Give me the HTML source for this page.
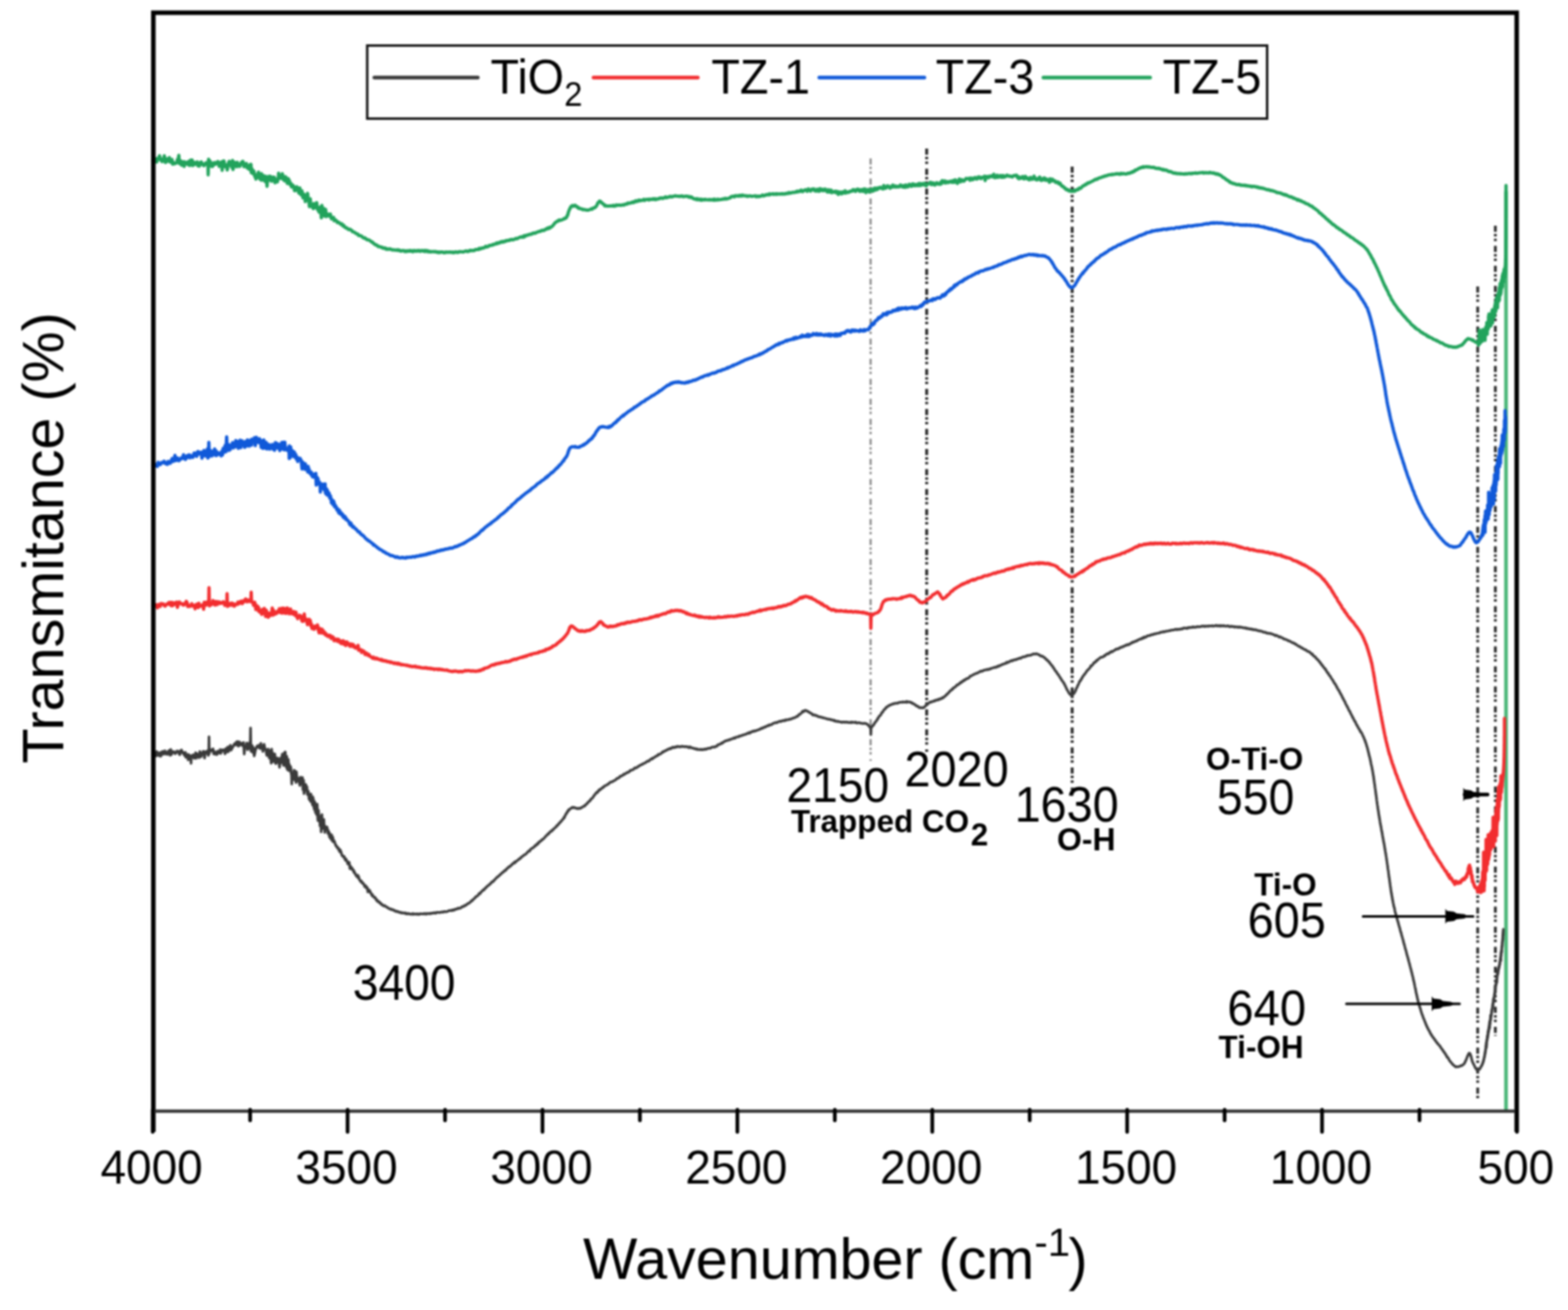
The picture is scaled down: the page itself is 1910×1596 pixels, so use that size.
<!DOCTYPE html>
<html><head><meta charset="utf-8"><title>FTIR spectra</title>
<style>
html,body{margin:0;padding:0;background:#fff;overflow:hidden;}
svg{display:block;filter:blur(0.8px);}
text{font-family:"Liberation Sans", Arial, sans-serif;fill:#000;}
</style></head>
<body>
<svg width="1910" height="1596" viewBox="0 0 1910 1596">
<rect x="0" y="0" width="1910" height="1596" fill="#fff"/>
<!-- dotted guide lines -->
<g fill="none" stroke-dasharray="7.5 2.6 3 2.6 3 5.7">
<line x1="1060.5" y1="193" x2="1060.5" y2="927" stroke="#8a8a8a" stroke-width="2.6"/>
<line x1="1128.8" y1="181" x2="1128.8" y2="916" stroke="#2a2a2a" stroke-width="3.6"/>
<line x1="1306" y1="203" x2="1306" y2="962" stroke="#2a2a2a" stroke-width="3.6"/>
<line x1="1800" y1="349" x2="1800" y2="1338" stroke="#2a2a2a" stroke-width="3.4"/>
<line x1="1821.5" y1="275" x2="1821.5" y2="1262" stroke="#2a2a2a" stroke-width="3.4"/>
</g>
<!-- curves -->
<g fill="none" stroke-linejoin="round" stroke-linecap="round">
<line x1="1834.5" y1="234" x2="1834.5" y2="1353" stroke="#48b576" stroke-width="4.4"/>
<path d="M186.0 919.0L186.4 919.0L187.3 914.7L188.4 921.4L188.9 918.7L189.6 917.3L190.2 920.9L190.9 915.6L191.7 920.5L192.5 917.1L193.4 918.2L194.3 921.0L195.2 917.0L196.1 921.3L197.1 916.1L198.0 915.5L199.0 918.9L199.9 915.4L200.9 914.8L201.6 918.6L202.4 917.2L203.1 916.2L203.9 919.1L204.7 918.2L205.5 914.6L206.4 914.2L207.2 920.2L208.1 913.2L208.9 919.4L209.8 916.3L210.7 915.6L211.5 916.7L212.4 915.9L213.3 918.3L214.1 917.5L215.0 916.4L215.8 914.8L216.7 915.3L217.5 915.9L218.3 918.7L219.0 919.5L219.8 914.6L220.5 917.2L221.2 913.7L221.9 916.3L222.8 916.4L223.6 918.3L224.4 919.9L225.1 920.6L225.8 916.5L226.5 922.7L227.2 921.5L227.8 921.1L228.5 919.2L229.2 925.9L230.0 919.3L230.7 923.0L231.5 924.6L232.4 921.0L232.7 930.0L233.0 921.0L233.1 920.7L233.7 922.5L234.4 922.0L235.2 919.6L235.9 923.3L236.7 923.9L237.5 921.9L238.3 917.1L239.1 923.8L240.0 918.4L240.8 919.1L241.7 921.4L242.5 923.0L243.4 915.7L244.2 917.3L245.1 922.0L245.9 917.9L246.8 917.8L247.6 915.3L248.4 916.9L249.2 923.6L250.0 915.9L250.8 917.9L251.6 915.8L252.3 914.9L253.0 916.1L253.7 920.3L254.3 918.5L254.6 897.5L254.9 918.5L255.3 912.6L256.2 914.9L257.1 913.5L257.9 914.9L258.7 914.9L259.5 912.3L260.3 918.6L261.1 915.6L261.9 918.7L262.8 919.0L263.8 916.4L264.4 919.3L265.1 915.0L265.9 916.5L266.6 917.5L267.4 917.5L268.2 913.2L269.0 918.0L269.8 914.5L270.7 913.4L271.5 914.8L272.4 913.5L273.2 913.5L274.1 918.4L275.0 912.0L275.8 911.8L276.7 916.2L277.5 910.1L278.4 915.7L279.2 912.5L280.0 909.1L280.7 908.0L281.5 914.0L282.2 912.3L282.9 911.4L283.5 909.8L284.1 909.4L284.7 907.8L285.7 906.0L286.5 905.8L287.2 907.7L287.9 904.2L288.6 904.6L289.3 903.3L290.1 909.0L291.0 908.9L291.6 903.9L292.3 906.9L293.0 906.5L293.7 907.5L294.4 905.5L295.1 907.7L295.9 908.9L296.7 904.5L297.5 918.6L298.3 909.7L299.1 910.4L299.9 908.7L300.7 905.2L301.6 913.3L302.4 912.6L303.2 907.0L304.1 904.7L304.9 905.9L305.2 886.9L305.5 905.9L305.7 915.3L306.5 914.3L307.2 908.4L308.0 916.9L308.8 910.9L309.6 921.0L310.5 917.3L311.3 913.2L312.1 911.6L312.9 909.2L313.7 910.0L314.6 908.3L315.4 907.9L316.2 911.7L317.0 911.8L317.8 905.6L318.6 911.6L319.4 910.0L320.2 915.5L320.9 909.0L321.7 906.8L322.4 910.4L323.1 913.1L323.7 912.8L324.3 916.6L325.0 920.3L325.6 917.4L326.2 920.4L326.8 912.5L327.4 917.6L328.0 923.6L328.6 914.7L329.1 923.0L329.7 922.2L330.3 929.9L330.9 912.7L331.4 920.7L332.0 917.2L332.6 927.8L333.1 923.7L333.7 919.2L334.2 925.6L334.8 918.5L335.4 929.5L336.0 930.4L336.5 923.1L337.1 928.4L337.9 928.7L338.8 923.9L339.6 926.5L340.5 934.8L341.3 927.1L342.2 923.1L343.0 929.2L343.8 918.8L344.6 923.4L345.4 932.7L346.2 917.1L346.9 925.3L347.5 916.1L348.0 926.7L348.5 933.5L348.9 934.8L349.3 921.4L349.7 934.5L350.0 937.6L350.3 934.7L350.6 937.8L350.9 932.0L351.2 925.2L351.5 931.3L351.8 938.9L352.1 930.7L352.5 932.9L352.9 933.2L353.3 933.1L353.8 938.9L354.2 934.4L354.7 942.9L355.1 943.2L355.4 955.2L355.7 943.2L355.6 943.6L356.1 944.3L356.6 950.0L357.1 941.3L357.7 942.2L358.2 938.4L358.8 947.0L359.4 950.7L360.0 939.7L360.6 953.4L361.1 940.3L361.7 948.7L362.3 948.3L362.9 947.9L363.5 951.8L364.1 950.5L364.7 954.2L365.3 956.9L365.8 946.8L366.4 954.2L366.9 951.4L367.5 954.3L368.0 949.3L368.5 947.2L369.0 962.1L369.4 960.5L369.9 950.7L370.3 966.9L370.8 957.3L371.2 962.0L371.7 955.8L372.1 956.4L372.6 955.9L373.0 963.2L373.4 960.4L373.9 958.6L374.3 967.6L374.7 968.0L375.2 963.5L375.6 964.3L376.0 966.4L376.4 973.5L376.8 970.2L377.2 974.5L377.6 968.6L378.0 972.8L378.4 976.7L378.8 967.3L379.2 974.0L379.5 974.4L379.9 974.1L380.3 977.4L380.6 980.7L381.0 970.8L381.4 973.8L381.8 973.4L382.1 983.1L382.5 982.3L382.8 986.1L383.2 985.1L383.5 976.8L383.8 984.4L384.2 989.9L384.5 988.4L384.8 986.2L385.1 980.8L385.4 992.1L385.7 990.0L386.0 991.5L386.4 979.7L386.7 987.8L387.0 996.1L387.3 999.9L387.6 987.2L388.0 987.2L388.3 995.1L388.7 993.9L389.0 994.2L389.4 994.6L389.8 1006.1L390.1 999.1L390.5 998.0L390.9 999.5L391.2 1013.5L391.5 999.5L391.3 998.9L391.7 1006.9L392.1 992.4L392.5 1001.4L392.9 1000.2L393.3 1009.3L393.7 1007.7L394.1 1001.1L394.5 998.4L394.9 1008.5L395.3 1005.5L395.7 1014.2L396.2 1008.3L396.6 1007.9L397.0 1008.9L397.4 1009.3L397.8 1009.8L398.2 1007.3L398.7 1009.6L399.1 1010.5L399.5 1015.5L399.9 1013.7L400.3 1012.8L400.7 1013.9L401.2 1019.4L401.6 1015.0L402.0 1020.6L402.4 1019.8L402.8 1021.7L403.2 1017.3L403.6 1022.9L404.0 1017.2L404.5 1023.7L404.9 1024.6L405.3 1019.8L405.7 1021.8L406.2 1025.7L406.6 1025.8L407.0 1024.3L407.5 1025.4L408.0 1027.3L408.4 1028.5L408.9 1030.1L409.4 1029.7L409.9 1031.5L410.4 1031.6L410.8 1032.8L411.1 1033.1L411.5 1032.3L411.9 1034.1L412.3 1033.5L412.7 1034.2L413.1 1036.4L413.5 1034.5L414.0 1037.9L414.4 1035.5L414.8 1036.4L415.2 1037.4L415.7 1038.9L416.1 1040.5L416.6 1042.3L417.0 1041.9L417.5 1042.5L417.9 1043.4L418.4 1044.0L418.8 1044.6L419.3 1043.5L419.8 1045.8L420.2 1046.7L420.7 1048.0L421.2 1046.2L421.6 1046.8L422.1 1049.0L422.6 1048.6L423.0 1049.2L423.5 1052.5L424.0 1051.5L424.5 1051.7L424.9 1053.0L425.4 1050.6L425.9 1055.0L426.3 1058.3L426.8 1055.2L427.3 1055.8L427.7 1056.5L428.2 1058.6L428.6 1058.3L429.1 1057.8L429.5 1060.0L430.0 1059.4L430.4 1060.4L430.9 1062.5L431.3 1061.0L431.8 1063.8L432.3 1063.8L432.9 1064.1L433.4 1066.3L433.9 1066.5L434.4 1067.2L434.9 1068.2L435.4 1068.2L436.0 1066.3L436.5 1069.9L437.0 1068.3L437.5 1070.9L438.0 1071.7L438.5 1073.0L439.0 1072.9L439.5 1074.3L440.1 1073.3L440.6 1074.0L441.1 1075.7L441.6 1076.3L442.1 1075.9L442.6 1076.2L443.1 1077.4L443.6 1078.1L444.1 1080.1L444.6 1079.6L445.1 1078.8L445.6 1079.4L446.1 1081.8L446.6 1082.1L447.1 1081.0L447.6 1082.2L448.1 1086.7L448.6 1085.0L449.2 1085.0L449.7 1084.3L450.2 1085.3L450.8 1085.6L451.3 1087.9L451.8 1088.1L452.3 1088.7L452.8 1090.5L453.3 1091.2L453.8 1090.0L454.3 1092.2L454.8 1092.1L455.3 1092.6L455.9 1093.0L456.4 1094.0L456.9 1093.3L457.4 1094.5L458.0 1095.1L458.5 1096.9L459.1 1096.1L459.7 1097.6L460.2 1098.5L460.8 1097.9L461.4 1098.5L462.1 1098.9L462.7 1100.4L463.3 1099.9L464.0 1101.0L464.6 1102.0L465.3 1101.6L465.9 1102.4L466.6 1103.3L467.3 1103.8L468.0 1103.6L468.7 1103.2L469.4 1104.1L470.2 1104.7L470.9 1105.1L471.6 1105.1L472.4 1106.1L473.1 1106.5L473.9 1106.9L474.6 1107.3L475.4 1107.2L476.1 1107.9L476.9 1108.2L477.7 1107.8L478.4 1108.6L479.2 1108.9L479.9 1108.7L480.7 1109.7L481.5 1110.1L482.2 1109.8L483.0 1110.6L483.7 1110.2L484.5 1110.8L485.3 1110.7L486.0 1111.5L486.8 1111.3L487.6 1111.9L488.4 1111.4L489.1 1112.3L489.9 1112.3L490.7 1112.2L491.5 1112.2L492.3 1112.7L493.0 1112.5L493.8 1112.1L494.6 1113.3L495.4 1112.9L496.2 1113.5L497.0 1113.0L497.8 1112.9L498.6 1113.5L499.5 1113.8L500.3 1113.6L501.1 1113.8L502.0 1113.8L502.8 1112.9L503.7 1114.0L504.6 1113.4L505.3 1113.7L506.1 1113.4L506.8 1113.5L507.6 1114.0L508.4 1113.3L509.1 1113.4L509.9 1114.2L510.7 1114.0L511.5 1113.3L512.4 1113.1L513.2 1113.5L514.0 1113.5L514.8 1113.4L515.7 1113.0L516.5 1113.6L517.3 1112.9L518.2 1113.1L519.0 1113.8L519.9 1112.9L520.7 1113.1L521.6 1113.1L522.4 1112.9L523.3 1113.0L524.1 1113.3L524.9 1112.4L525.8 1112.7L526.6 1112.8L527.4 1112.1L528.3 1112.2L529.1 1112.4L529.9 1111.8L530.7 1112.6L531.5 1112.0L532.2 1111.4L533.0 1111.7L533.8 1111.7L534.5 1111.7L535.3 1111.8L536.0 1111.6L536.9 1111.6L537.8 1110.9L538.7 1111.2L539.5 1111.5L540.4 1110.6L541.3 1110.8L542.1 1110.6L543.0 1110.9L543.8 1110.7L544.7 1110.4L545.5 1110.4L546.3 1109.6L547.1 1109.5L547.9 1109.2L548.7 1109.4L549.5 1109.5L550.3 1108.8L551.1 1109.3L551.9 1108.3L552.6 1108.7L553.4 1108.9L554.1 1107.8L554.9 1107.6L555.6 1107.5L556.3 1107.6L557.0 1107.1L557.8 1106.4L558.6 1106.3L559.4 1106.9L560.1 1106.6L560.9 1106.1L561.6 1106.0L562.3 1105.1L563.0 1104.4L563.7 1104.7L564.4 1104.4L565.1 1104.3L565.7 1103.2L566.4 1103.1L567.1 1103.1L567.8 1102.6L568.5 1101.9L569.3 1101.4L570.0 1100.7L570.6 1100.8L571.2 1100.2L571.7 1100.0L572.3 1099.4L572.9 1099.2L573.4 1098.5L574.0 1097.6L574.6 1097.4L575.2 1097.5L575.8 1096.2L576.3 1096.1L576.9 1095.2L577.5 1094.9L578.1 1094.6L578.7 1093.8L579.3 1092.6L579.8 1092.8L580.4 1092.1L581.0 1091.7L581.7 1091.5L582.3 1090.7L582.9 1089.8L583.5 1088.7L584.1 1088.6L584.8 1088.8L585.4 1087.3L586.0 1086.7L586.7 1086.6L587.3 1085.5L588.0 1085.0L588.5 1084.2L589.1 1084.4L589.6 1084.2L590.2 1083.0L590.8 1082.4L591.3 1081.7L591.9 1081.9L592.5 1081.1L593.0 1080.1L593.6 1079.7L594.2 1079.0L594.8 1079.0L595.4 1078.6L596.0 1077.3L596.6 1077.5L597.2 1076.5L597.8 1076.5L598.4 1075.3L599.0 1074.6L599.6 1074.2L600.3 1074.4L600.9 1073.5L601.5 1073.2L602.1 1072.0L602.7 1071.8L603.4 1070.9L604.0 1070.3L604.6 1069.6L605.2 1069.2L605.9 1068.4L606.5 1067.8L607.1 1067.8L607.8 1066.9L608.4 1066.5L609.0 1065.6L609.7 1065.4L610.3 1064.8L610.9 1064.1L611.5 1063.2L612.2 1063.0L612.8 1062.9L613.4 1061.9L614.0 1061.0L614.7 1061.1L615.3 1060.2L615.9 1060.5L616.5 1059.0L617.1 1059.1L617.7 1058.0L618.4 1057.4L619.0 1057.4L619.6 1056.2L620.2 1055.7L620.9 1056.0L621.5 1055.4L622.1 1054.7L622.8 1053.8L623.4 1053.9L624.0 1052.6L624.7 1052.2L625.3 1052.0L625.9 1051.0L626.5 1051.6L627.2 1050.0L627.8 1050.6L628.4 1049.9L629.1 1049.2L629.7 1048.6L630.3 1048.5L631.0 1047.7L631.6 1047.2L632.2 1046.3L632.9 1046.6L633.5 1045.8L634.1 1045.7L634.8 1044.2L635.4 1044.0L636.0 1043.6L636.7 1043.3L637.3 1042.4L637.9 1042.4L638.5 1041.6L639.2 1041.2L639.8 1040.9L640.4 1040.8L641.1 1040.0L641.7 1039.3L642.3 1038.5L642.9 1038.2L643.6 1037.0L644.2 1036.8L644.8 1037.0L645.4 1036.9L646.0 1034.9L646.6 1034.8L647.3 1034.0L647.9 1033.6L648.5 1033.0L649.2 1033.1L649.8 1032.2L650.4 1031.9L651.1 1031.6L651.7 1030.2L652.4 1030.3L653.0 1029.2L653.7 1029.5L654.3 1028.8L655.0 1027.3L655.6 1027.9L656.3 1026.0L656.9 1025.8L657.5 1025.8L658.2 1024.5L658.8 1024.5L659.5 1024.2L660.1 1022.8L660.7 1022.9L661.4 1022.4L662.0 1021.9L662.6 1021.3L663.2 1020.7L663.8 1020.0L664.4 1019.1L665.0 1018.9L665.6 1018.1L666.2 1017.1L666.8 1017.2L667.4 1016.3L667.9 1015.4L668.5 1015.8L669.0 1014.7L669.6 1014.2L670.1 1013.4L670.6 1013.1L671.1 1013.2L671.6 1012.4L672.1 1012.6L672.6 1011.3L673.1 1011.1L673.8 1010.9L674.5 1010.0L675.1 1009.1L675.7 1008.8L676.4 1008.3L677.0 1007.8L677.5 1007.4L678.1 1005.9L678.7 1006.1L679.2 1005.5L679.8 1004.9L680.3 1004.3L680.8 1003.1L681.4 1002.9L681.9 1002.5L682.4 1002.1L682.9 1001.0L683.4 1000.5L683.9 1000.4L684.5 999.4L685.0 999.0L685.5 998.2L686.0 997.7L686.5 997.3L687.0 995.6L687.5 996.2L687.9 994.6L688.4 993.9L688.8 992.7L689.3 992.4L689.7 991.1L690.2 991.0L690.7 990.0L691.1 988.7L691.6 988.7L692.1 988.0L692.5 986.6L693.0 987.1L693.5 986.2L694.0 985.8L694.6 985.4L695.1 985.0L695.7 984.6L696.4 984.1L697.2 983.5L698.0 984.2L698.8 983.8L699.6 983.7L700.4 984.1L701.3 984.7L702.1 984.5L703.0 985.1L703.8 984.9L704.6 985.2L705.4 984.6L706.2 985.0L707.0 984.9L707.7 984.1L708.4 984.0L709.0 983.4L709.7 983.2L710.4 982.8L711.0 982.3L711.7 981.6L712.3 981.9L713.0 981.0L713.6 980.2L714.2 979.5L714.9 979.4L715.5 978.7L716.1 977.4L716.7 977.2L717.4 976.6L718.0 975.7L718.6 975.8L719.1 975.2L719.6 973.8L720.1 973.6L720.7 972.7L721.2 972.6L721.7 972.3L722.1 971.8L722.6 970.8L723.1 970.2L723.6 969.0L724.2 968.8L724.7 968.1L725.2 967.3L725.8 966.3L726.4 966.2L726.9 965.2L727.6 965.6L728.2 964.3L728.9 964.1L729.6 962.5L730.1 962.7L730.6 962.6L731.2 961.4L731.7 961.6L732.3 961.2L732.9 960.6L733.5 959.9L734.1 959.1L734.7 959.4L735.3 958.9L736.0 958.1L736.6 957.4L737.3 957.2L738.0 957.0L738.6 956.6L739.3 956.1L740.0 955.8L740.7 955.0L741.4 955.1L742.1 953.9L742.8 953.6L743.5 952.9L744.3 952.9L745.0 952.7L745.7 952.1L746.4 952.1L747.2 951.5L747.9 951.2L748.6 950.7L749.4 950.5L750.1 949.9L750.8 949.0L751.5 948.4L752.3 948.5L753.0 947.8L753.7 947.6L754.4 947.3L755.1 945.9L755.8 945.8L756.5 945.4L757.2 945.3L757.9 944.9L758.6 944.2L759.3 944.2L760.0 942.9L760.7 943.4L761.4 942.7L762.1 942.5L762.8 942.0L763.5 941.2L764.2 941.4L764.9 940.9L765.6 940.7L766.3 940.1L767.0 939.9L767.7 938.6L768.4 938.5L769.1 938.2L769.8 938.2L770.5 938.0L771.1 937.6L771.9 937.3L772.6 935.9L773.3 935.6L774.0 935.3L774.7 935.8L775.4 935.2L776.1 934.8L776.8 934.1L777.5 933.9L778.2 933.4L778.9 932.9L779.6 932.5L780.4 932.2L781.1 931.5L781.8 931.3L782.5 931.3L783.3 930.5L784.0 930.1L784.7 930.0L785.5 929.6L786.2 929.3L786.9 928.5L787.6 928.1L788.2 927.9L788.9 927.2L789.6 927.5L790.3 927.5L791.0 926.4L791.7 925.9L792.4 925.1L793.1 924.9L793.9 924.2L794.6 924.8L795.3 923.4L796.0 923.4L796.7 923.1L797.5 922.5L798.2 921.8L798.9 921.3L799.6 921.2L800.4 920.8L801.1 920.5L801.8 919.1L802.6 919.3L803.3 918.9L804.0 918.6L804.7 918.6L805.5 917.6L806.2 917.3L806.9 916.1L807.6 916.4L808.4 915.4L809.1 915.4L809.8 915.2L810.5 914.4L811.2 914.4L811.9 914.0L812.6 913.7L813.3 912.9L814.0 913.0L814.7 912.6L815.4 912.1L816.1 911.8L816.8 912.4L817.4 911.4L818.1 911.1L818.8 911.1L819.4 910.3L820.1 910.8L821.0 911.0L821.9 910.1L822.7 910.4L823.6 909.7L824.5 910.2L825.4 909.2L826.3 909.5L827.2 909.5L828.0 910.1L828.9 909.4L829.8 909.8L830.6 909.2L831.5 909.3L832.3 909.7L833.2 909.6L834.0 909.8L834.8 909.6L835.6 910.0L836.4 909.5L837.2 909.7L838.0 910.3L838.8 910.8L839.5 909.9L840.2 910.8L840.9 909.9L841.6 910.8L842.3 910.9L843.2 911.4L844.1 911.4L844.9 911.5L845.7 912.1L846.5 912.3L847.2 912.2L848.0 912.0L848.7 913.1L849.4 912.5L850.2 912.9L851.0 913.2L851.8 913.3L852.7 913.0L853.4 913.4L854.1 912.9L854.9 913.5L855.7 913.4L856.5 913.5L857.3 912.9L858.1 912.8L858.9 912.4L859.7 913.0L860.5 912.3L861.4 912.3L862.2 911.8L863.1 911.5L863.9 911.6L864.7 911.7L865.5 911.6L866.4 910.6L867.2 910.5L868.0 910.1L868.7 910.2L869.5 910.2L870.3 910.3L871.0 909.6L871.8 909.6L872.5 909.2L873.2 909.2L873.9 907.9L874.6 907.7L875.3 907.0L876.0 907.1L876.7 906.7L877.4 906.5L878.1 906.3L878.8 905.1L879.5 905.7L880.3 905.2L881.0 904.0L881.8 903.9L882.5 903.5L883.3 902.8L884.1 902.6L884.8 902.3L885.5 902.4L886.2 902.0L887.0 901.5L887.7 901.4L888.5 901.6L889.2 900.9L890.0 900.8L890.8 900.4L891.6 900.1L892.4 900.0L893.1 899.7L893.9 898.8L894.7 899.4L895.5 899.3L896.3 898.3L897.1 898.0L897.9 897.9L898.7 897.8L899.6 897.7L900.4 896.7L901.2 897.0L902.0 896.7L902.7 896.2L903.5 896.2L904.3 895.9L905.1 895.4L905.9 895.2L906.7 895.2L907.4 894.7L908.2 894.4L909.0 894.5L909.8 894.0L910.5 893.2L911.3 893.5L912.1 893.5L912.9 892.3L913.6 893.1L914.4 892.2L915.2 891.9L915.9 891.1L916.7 891.5L917.5 891.3L918.3 890.4L919.0 890.9L919.8 890.3L920.6 890.5L921.4 890.1L922.1 889.5L922.9 889.5L923.7 889.2L924.5 888.9L925.2 888.4L926.0 888.5L926.8 888.0L927.5 887.0L928.3 887.1L929.0 887.4L929.8 886.3L930.6 886.1L931.4 886.2L932.1 885.3L932.9 885.5L933.7 884.7L934.5 884.4L935.2 884.0L936.0 884.3L936.8 883.1L937.6 883.4L938.3 883.3L939.1 882.7L939.8 882.9L940.6 882.4L941.3 881.7L942.1 881.2L942.8 880.9L943.5 880.8L944.2 880.8L944.9 880.2L945.6 880.3L946.3 880.6L947.0 880.0L947.9 879.5L948.8 879.1L949.6 878.7L950.5 879.2L951.3 879.0L952.1 878.2L953.0 878.0L953.8 878.3L954.6 877.7L955.4 878.0L956.1 878.1L956.9 877.0L957.7 877.4L958.5 877.0L959.2 877.0L960.0 876.6L960.8 876.8L961.6 876.1L962.4 876.4L963.1 876.0L963.9 876.0L964.6 875.4L965.4 875.3L966.1 874.8L966.9 874.6L967.6 874.6L968.3 874.2L969.0 873.8L969.8 873.3L970.5 872.7L971.2 873.0L971.9 872.4L972.6 871.7L973.3 870.4L974.0 870.3L974.7 870.1L975.4 869.3L976.1 868.8L976.7 868.2L977.4 866.7L978.1 867.2L978.8 866.1L979.5 866.7L980.2 865.7L980.9 865.4L981.6 865.6L982.4 866.0L983.1 866.4L983.9 866.3L984.6 867.3L985.3 867.6L986.1 867.8L986.8 868.5L987.6 868.8L988.4 869.6L989.1 869.6L989.9 871.0L990.6 870.6L991.4 871.1L992.2 871.0L993.0 871.1L993.7 872.0L994.5 872.0L995.2 871.9L996.0 872.6L996.8 873.1L997.6 873.4L998.4 873.3L999.2 873.3L1000.1 873.9L1001.0 873.8L1001.9 874.3L1002.6 874.4L1003.3 874.6L1004.0 874.9L1004.7 875.0L1005.5 875.1L1006.2 875.4L1007.0 875.8L1007.8 875.9L1008.6 876.0L1009.4 876.5L1010.2 876.2L1011.0 876.4L1011.9 876.5L1012.7 877.2L1013.6 877.0L1014.4 877.4L1015.3 877.3L1016.1 878.3L1017.0 877.7L1017.8 878.6L1018.7 878.8L1019.5 879.1L1020.3 878.7L1021.2 878.9L1022.0 879.4L1022.8 879.4L1023.6 879.5L1024.4 879.5L1025.2 880.2L1026.1 879.7L1026.9 880.0L1027.7 879.6L1028.6 879.6L1029.4 880.1L1030.3 879.7L1031.1 879.9L1031.9 879.6L1032.8 880.1L1033.6 880.0L1034.5 880.5L1035.3 880.0L1036.1 879.9L1036.9 880.5L1037.7 879.7L1038.5 879.8L1039.3 880.1L1040.1 880.1L1040.9 880.1L1041.6 880.3L1042.4 879.7L1043.1 880.7L1043.8 880.8L1044.7 880.8L1045.7 880.4L1046.6 880.4L1047.6 880.9L1048.5 881.1L1049.4 881.0L1050.3 881.3L1051.1 881.6L1052.0 881.5L1052.8 881.0L1053.6 881.2L1054.3 881.6L1055.0 881.7L1055.7 881.8L1056.3 882.2L1057.2 883.4L1057.9 883.4L1058.5 884.3L1059.1 885.4L1059.8 886.3L1060.5 885.9L1060.8 894.9L1061.1 885.9L1060.9 885.7L1061.4 886.0L1061.9 885.3L1062.3 885.6L1062.8 884.3L1063.4 884.0L1063.9 883.7L1064.4 882.9L1064.9 881.7L1065.5 881.1L1066.0 879.9L1066.6 879.7L1067.2 878.4L1067.7 878.2L1068.3 877.2L1068.8 875.9L1069.4 875.8L1069.9 874.0L1070.5 873.6L1071.0 872.7L1071.5 872.0L1072.0 871.8L1072.5 871.4L1073.0 870.6L1073.4 869.9L1073.9 868.4L1074.3 868.4L1074.8 867.6L1075.2 867.6L1075.7 866.7L1076.2 865.5L1076.7 865.2L1077.2 864.3L1077.7 864.1L1078.3 863.7L1078.9 862.9L1079.5 861.6L1080.1 861.7L1080.8 861.3L1081.5 860.5L1082.1 859.8L1082.7 859.8L1083.4 859.7L1084.0 858.8L1084.7 858.9L1085.5 858.4L1086.2 858.4L1087.0 857.7L1087.8 857.4L1088.6 857.6L1089.4 857.0L1090.2 856.9L1091.0 856.7L1091.9 856.9L1092.7 856.6L1093.6 856.8L1094.4 856.0L1095.3 855.9L1096.2 855.6L1097.0 855.6L1097.9 855.5L1098.7 855.3L1099.6 855.7L1100.4 855.1L1101.2 855.3L1102.1 855.3L1102.9 855.4L1103.6 855.6L1104.4 854.5L1105.2 855.6L1105.9 855.2L1106.6 855.1L1107.5 855.0L1108.3 855.4L1109.1 855.7L1110.0 855.7L1110.8 856.9L1111.7 856.6L1112.5 857.6L1113.3 857.8L1114.1 858.0L1114.9 859.1L1115.7 859.1L1116.4 860.2L1117.2 860.4L1117.9 860.3L1118.7 861.0L1119.4 861.9L1120.1 861.9L1120.8 862.3L1121.5 862.2L1122.1 862.0L1122.8 862.3L1123.4 862.0L1124.2 862.4L1124.8 862.3L1125.5 861.9L1126.1 861.3L1126.7 860.5L1127.3 860.1L1127.8 859.3L1128.4 859.2L1129.0 858.8L1129.6 858.3L1130.2 857.7L1130.9 857.2L1131.7 856.4L1132.3 855.6L1133.0 855.5L1133.7 855.1L1134.4 855.5L1135.2 854.9L1135.9 854.7L1136.7 854.5L1137.5 853.8L1138.4 854.1L1139.2 853.2L1140.0 853.3L1140.8 852.9L1141.7 853.0L1142.5 852.1L1143.3 852.6L1144.1 851.7L1144.9 851.3L1145.7 851.7L1146.4 851.3L1147.1 851.0L1147.8 849.9L1148.5 850.4L1149.2 849.6L1149.9 849.1L1150.6 848.6L1151.2 848.2L1151.9 847.4L1152.5 846.7L1153.1 846.7L1153.7 845.3L1154.3 845.3L1154.9 844.4L1155.4 844.3L1156.0 843.6L1156.6 842.4L1157.2 842.3L1157.8 841.3L1158.4 841.0L1159.0 840.9L1159.6 839.8L1160.3 839.0L1160.9 839.3L1161.5 838.1L1162.1 837.6L1162.7 837.5L1163.3 837.1L1163.9 836.7L1164.5 835.7L1165.2 835.4L1165.8 834.4L1166.5 834.5L1167.2 834.1L1167.9 833.3L1168.6 833.2L1169.4 831.9L1170.0 832.2L1170.6 831.5L1171.2 830.6L1171.8 831.1L1172.4 829.9L1173.1 829.9L1173.7 829.0L1174.4 829.3L1175.1 828.2L1175.8 827.7L1176.5 827.8L1177.2 826.8L1177.9 826.9L1178.6 826.4L1179.3 826.3L1180.1 825.8L1180.8 825.2L1181.5 824.0L1182.3 823.6L1183.0 823.7L1183.8 822.9L1184.5 822.6L1185.3 822.1L1186.0 821.8L1186.7 821.4L1187.5 821.2L1188.2 820.8L1188.9 820.3L1189.7 820.3L1190.4 820.1L1191.2 819.5L1191.9 819.2L1192.7 819.0L1193.4 818.2L1194.2 818.2L1195.0 817.5L1195.8 818.0L1196.5 817.8L1197.3 817.0L1198.1 816.9L1198.9 816.3L1199.6 816.4L1200.4 816.2L1201.2 815.9L1202.0 815.8L1202.8 815.4L1203.5 815.8L1204.3 815.3L1205.1 815.5L1205.9 814.7L1206.7 814.8L1207.4 814.4L1208.2 814.0L1209.0 814.0L1209.8 813.5L1210.5 813.4L1211.3 813.1L1212.1 813.3L1212.8 812.8L1213.6 813.0L1214.3 812.0L1215.1 812.2L1215.8 811.4L1216.6 811.9L1217.3 810.8L1218.1 810.8L1218.8 810.9L1219.6 810.1L1220.3 809.5L1221.1 809.7L1221.8 809.1L1222.5 808.9L1223.3 808.8L1224.0 808.3L1224.8 808.4L1225.5 807.3L1226.3 807.8L1227.0 806.7L1227.8 807.0L1228.5 807.0L1229.3 806.1L1230.0 805.9L1230.8 805.3L1231.5 805.2L1232.3 804.7L1233.1 805.3L1233.9 804.4L1234.7 804.0L1235.5 804.1L1236.3 803.6L1237.1 803.8L1237.9 803.4L1238.8 803.3L1239.6 802.5L1240.4 802.5L1241.3 802.5L1242.1 801.7L1242.9 801.8L1243.7 801.9L1244.5 801.0L1245.3 800.8L1246.1 800.1L1246.9 800.5L1247.7 800.3L1248.4 800.0L1249.2 799.9L1249.9 799.2L1250.6 799.4L1251.3 798.7L1251.9 798.6L1252.6 798.8L1253.2 798.3L1254.2 798.5L1255.1 798.5L1256.0 797.8L1256.8 797.7L1257.6 797.3L1258.3 796.9L1259.1 796.6L1259.9 796.8L1260.7 796.9L1261.6 796.8L1262.3 796.4L1263.0 796.6L1263.7 796.9L1264.4 797.2L1265.2 797.7L1265.9 797.7L1266.7 798.6L1267.5 798.8L1268.2 799.5L1269.0 799.2L1269.7 799.4L1270.5 800.3L1271.2 800.4L1272.0 801.2L1272.7 801.4L1273.4 802.4L1274.1 803.2L1274.7 803.4L1275.2 803.5L1275.8 804.8L1276.3 804.8L1276.8 805.3L1277.4 805.8L1277.9 806.8L1278.4 807.0L1279.0 808.3L1279.5 808.5L1280.0 809.1L1280.5 810.1L1281.0 810.6L1281.5 810.9L1282.0 811.5L1282.5 812.6L1283.0 813.5L1283.5 814.1L1283.9 814.3L1284.4 815.4L1284.9 816.3L1285.3 816.9L1285.8 817.5L1286.3 818.0L1286.7 818.2L1287.2 819.2L1287.7 820.5L1288.2 820.7L1288.7 821.6L1289.2 821.9L1289.6 822.6L1290.1 823.7L1290.5 824.1L1291.0 824.9L1291.4 825.7L1291.9 826.1L1292.3 827.4L1292.8 827.6L1293.2 828.5L1293.7 829.2L1294.1 829.7L1294.6 830.4L1295.1 830.9L1295.5 831.6L1296.0 832.9L1296.4 832.9L1296.8 833.9L1297.3 835.3L1297.7 835.6L1298.2 836.9L1298.7 837.6L1299.1 839.1L1299.6 839.6L1300.0 840.7L1300.5 841.3L1300.9 842.0L1301.4 842.9L1301.9 844.1L1302.3 844.6L1302.8 845.1L1303.2 845.4L1303.7 846.3L1304.2 846.2L1304.6 846.7L1305.1 846.7L1305.5 847.0L1305.9 847.1L1306.4 846.3L1306.8 846.1L1307.2 845.9L1307.6 845.4L1308.0 844.7L1308.4 844.6L1308.9 843.9L1309.3 842.8L1309.7 842.2L1310.1 841.7L1310.5 840.3L1310.9 839.5L1311.3 838.3L1311.8 837.7L1312.2 837.1L1312.6 835.3L1313.0 835.2L1313.4 834.1L1313.9 833.2L1314.3 832.3L1314.7 831.0L1315.1 830.0L1315.6 829.7L1316.0 829.6L1316.5 828.3L1316.9 828.2L1317.4 826.7L1317.9 826.4L1318.3 825.7L1318.8 824.3L1319.3 824.0L1319.7 823.3L1320.2 822.7L1320.7 821.8L1321.1 821.6L1321.6 820.8L1322.1 820.3L1322.6 819.4L1323.1 818.8L1323.5 818.4L1324.0 817.2L1324.5 816.8L1325.0 816.6L1325.5 815.9L1326.0 815.2L1326.5 814.9L1327.1 814.3L1327.6 813.5L1328.2 812.7L1328.8 811.2L1329.3 811.8L1329.9 810.8L1330.5 810.3L1331.0 810.0L1331.6 808.9L1332.2 807.7L1332.8 807.8L1333.4 807.1L1334.0 806.3L1334.6 806.4L1335.2 805.3L1335.8 804.5L1336.4 804.8L1337.0 804.1L1337.7 803.4L1338.3 802.7L1339.0 802.3L1339.7 801.8L1340.4 801.3L1341.0 800.7L1341.7 800.9L1342.4 800.6L1343.1 800.5L1343.8 800.1L1344.5 799.7L1345.2 798.6L1345.9 799.0L1346.7 797.9L1347.4 797.5L1348.1 796.8L1348.8 796.4L1349.5 796.4L1350.3 796.6L1351.0 795.5L1351.8 794.9L1352.5 795.1L1353.3 794.0L1354.0 793.7L1354.8 794.2L1355.5 793.3L1356.3 793.0L1357.0 792.7L1357.8 792.2L1358.5 791.4L1359.3 791.4L1360.0 790.6L1360.8 790.6L1361.5 790.5L1362.3 790.7L1363.0 789.6L1363.7 789.7L1364.4 788.9L1365.1 789.0L1365.9 788.9L1366.6 788.1L1367.4 787.9L1368.2 788.0L1369.1 787.1L1369.9 787.0L1370.9 786.1L1371.5 786.1L1372.0 786.4L1372.6 785.6L1373.2 785.3L1373.9 785.4L1374.5 785.7L1375.2 784.8L1375.8 784.9L1376.5 784.4L1377.2 783.8L1377.9 783.9L1378.6 782.9L1379.3 782.5L1380.0 782.8L1380.8 781.8L1381.5 782.2L1382.3 781.7L1383.0 781.5L1383.8 780.7L1384.6 780.9L1385.3 780.7L1386.1 779.6L1386.9 779.5L1387.7 779.1L1388.5 778.7L1389.3 778.3L1390.1 778.6L1391.0 777.5L1391.8 777.9L1392.6 776.7L1393.4 777.2L1394.2 775.9L1395.1 776.3L1395.9 776.2L1396.7 775.6L1397.5 774.7L1398.3 774.6L1399.2 774.5L1400.0 774.2L1400.8 774.4L1401.6 773.6L1402.4 773.2L1403.1 773.4L1403.9 773.3L1404.7 772.6L1405.4 772.9L1406.2 772.1L1406.9 772.4L1407.7 772.1L1408.5 771.9L1409.3 771.7L1410.1 771.5L1410.8 771.4L1411.6 771.2L1412.4 771.2L1413.2 770.5L1414.0 770.1L1414.8 770.3L1415.6 770.2L1416.4 770.0L1417.2 769.4L1418.0 770.0L1418.8 769.8L1419.6 769.2L1420.4 769.2L1421.2 768.9L1422.1 768.9L1422.9 768.7L1423.7 768.5L1424.5 768.2L1425.3 768.4L1426.1 768.0L1426.9 767.7L1427.8 767.6L1428.6 767.7L1429.4 767.5L1430.2 767.4L1431.0 766.9L1431.9 766.8L1432.7 766.6L1433.5 767.3L1434.3 766.6L1435.1 766.8L1435.9 766.6L1436.7 766.9L1437.6 766.7L1438.4 766.2L1439.2 766.1L1440.0 766.4L1440.8 766.0L1441.6 765.1L1442.4 765.0L1443.2 765.3L1444.0 765.3L1444.8 765.1L1445.6 765.7L1446.4 764.9L1447.2 765.3L1448.0 764.4L1448.8 764.7L1449.6 764.3L1450.4 764.7L1451.2 764.5L1452.0 764.1L1452.8 763.6L1453.6 764.4L1454.4 763.9L1455.2 764.1L1456.0 764.3L1456.8 764.1L1457.6 763.5L1458.4 763.6L1459.2 763.4L1460.0 763.5L1460.8 763.8L1461.6 763.5L1462.4 763.4L1463.2 763.3L1464.0 762.7L1464.8 763.0L1465.6 762.8L1466.4 763.2L1467.3 762.7L1468.1 763.4L1468.9 763.0L1469.7 762.7L1470.5 762.8L1471.3 762.9L1472.1 763.1L1472.9 762.4L1473.7 762.7L1474.5 762.7L1475.3 762.5L1476.1 762.8L1476.9 762.2L1477.7 762.8L1478.5 763.0L1479.3 762.5L1480.1 762.4L1480.9 762.1L1481.7 761.9L1482.5 762.7L1483.3 762.3L1484.1 762.6L1484.9 762.1L1485.7 762.4L1486.5 763.0L1487.3 762.0L1488.1 762.3L1488.9 762.3L1489.7 762.8L1490.5 762.1L1491.3 762.4L1492.1 762.8L1493.0 762.9L1493.8 762.9L1494.6 762.8L1495.4 762.4L1496.2 762.6L1497.0 763.2L1497.8 763.7L1498.6 763.4L1499.4 762.9L1500.2 763.3L1501.0 763.2L1501.8 763.4L1502.6 763.6L1503.4 763.3L1504.2 764.1L1505.0 763.6L1505.8 763.6L1506.6 763.8L1507.4 764.2L1508.2 764.4L1509.0 763.7L1509.8 764.4L1510.6 763.8L1511.4 764.2L1512.2 764.3L1513.0 764.4L1513.8 764.6L1514.6 764.9L1515.4 765.0L1516.2 765.1L1517.0 764.7L1517.8 765.3L1518.6 765.8L1519.4 765.3L1520.2 765.7L1521.0 766.0L1521.8 766.4L1522.6 766.1L1523.4 766.4L1524.2 766.2L1525.0 767.0L1525.8 766.7L1526.6 766.8L1527.4 767.4L1528.2 767.4L1529.0 767.0L1529.9 767.3L1530.7 767.8L1531.5 767.9L1532.3 768.3L1533.1 768.6L1533.9 768.3L1534.7 769.0L1535.5 768.8L1536.4 768.9L1537.2 769.2L1538.0 769.5L1538.8 770.2L1539.6 770.1L1540.4 770.4L1541.2 770.2L1542.0 770.6L1542.8 771.4L1543.6 771.1L1544.4 771.4L1545.2 771.7L1546.0 771.5L1546.8 771.9L1547.5 771.7L1548.3 772.1L1549.1 772.3L1549.9 772.6L1550.6 772.8L1551.4 773.2L1552.1 773.5L1552.9 773.5L1553.6 774.5L1554.4 774.1L1555.1 774.1L1555.8 774.5L1556.6 775.0L1557.3 775.4L1558.0 776.2L1558.7 775.9L1559.4 775.7L1560.2 776.5L1561.0 777.0L1561.8 777.0L1562.6 777.3L1563.4 778.2L1564.2 778.6L1565.0 778.6L1565.8 778.9L1566.6 779.3L1567.4 779.5L1568.1 779.7L1568.9 780.6L1569.7 780.8L1570.4 780.6L1571.2 781.3L1571.9 781.7L1572.6 781.8L1573.4 782.7L1574.1 782.8L1574.8 783.4L1575.5 783.1L1576.2 783.5L1577.0 784.1L1577.7 784.8L1578.3 784.6L1579.0 785.5L1579.7 785.7L1580.4 786.2L1581.1 787.0L1581.7 787.2L1582.4 787.3L1583.0 787.3L1583.7 788.3L1584.3 788.7L1585.0 788.8L1585.6 789.0L1586.4 790.0L1587.1 789.9L1587.9 790.6L1588.6 790.9L1589.3 791.6L1590.0 791.5L1590.7 791.8L1591.4 792.4L1592.1 793.2L1592.7 793.1L1593.4 793.7L1594.0 793.8L1594.7 794.0L1595.3 794.6L1596.0 795.1L1596.6 795.7L1597.3 796.5L1597.9 797.2L1598.6 796.7L1599.3 798.1L1599.9 798.8L1600.6 799.5L1601.3 800.1L1601.8 799.9L1602.2 800.3L1602.7 801.2L1603.2 801.8L1603.7 802.6L1604.2 802.7L1604.7 803.2L1605.1 803.7L1605.6 804.1L1606.1 805.1L1606.6 805.3L1607.1 806.0L1607.6 806.9L1608.1 806.9L1608.6 808.0L1609.1 809.0L1609.6 808.9L1610.1 810.0L1610.6 810.8L1611.1 810.9L1611.6 811.7L1612.1 812.6L1612.6 813.1L1613.1 813.9L1613.6 814.7L1614.1 814.5L1614.6 815.9L1615.1 816.1L1615.6 817.4L1616.1 817.9L1616.6 819.1L1617.0 819.5L1617.5 820.0L1618.0 820.1L1618.5 821.7L1619.0 822.5L1619.5 823.0L1619.9 823.3L1620.4 823.9L1620.9 824.7L1621.3 825.7L1621.8 826.4L1622.2 826.9L1622.7 827.6L1623.1 828.2L1623.6 829.0L1624.0 829.9L1624.5 830.4L1624.9 831.6L1625.3 832.4L1625.8 832.4L1626.2 832.9L1626.6 834.0L1627.1 834.6L1627.5 835.3L1627.9 836.1L1628.3 837.4L1628.7 837.2L1629.2 838.6L1629.6 839.4L1630.0 839.8L1630.4 840.8L1630.8 840.8L1631.2 841.6L1631.6 842.6L1632.0 843.2L1632.4 844.4L1632.8 845.0L1633.2 845.3L1633.6 846.2L1634.0 847.2L1634.4 847.6L1634.8 848.5L1635.2 849.8L1635.6 850.1L1635.9 851.2L1636.3 851.2L1636.7 852.5L1637.1 853.3L1637.4 853.5L1637.8 854.3L1638.2 855.1L1638.5 855.6L1638.9 856.8L1639.2 857.6L1639.6 858.4L1639.9 858.6L1640.3 859.4L1640.6 859.9L1640.9 861.1L1641.3 861.3L1641.6 861.7L1641.9 862.4L1642.3 863.3L1642.6 864.2L1642.9 864.7L1643.2 865.5L1643.6 866.1L1644.1 866.4L1644.5 867.3L1644.9 868.2L1645.3 869.6L1645.7 870.1L1646.1 870.6L1646.5 871.4L1646.9 872.2L1647.2 872.8L1647.6 874.2L1647.9 874.2L1648.3 874.6L1648.7 875.9L1649.0 876.3L1649.4 877.4L1649.7 877.7L1650.1 878.5L1650.5 878.7L1650.8 879.3L1651.2 880.3L1651.6 881.0L1652.0 882.1L1652.4 882.9L1652.8 883.4L1653.2 883.7L1653.6 885.1L1654.0 885.6L1654.4 886.4L1654.8 887.1L1655.2 887.5L1655.6 888.2L1656.0 888.9L1656.4 890.0L1656.8 890.0L1657.2 891.5L1657.6 891.4L1658.0 892.4L1658.4 892.6L1658.8 893.3L1659.2 894.1L1659.6 895.1L1660.0 895.9L1660.4 897.1L1660.7 897.4L1661.1 898.1L1661.5 899.4L1661.8 900.0L1662.1 901.0L1662.3 901.2L1662.6 902.1L1662.8 902.7L1663.1 902.8L1663.3 904.5L1663.6 904.8L1663.8 905.2L1664.0 905.9L1664.3 906.9L1664.5 908.1L1664.7 908.0L1664.9 909.3L1665.2 909.8L1665.4 910.3L1665.6 911.5L1665.8 912.0L1666.0 913.0L1666.2 913.6L1666.4 914.5L1666.6 915.5L1666.8 915.9L1667.0 916.9L1667.2 917.4L1667.4 918.6L1667.6 919.7L1667.8 920.0L1668.0 921.3L1668.2 921.5L1668.4 922.5L1668.6 923.1L1668.8 923.9L1669.0 924.8L1669.2 925.9L1669.4 927.0L1669.6 927.7L1669.8 928.8L1669.9 929.3L1670.1 930.8L1670.3 931.6L1670.5 931.8L1670.7 933.4L1670.8 933.4L1671.0 934.2L1671.1 934.5L1671.3 935.8L1671.4 936.6L1671.5 937.5L1671.7 937.9L1671.8 938.7L1671.9 938.7L1672.1 940.1L1672.2 941.1L1672.3 941.5L1672.4 941.9L1672.6 943.3L1672.7 944.3L1672.8 944.8L1672.9 945.5L1673.1 945.6L1673.2 946.6L1673.3 947.8L1673.4 948.7L1673.5 949.5L1673.7 950.3L1673.8 951.2L1673.9 951.9L1674.0 952.4L1674.1 953.2L1674.2 954.3L1674.4 955.2L1674.5 955.5L1674.6 956.2L1674.7 957.9L1674.8 957.9L1674.9 959.4L1675.0 960.0L1675.2 960.6L1675.3 961.7L1675.4 962.5L1675.5 963.7L1675.6 963.8L1675.7 965.1L1675.8 965.8L1675.9 966.7L1676.0 967.5L1676.2 968.3L1676.3 969.4L1676.4 970.3L1676.5 970.2L1676.6 971.9L1676.7 972.2L1676.8 973.5L1676.9 974.2L1677.0 974.8L1677.2 976.1L1677.3 976.6L1677.4 978.0L1677.5 978.4L1677.6 979.3L1677.7 980.1L1677.8 980.8L1678.0 981.8L1678.1 982.4L1678.2 982.9L1678.3 984.2L1678.4 985.5L1678.5 985.8L1678.7 986.2L1678.8 987.1L1678.9 988.0L1679.0 988.3L1679.1 989.2L1679.3 990.0L1679.4 991.7L1679.5 991.8L1679.6 993.2L1679.8 993.2L1679.9 993.9L1680.0 995.3L1680.2 995.4L1680.3 997.3L1680.5 997.4L1680.6 998.8L1680.7 998.7L1680.9 1000.0L1681.0 1000.9L1681.1 1001.6L1681.3 1002.9L1681.4 1003.7L1681.6 1004.2L1681.7 1005.2L1681.8 1005.4L1682.0 1006.3L1682.1 1007.4L1682.3 1007.5L1682.4 1008.6L1682.5 1009.3L1682.7 1010.3L1682.8 1011.6L1683.0 1011.9L1683.1 1012.7L1683.3 1013.2L1683.4 1014.1L1683.5 1014.6L1683.7 1015.9L1683.8 1016.4L1684.0 1017.6L1684.1 1018.0L1684.2 1019.0L1684.4 1019.4L1684.5 1020.8L1684.7 1021.2L1684.8 1021.7L1685.0 1022.9L1685.1 1023.8L1685.2 1024.6L1685.4 1025.4L1685.5 1026.1L1685.7 1026.4L1685.8 1027.1L1685.9 1028.0L1686.1 1028.6L1686.2 1029.9L1686.4 1030.1L1686.5 1031.5L1686.6 1032.0L1686.8 1032.9L1686.9 1034.2L1687.1 1034.4L1687.2 1035.8L1687.3 1036.5L1687.5 1037.0L1687.6 1038.3L1687.8 1038.9L1687.9 1039.2L1688.0 1040.7L1688.2 1041.2L1688.3 1042.4L1688.4 1042.9L1688.5 1043.2L1688.7 1044.6L1688.8 1045.0L1688.9 1045.6L1689.0 1047.0L1689.1 1047.4L1689.3 1048.5L1689.4 1049.0L1689.5 1050.0L1689.6 1050.5L1689.7 1051.3L1689.8 1052.5L1690.0 1053.0L1690.1 1054.3L1690.2 1054.7L1690.3 1055.1L1690.4 1056.8L1690.5 1057.0L1690.6 1058.2L1690.7 1058.9L1690.8 1059.7L1691.0 1060.4L1691.1 1060.6L1691.2 1061.8L1691.3 1062.3L1691.4 1063.7L1691.5 1064.6L1691.6 1065.0L1691.7 1065.6L1691.8 1067.1L1691.9 1068.2L1692.0 1068.6L1692.2 1069.2L1692.3 1069.9L1692.4 1071.2L1692.5 1071.3L1692.6 1072.2L1692.7 1073.4L1692.8 1073.6L1692.9 1074.4L1693.0 1075.8L1693.2 1076.2L1693.3 1076.8L1693.4 1078.4L1693.5 1079.2L1693.6 1080.0L1693.7 1080.1L1693.9 1081.4L1694.0 1082.8L1694.1 1082.9L1694.2 1083.8L1694.3 1084.9L1694.5 1085.8L1694.6 1086.4L1694.7 1087.6L1694.8 1088.4L1695.0 1088.1L1695.1 1089.5L1695.2 1090.1L1695.4 1091.2L1695.5 1091.9L1695.6 1092.2L1695.8 1092.9L1695.9 1093.6L1696.0 1095.4L1696.2 1095.3L1696.3 1096.3L1696.5 1096.9L1696.6 1098.0L1696.7 1097.9L1696.9 1099.7L1697.0 1099.7L1697.2 1101.0L1697.4 1101.5L1697.6 1102.2L1697.7 1103.8L1697.9 1104.4L1698.1 1104.9L1698.3 1105.6L1698.5 1106.2L1698.7 1106.8L1698.9 1108.0L1699.0 1109.0L1699.2 1109.5L1699.4 1110.8L1699.6 1111.6L1699.8 1112.4L1700.0 1112.7L1700.2 1113.3L1700.4 1114.4L1700.7 1115.1L1700.9 1115.7L1701.1 1117.2L1701.3 1117.3L1701.5 1118.2L1701.7 1119.4L1701.9 1119.4L1702.1 1120.2L1702.3 1121.6L1702.6 1121.8L1702.8 1122.7L1703.0 1123.7L1703.2 1124.0L1703.4 1125.1L1703.6 1125.7L1703.8 1126.8L1704.1 1127.4L1704.3 1128.4L1704.5 1129.2L1704.7 1129.7L1704.9 1130.1L1705.2 1131.0L1705.4 1132.5L1705.6 1133.1L1705.8 1133.8L1706.0 1134.2L1706.2 1135.6L1706.5 1136.0L1706.7 1136.2L1706.9 1137.3L1707.1 1138.3L1707.3 1139.4L1707.5 1140.0L1707.7 1140.0L1708.0 1141.4L1708.2 1142.1L1708.4 1142.8L1708.6 1143.6L1708.8 1144.3L1709.0 1144.5L1709.2 1145.8L1709.4 1147.0L1709.6 1146.9L1709.8 1148.1L1710.0 1149.4L1710.2 1149.8L1710.5 1150.8L1710.7 1150.7L1710.9 1152.3L1711.1 1152.8L1711.3 1153.3L1711.5 1154.2L1711.7 1155.3L1711.9 1156.5L1712.1 1156.4L1712.4 1157.4L1712.6 1158.1L1712.8 1158.8L1713.0 1159.6L1713.2 1160.6L1713.4 1161.5L1713.6 1162.0L1713.8 1163.4L1714.0 1163.7L1714.3 1164.4L1714.5 1165.7L1714.7 1166.0L1714.9 1166.6L1715.1 1167.7L1715.3 1168.4L1715.5 1168.7L1715.7 1170.3L1715.9 1170.5L1716.1 1171.1L1716.3 1172.1L1716.6 1173.2L1716.8 1173.8L1717.0 1174.2L1717.2 1175.8L1717.4 1176.1L1717.6 1176.9L1717.8 1177.6L1718.0 1178.4L1718.2 1179.1L1718.4 1180.2L1718.6 1180.6L1718.8 1181.5L1719.0 1181.9L1719.2 1183.7L1719.4 1183.9L1719.6 1184.4L1719.8 1185.6L1719.9 1185.7L1720.1 1186.5L1720.3 1188.0L1720.5 1188.4L1720.7 1189.1L1720.9 1189.9L1721.1 1190.7L1721.3 1191.5L1721.5 1192.7L1721.7 1193.3L1721.8 1194.3L1722.0 1195.2L1722.2 1195.3L1722.4 1196.1L1722.6 1197.2L1722.7 1198.4L1722.9 1198.5L1723.1 1200.0L1723.3 1200.5L1723.4 1201.2L1723.6 1202.3L1723.8 1203.2L1723.9 1203.9L1724.1 1204.7L1724.3 1205.2L1724.4 1206.1L1724.6 1206.8L1724.7 1208.1L1724.9 1208.7L1725.1 1209.6L1725.2 1210.7L1725.4 1210.9L1725.6 1211.5L1725.7 1212.8L1725.9 1213.0L1726.1 1213.7L1726.3 1214.8L1726.4 1215.7L1726.6 1216.3L1726.8 1217.3L1727.0 1218.3L1727.2 1218.9L1727.3 1219.3L1727.5 1220.0L1727.7 1220.9L1727.9 1221.5L1728.1 1222.7L1728.3 1222.9L1728.5 1223.5L1728.7 1224.4L1728.9 1225.0L1729.2 1226.0L1729.4 1227.1L1729.6 1227.7L1729.9 1227.9L1730.1 1228.9L1730.4 1229.5L1730.6 1230.7L1730.9 1231.9L1731.2 1232.5L1731.4 1233.2L1731.7 1234.2L1732.0 1235.1L1732.2 1236.0L1732.5 1236.3L1732.8 1237.0L1733.1 1237.8L1733.3 1239.1L1733.6 1239.3L1733.9 1240.4L1734.2 1241.3L1734.5 1241.4L1734.8 1242.1L1735.1 1243.2L1735.4 1244.0L1735.7 1244.9L1736.0 1245.2L1736.3 1246.4L1736.6 1247.0L1736.9 1247.9L1737.2 1248.7L1737.5 1248.9L1737.9 1250.4L1738.2 1250.4L1738.5 1251.7L1738.8 1252.2L1739.2 1252.5L1739.5 1253.4L1739.9 1254.1L1740.2 1254.8L1740.6 1255.4L1740.9 1256.0L1741.3 1256.4L1741.7 1257.1L1742.1 1258.7L1742.6 1259.5L1743.0 1260.0L1743.4 1260.0L1743.9 1261.7L1744.3 1261.8L1744.8 1262.4L1745.2 1263.4L1745.7 1264.1L1746.2 1264.2L1746.6 1265.1L1747.1 1265.9L1747.6 1266.9L1748.1 1266.8L1748.6 1267.6L1749.1 1268.9L1749.6 1269.5L1750.1 1269.9L1750.5 1270.1L1751.0 1271.4L1751.5 1271.5L1752.0 1272.2L1752.6 1273.0L1753.1 1273.4L1753.6 1274.0L1754.1 1274.5L1754.6 1275.5L1755.1 1276.5L1755.6 1276.8L1756.1 1277.7L1756.6 1278.2L1757.1 1279.3L1757.5 1279.4L1758.0 1280.5L1758.5 1281.1L1759.0 1282.0L1759.5 1282.0L1760.0 1283.4L1760.5 1284.2L1761.1 1284.6L1761.6 1285.8L1762.1 1286.4L1762.6 1287.9L1763.1 1287.7L1763.6 1288.8L1764.2 1289.3L1764.7 1290.0L1765.2 1291.4L1765.7 1292.1L1766.2 1292.9L1766.8 1293.2L1767.3 1294.1L1767.8 1294.6L1768.3 1295.5L1768.8 1295.5L1769.3 1296.8L1769.8 1296.9L1770.3 1297.4L1770.8 1297.8L1771.3 1298.2L1771.8 1299.0L1772.3 1299.0L1772.8 1299.5L1773.2 1299.9L1773.7 1299.7L1774.6 1299.7L1775.4 1299.5L1776.3 1299.7L1777.1 1299.5L1778.0 1299.1L1778.8 1298.6L1779.6 1298.4L1780.4 1298.4L1781.2 1297.9L1781.9 1297.4L1782.6 1296.8L1783.1 1296.3L1783.6 1295.8L1784.1 1295.1L1784.6 1294.0L1785.0 1292.9L1785.5 1292.3L1785.9 1291.1L1786.3 1290.2L1786.7 1289.1L1787.1 1287.9L1787.5 1287.0L1787.8 1286.1L1788.2 1285.9L1788.5 1284.9L1788.9 1283.8L1789.2 1284.2L1789.6 1283.1L1789.9 1283.4L1790.3 1283.8L1790.6 1283.5L1790.9 1284.6L1791.2 1284.8L1791.4 1286.3L1791.7 1286.3L1792.0 1287.2L1792.2 1288.5L1792.5 1289.5L1792.8 1290.6L1793.0 1292.2L1793.3 1292.5L1793.6 1293.5L1793.9 1294.1L1794.3 1295.3L1794.7 1296.1L1795.1 1296.7L1795.5 1297.3L1796.0 1298.4L1796.4 1299.5L1796.9 1300.4L1797.4 1301.5L1797.8 1301.8L1798.3 1302.6L1798.8 1303.0L1799.3 1304.1L1799.7 1304.1L1800.2 1304.1L1800.7 1303.6L1801.1 1303.2L1801.6 1303.1L1802.1 1302.6L1802.6 1302.3L1803.0 1301.7L1803.5 1300.4L1804.0 1299.4L1804.4 1299.4L1804.9 1297.8L1805.3 1297.8L1805.7 1295.9L1806.1 1295.8L1806.2 1295.5L1806.3 1294.3L1806.4 1295.2L1806.5 1294.9L1806.6 1293.0L1806.6 1293.3L1806.7 1293.3L1806.8 1293.7L1806.9 1293.0L1807.0 1291.8L1807.1 1292.6L1807.1 1291.6L1807.2 1291.8L1807.3 1292.3L1807.4 1291.9L1807.4 1291.5L1807.5 1290.5L1807.6 1289.5L1807.7 1290.2L1807.7 1289.7L1807.8 1289.5L1807.9 1287.9L1807.9 1288.2L1808.0 1288.9L1808.1 1288.5L1808.1 1287.9L1808.2 1288.3L1808.3 1288.1L1808.3 1286.2L1808.4 1286.4L1808.5 1284.9L1808.5 1284.7L1808.6 1285.8L1808.6 1286.4L1808.7 1283.8L1808.8 1285.0L1808.8 1283.2L1808.9 1281.8L1808.9 1284.7L1809.0 1282.6L1809.0 1283.8L1809.1 1283.0L1809.2 1282.3L1809.2 1283.0L1809.3 1282.6L1809.3 1281.5L1809.4 1281.6L1809.4 1278.7L1809.5 1279.7L1809.5 1278.4L1809.6 1280.4L1809.7 1277.9L1809.7 1279.4L1809.8 1277.1L1809.8 1278.7L1809.9 1276.6L1809.9 1273.9L1810.0 1274.9L1810.0 1277.5L1810.1 1277.1L1810.1 1275.2L1810.2 1275.8L1810.2 1274.6L1810.3 1270.8L1810.3 1273.3L1810.4 1273.7L1810.4 1271.3L1810.5 1272.7L1810.6 1269.5L1810.6 1276.5L1810.7 1271.3L1810.7 1270.6L1810.8 1272.5L1810.8 1268.8L1810.9 1273.7L1810.9 1268.8L1811.0 1267.2L1811.0 1270.2L1811.1 1269.4L1811.2 1266.5L1811.2 1267.1L1811.3 1265.8L1811.3 1265.6L1811.4 1267.1L1811.4 1267.1L1811.5 1264.9L1811.6 1267.5L1811.6 1262.4L1811.7 1265.0L1811.7 1262.5L1811.8 1264.7L1811.9 1264.1L1811.9 1264.2L1812.0 1265.0L1812.1 1261.9L1812.1 1260.7L1812.2 1263.2L1812.2 1260.3L1812.3 1263.4L1812.3 1260.3L1812.4 1261.4L1812.5 1259.9L1812.5 1256.7L1812.6 1258.0L1812.6 1261.4L1812.7 1258.4L1812.7 1259.2L1812.8 1258.5L1812.9 1259.1L1812.9 1257.0L1813.0 1255.9L1813.0 1255.4L1813.1 1257.1L1813.1 1255.3L1813.2 1253.8L1813.3 1253.8L1813.3 1253.9L1813.4 1257.2L1813.4 1257.1L1813.5 1255.4L1813.6 1253.8L1813.6 1251.6L1813.7 1250.9L1813.7 1252.5L1813.8 1251.5L1813.9 1254.4L1813.9 1252.7L1814.0 1248.8L1814.0 1249.3L1814.1 1251.4L1814.2 1249.7L1814.2 1251.4L1814.3 1247.8L1814.3 1246.3L1814.4 1248.3L1814.5 1248.3L1814.5 1247.4L1814.6 1244.2L1814.6 1252.4L1814.7 1247.0L1814.8 1245.3L1814.8 1247.8L1814.9 1246.9L1815.0 1248.0L1815.0 1245.8L1815.1 1247.8L1815.1 1245.9L1815.2 1246.3L1815.3 1242.4L1815.3 1240.9L1815.4 1242.4L1815.4 1241.4L1815.5 1241.9L1815.6 1236.8L1815.6 1241.8L1815.7 1239.8L1815.7 1241.0L1815.8 1238.8L1815.9 1236.9L1815.9 1242.6L1816.0 1239.0L1816.0 1237.3L1816.1 1237.0L1816.2 1239.1L1816.2 1237.7L1816.3 1236.8L1816.3 1237.6L1816.4 1236.7L1816.5 1238.6L1816.5 1238.2L1816.6 1235.6L1816.6 1235.9L1816.7 1236.7L1816.8 1235.4L1816.8 1232.4L1816.9 1233.6L1816.9 1233.2L1817.0 1234.2L1817.1 1231.1L1817.1 1233.6L1817.2 1231.4L1817.2 1229.6L1817.3 1229.8L1817.3 1230.6L1817.4 1230.4L1817.5 1230.5L1817.5 1231.8L1817.6 1229.3L1817.6 1229.2L1817.7 1230.3L1817.7 1228.9L1817.8 1228.6L1817.9 1229.7L1817.9 1229.3L1818.0 1225.1L1818.0 1228.4L1818.1 1226.6L1818.1 1229.4L1818.2 1224.8L1818.3 1223.7L1818.3 1222.8L1818.4 1224.5L1818.4 1226.2L1818.5 1226.2L1818.5 1224.2L1818.6 1222.8L1818.6 1226.0L1818.7 1224.8L1818.7 1221.2L1818.8 1222.7L1818.8 1223.2L1818.9 1223.0L1818.9 1220.1L1819.0 1217.4L1819.0 1222.0L1819.1 1221.5L1819.2 1220.9L1819.2 1218.4L1819.3 1218.0L1819.3 1218.8L1819.4 1219.4L1819.4 1219.8L1819.5 1215.9L1819.5 1219.7L1819.6 1218.4L1819.6 1216.5L1819.7 1217.3L1819.8 1215.7L1819.8 1216.7L1819.9 1214.9L1819.9 1214.1L1820.0 1217.1L1820.0 1215.3L1820.1 1214.6L1820.2 1214.2L1820.2 1214.4L1820.3 1213.2L1820.3 1211.0L1820.4 1213.2L1820.4 1211.1L1820.5 1211.6L1820.5 1211.3L1820.6 1210.6L1820.6 1210.9L1820.7 1211.3L1820.7 1213.5L1820.8 1208.3L1820.9 1209.0L1820.9 1211.5L1821.0 1208.5L1821.0 1209.7L1821.1 1205.7L1821.1 1205.6L1821.2 1205.0L1821.2 1200.7L1821.3 1206.2L1821.3 1206.3L1821.4 1206.5L1821.4 1203.6L1821.5 1203.8L1821.5 1206.0L1821.6 1204.3L1821.6 1202.3L1821.7 1202.2L1821.7 1202.2L1821.8 1201.7L1821.8 1202.3L1821.9 1202.0L1821.9 1200.3L1822.0 1201.6L1822.0 1201.5L1822.1 1200.4L1822.1 1201.1L1822.2 1200.1L1822.2 1200.0L1822.2 1200.2L1822.3 1200.0L1822.3 1196.4L1822.4 1195.7L1822.4 1200.4L1822.5 1195.7L1822.5 1198.8L1822.6 1197.6L1822.6 1196.7L1822.7 1197.7L1822.7 1195.2L1822.8 1197.6L1822.8 1194.1L1822.9 1194.0L1823.0 1193.4L1823.0 1193.5L1823.1 1197.6L1823.1 1192.7L1823.2 1193.3L1823.2 1192.4L1823.3 1192.7L1823.3 1193.8L1823.4 1190.4L1823.4 1196.4L1823.5 1192.1L1823.5 1193.1L1823.6 1189.5L1823.6 1190.6L1823.7 1188.3L1823.7 1188.9L1823.8 1190.9L1823.9 1185.3L1823.9 1188.2L1824.0 1186.5L1824.1 1188.3L1824.1 1185.7L1824.2 1188.2L1824.2 1185.0L1824.3 1187.0L1824.4 1185.2L1824.4 1186.8L1824.5 1182.2L1824.6 1184.0L1824.6 1183.8L1824.7 1184.6L1824.8 1186.2L1824.8 1184.8L1824.9 1185.4L1825.0 1182.9L1825.0 1180.1L1825.1 1180.2L1825.2 1180.8L1825.3 1182.5L1825.3 1179.5L1825.4 1182.3L1825.5 1180.1L1825.5 1179.7L1825.6 1178.2L1825.7 1178.4L1825.7 1178.4L1825.8 1179.9L1825.9 1177.0L1825.9 1177.7L1826.0 1176.6L1826.1 1177.6L1826.1 1178.0L1826.2 1178.9L1826.3 1177.2L1826.4 1175.3L1826.4 1175.3L1826.5 1176.3L1826.6 1175.5L1826.6 1174.5L1826.7 1175.7L1826.8 1172.4L1826.8 1174.8L1826.9 1173.2L1827.0 1174.0L1827.0 1172.1L1827.1 1174.8L1827.1 1170.8L1827.2 1171.4L1827.3 1169.8L1827.3 1170.5L1827.4 1170.4L1827.5 1168.6L1827.5 1168.3L1827.6 1169.3L1827.6 1166.9L1827.7 1167.0L1827.8 1170.0L1827.8 1168.1L1827.9 1167.3L1827.9 1165.4L1828.0 1166.3L1828.0 1165.2L1828.1 1165.8L1828.1 1163.7L1828.2 1170.6L1828.2 1165.7L1828.3 1164.0L1828.3 1160.7L1828.4 1161.5L1828.4 1161.7L1828.5 1163.4L1828.5 1163.2L1828.6 1163.6L1828.6 1164.7L1828.7 1161.6L1828.7 1160.7L1828.7 1161.7L1828.8 1158.8L1828.8 1158.3L1828.9 1158.6L1828.9 1160.8L1829.0 1157.9L1829.0 1160.8L1829.1 1160.8L1829.1 1158.4L1829.2 1156.4L1829.2 1157.5L1829.3 1159.5L1829.3 1156.2L1829.3 1154.4L1829.4 1153.5L1829.4 1152.5L1829.5 1154.9L1829.5 1152.0L1829.6 1154.2L1829.6 1152.8L1829.6 1154.3L1829.7 1152.2L1829.7 1151.2L1829.8 1151.1L1829.8 1148.6L1829.9 1152.0L1829.9 1147.8L1829.9 1148.8L1830.0 1148.1L1830.0 1147.4L1830.1 1148.9L1830.1 1146.7L1830.1 1146.2L1830.2 1145.4L1830.2 1146.9L1830.3 1144.9L1830.3 1146.2L1830.3 1144.2L1830.4 1146.2L1830.4 1143.8L1830.4 1144.7L1830.5 1141.3L1830.5 1144.1L1830.5 1144.0L1830.6 1141.0L1830.6 1140.8L1830.6 1138.1L1830.7 1138.3L1830.7 1138.3L1830.7 1143.5L1830.7 1144.5L1830.8 1139.4L1830.8 1138.7L1830.8 1135.4L1830.9 1136.1L1830.9 1139.8L1830.9 1138.6L1830.9 1138.5L1830.9 1137.2L1831.0 1137.6L1831.0 1135.4L1831.0 1133.5L1831.0 1135.9L1831.0 1134.2L1831.1 1139.2L1831.1 1133.1L1831.1 1133.3L1831.1 1133.3L1831.1 1133.3L1831.1 1134.1L1831.1 1134.8L1831.2 1133.3L1831.2 1133.2L1831.2 1135.9L1831.2 1134.7L1831.2 1132.5L1831.2 1132.2L1831.2 1134.3L1831.2 1133.2L1831.2 1133.2L1831.2 1133.2" stroke="#3a3a3a" stroke-width="3.2"/>
<path d="M186.0 737.5L186.4 737.4L187.3 737.9L188.4 736.1L188.9 738.0L189.6 737.8L190.2 738.0L190.9 737.1L191.7 740.5L192.5 736.5L193.4 738.1L194.3 736.7L195.2 738.8L196.1 735.3L197.1 736.0L198.0 735.8L199.0 735.8L200.0 737.7L200.9 738.4L201.6 738.1L202.3 736.6L203.1 736.2L203.8 735.6L204.6 736.0L205.4 734.3L206.2 735.1L207.0 733.9L207.8 737.4L208.6 737.8L209.4 733.9L210.2 737.9L211.1 734.5L211.9 736.6L212.7 736.4L213.6 734.4L214.4 733.9L215.3 733.5L216.1 739.9L217.0 736.9L217.8 734.0L218.6 733.4L219.5 735.1L220.3 735.5L221.1 735.5L221.9 735.6L222.7 736.9L223.5 737.2L224.4 736.7L225.2 735.0L226.0 735.8L226.9 732.6L227.7 733.7L228.6 738.8L229.4 736.9L230.2 739.0L231.1 738.2L231.9 737.6L232.8 738.3L233.6 735.5L234.4 737.6L235.2 738.3L236.0 737.6L236.8 737.4L237.6 741.7L238.4 739.0L239.2 736.7L239.9 735.9L240.7 736.0L241.4 740.2L242.1 734.9L242.8 736.5L243.7 738.6L244.6 738.2L245.5 738.1L246.4 737.2L247.2 736.6L248.0 742.2L248.8 733.7L249.6 734.8L250.4 734.2L251.2 737.2L252.0 733.6L252.7 735.0L253.5 734.7L254.3 734.0L254.6 716.0L254.9 734.0L255.2 738.2L256.0 735.9L256.8 735.4L257.7 736.6L258.5 735.7L259.3 731.6L260.1 734.8L261.0 732.5L261.9 737.1L262.8 736.8L263.8 732.9L264.5 736.6L265.1 735.3L265.8 733.4L266.6 733.3L267.3 735.2L268.1 734.1L268.8 733.9L269.6 735.0L270.4 734.5L271.3 734.4L272.1 733.2L272.9 734.1L273.8 737.5L274.6 737.2L275.4 737.1L276.3 735.2L276.6 723.2L276.9 735.2L277.2 738.8L278.0 735.0L278.9 737.8L279.7 737.5L280.6 735.2L281.4 736.7L282.2 734.7L283.1 737.7L283.9 736.5L284.7 735.6L285.5 738.5L286.4 736.9L287.2 736.1L288.1 735.9L288.9 736.4L289.8 733.6L290.7 735.6L291.5 735.0L292.4 733.0L293.3 734.6L294.2 732.4L295.1 735.4L295.9 732.5L296.8 733.5L297.6 731.2L298.5 732.3L299.3 729.7L300.1 731.3L300.9 733.2L301.6 731.2L302.4 731.0L303.1 732.6L303.8 732.8L304.5 731.8L305.1 730.8L305.7 730.5L306.0 721.5L306.3 730.5L306.4 731.6L307.1 733.9L307.7 733.6L308.3 734.2L308.8 737.5L309.3 736.3L309.7 735.9L310.2 733.8L310.6 737.4L311.1 736.0L311.6 742.5L312.1 741.6L312.7 738.0L313.3 740.5L314.0 738.6L314.6 744.1L315.2 740.4L315.9 745.6L316.6 744.2L317.3 744.3L318.0 746.5L318.8 748.5L319.5 742.4L320.3 747.6L321.1 744.5L321.9 741.3L322.7 744.6L323.5 750.9L324.4 743.4L325.2 747.8L326.0 751.0L326.8 752.0L327.6 747.0L328.4 748.6L329.2 750.0L330.0 748.0L330.8 748.5L331.6 740.8L332.4 749.6L333.2 743.5L333.9 745.1L334.7 748.4L335.5 747.2L336.3 746.3L337.1 747.3L337.9 744.7L338.7 745.9L339.5 745.4L340.2 741.6L341.0 746.2L341.8 744.6L342.6 741.2L343.4 747.1L344.2 741.0L345.0 742.0L345.9 741.2L346.7 747.0L347.5 746.1L348.2 744.1L348.9 747.2L349.6 740.8L350.3 740.9L351.0 745.8L351.8 743.9L352.5 747.8L353.2 745.7L353.9 742.0L354.6 746.8L355.4 747.8L356.1 747.8L356.8 748.0L357.6 745.0L358.3 747.5L359.0 749.4L359.8 747.2L360.5 745.8L361.2 751.0L362.0 751.8L362.7 753.7L363.4 751.6L364.2 751.3L364.9 749.5L365.6 750.8L366.3 750.3L367.1 753.9L367.8 756.6L368.5 752.8L369.2 757.1L369.9 752.8L370.6 748.0L371.2 753.8L371.9 753.8L372.6 756.1L373.3 754.4L373.9 758.3L374.6 761.0L375.3 756.8L376.0 757.9L376.6 754.5L377.3 759.9L378.0 756.0L378.6 762.6L379.3 760.1L380.0 765.8L380.7 763.6L381.3 764.7L382.0 764.0L382.7 766.6L383.3 762.7L384.0 765.2L384.7 764.4L385.3 763.1L386.0 764.2L386.7 761.4L387.4 766.1L388.0 768.3L388.7 771.0L389.4 765.5L390.1 767.2L390.8 766.8L391.5 771.3L392.2 766.5L392.9 770.4L393.6 768.1L394.3 770.8L395.0 772.2L395.6 770.4L396.3 773.3L397.0 772.1L397.7 774.3L398.4 773.3L399.1 775.0L399.8 775.6L400.5 774.4L401.2 773.9L401.9 773.9L402.6 774.8L403.3 777.7L404.0 775.9L404.7 775.5L405.4 776.2L406.1 776.5L406.8 780.5L407.5 779.6L408.3 780.3L409.0 779.4L409.7 778.6L410.4 779.5L411.2 781.4L411.9 778.9L412.7 779.2L413.5 781.1L414.2 782.9L415.0 781.1L415.8 784.1L416.6 781.1L417.3 783.8L418.1 780.6L418.9 785.0L419.7 782.7L420.5 782.2L421.2 786.4L422.0 785.4L422.8 782.1L423.6 783.8L424.4 784.1L425.1 785.0L425.9 787.1L426.7 784.5L427.5 787.4L428.2 786.6L429.0 784.9L429.8 787.5L430.5 785.5L431.3 788.4L432.0 787.2L432.7 788.4L433.4 789.7L434.1 788.7L434.8 788.3L435.5 788.7L436.2 786.3L436.9 792.3L437.6 791.8L438.3 791.3L439.0 791.4L439.7 791.7L440.4 794.9L441.1 794.7L441.8 792.6L442.5 794.1L443.2 793.4L443.9 794.3L444.6 797.3L445.3 795.7L445.9 797.5L446.6 795.7L447.3 796.5L448.0 798.3L448.7 798.5L449.5 797.3L450.2 799.4L450.9 799.7L451.6 800.2L452.3 800.7L453.1 800.7L453.8 802.0L454.6 800.6L455.3 801.8L456.1 802.5L456.9 801.5L457.6 802.6L458.4 801.8L459.2 801.9L460.0 803.1L460.7 802.9L461.5 803.0L462.3 803.7L463.1 803.9L463.8 804.3L464.6 803.4L465.4 804.8L466.2 804.2L467.0 804.6L467.7 805.3L468.5 804.8L469.3 805.4L470.1 805.3L470.9 805.2L471.6 806.2L472.4 806.0L473.2 805.9L474.0 806.5L474.8 806.2L475.6 807.2L476.4 806.5L477.2 807.0L478.0 807.3L478.8 807.5L479.6 808.3L480.4 808.2L481.2 807.5L482.0 808.1L482.8 808.8L483.6 808.4L484.4 807.9L485.2 809.1L486.0 808.7L486.8 808.5L487.7 809.6L488.5 809.9L489.3 809.5L490.1 809.4L490.9 810.1L491.7 809.9L492.5 810.1L493.3 810.3L494.1 810.3L494.9 810.6L495.7 810.9L496.5 810.5L497.3 811.0L498.1 811.3L498.9 811.7L499.7 811.2L500.6 811.8L501.4 811.9L502.2 812.5L503.0 811.9L503.8 811.7L504.6 812.2L505.4 812.5L506.2 811.7L507.0 812.4L507.8 812.8L508.6 812.6L509.4 813.0L510.2 812.5L511.1 813.2L511.9 813.5L512.7 813.2L513.5 813.6L514.3 813.7L515.1 813.8L515.9 813.8L516.7 814.0L517.5 813.6L518.3 813.7L519.1 813.5L519.9 814.3L520.7 813.8L521.5 814.3L522.3 814.5L523.1 814.5L523.9 814.1L524.7 814.2L525.5 815.0L526.4 814.6L527.2 814.8L528.0 814.8L528.8 815.7L529.6 815.3L530.4 815.0L531.2 815.3L532.0 815.3L532.8 815.1L533.6 816.0L534.4 815.7L535.2 815.1L536.0 815.2L536.8 815.9L537.6 816.1L538.5 815.6L539.3 816.0L540.1 816.3L540.9 816.2L541.8 816.4L542.6 816.4L543.5 816.6L544.3 816.3L545.1 816.5L546.0 817.2L546.8 817.5L547.6 817.4L548.5 817.5L549.3 817.8L550.1 818.1L550.9 818.3L551.7 817.8L552.5 817.6L553.3 817.9L554.0 817.5L554.8 817.5L555.5 817.6L556.3 817.9L557.0 818.2L557.9 818.4L558.8 818.0L559.6 818.5L560.5 818.3L561.3 817.9L562.1 817.9L562.9 818.6L563.7 817.9L564.5 817.9L565.3 817.6L566.1 817.1L566.8 817.4L567.6 817.1L568.4 817.2L569.2 817.2L570.0 817.0L570.8 816.9L571.7 817.0L572.5 817.4L573.3 817.7L574.1 817.6L575.0 817.2L575.8 817.6L576.6 817.7L577.4 817.4L578.3 817.7L579.1 818.0L580.0 817.7L580.8 817.5L581.7 817.4L582.6 817.3L583.3 817.4L584.0 816.5L584.7 817.0L585.4 817.0L586.1 816.5L586.9 815.7L587.6 815.6L588.3 815.0L589.1 815.6L589.8 814.5L590.6 814.0L591.3 814.1L592.1 813.8L592.9 813.8L593.6 813.2L594.4 813.3L595.2 812.6L595.9 812.3L596.7 811.9L597.5 811.1L598.3 810.6L599.1 810.5L599.8 810.3L600.6 809.8L601.4 810.3L602.2 810.0L602.9 809.3L603.7 808.8L604.4 809.3L605.2 808.6L606.0 808.3L606.7 808.4L607.5 808.6L608.3 807.8L609.1 808.1L609.9 807.8L610.6 807.4L611.4 807.0L612.2 807.3L613.0 807.1L613.8 807.0L614.6 806.4L615.4 806.5L616.1 805.8L616.9 806.4L617.7 806.4L618.5 806.3L619.3 805.8L620.1 805.6L620.8 805.7L621.6 805.5L622.4 804.7L623.2 804.2L624.0 804.0L624.7 804.2L625.5 803.3L626.3 803.5L627.1 803.0L627.8 803.0L628.6 803.4L629.4 803.1L630.2 802.2L630.9 802.3L631.7 802.3L632.5 801.6L633.2 801.4L634.0 801.2L634.8 801.0L635.6 800.7L636.3 801.0L637.1 800.0L637.9 800.0L638.7 800.2L639.4 799.8L640.2 799.0L641.0 799.5L641.8 799.4L642.5 798.4L643.3 798.5L644.1 797.9L644.9 797.7L645.7 797.8L646.5 797.0L647.3 797.6L648.1 796.9L648.9 796.4L649.7 796.4L650.5 796.3L651.4 796.0L652.2 795.9L653.0 795.8L653.8 795.5L654.6 795.6L655.4 794.8L656.2 795.2L657.0 794.3L657.8 793.9L658.6 793.9L659.3 793.8L660.1 793.5L660.8 793.7L661.5 792.8L662.2 793.1L662.9 792.5L663.6 792.8L664.2 792.8L665.1 791.0L665.9 791.5L666.7 791.2L667.5 791.1L668.3 790.0L669.0 790.4L669.7 790.1L670.5 789.2L671.2 788.9L671.9 788.9L672.6 788.4L673.3 787.0L674.0 787.0L674.7 787.1L675.4 786.5L676.1 786.3L676.8 785.6L677.5 785.5L678.1 784.3L678.8 784.2L679.5 783.7L680.2 782.5L680.9 782.4L681.5 781.6L682.2 781.7L682.8 780.5L683.4 780.5L684.1 779.3L684.6 779.5L685.2 778.6L685.8 778.3L686.4 777.1L687.0 776.9L687.6 775.9L688.1 775.7L688.6 775.0L689.1 774.2L689.6 773.7L690.1 773.0L690.6 772.2L691.1 771.6L691.5 771.4L691.9 770.3L692.3 769.3L692.7 768.4L693.0 767.6L693.3 766.9L693.6 765.3L694.0 765.5L694.3 764.0L694.7 763.6L695.2 763.4L695.7 762.7L696.2 763.0L696.8 762.8L697.4 762.9L698.1 763.6L698.7 764.5L699.4 764.4L700.1 765.5L700.9 766.2L701.6 766.4L702.4 766.9L703.2 768.0L704.0 768.3L704.7 768.7L705.5 768.3L706.4 769.2L707.2 768.5L708.1 769.2L708.9 768.3L709.8 768.7L710.7 769.2L711.6 769.3L712.5 768.7L713.4 769.1L714.2 768.3L715.0 768.1L715.8 768.4L716.6 768.2L717.5 767.9L718.3 768.1L719.1 767.2L719.9 766.7L720.7 766.6L721.4 766.6L722.2 765.6L722.9 765.6L723.6 764.6L724.3 764.5L725.0 763.7L725.6 763.4L726.3 762.8L726.8 762.3L727.4 761.3L728.0 761.0L728.5 760.0L729.1 759.7L729.6 758.4L730.2 757.7L730.7 757.9L731.3 757.7L731.9 757.4L732.5 758.4L733.1 758.4L733.6 758.9L734.2 759.5L734.8 761.2L735.4 760.9L736.1 761.6L736.8 762.3L737.5 762.5L738.2 762.7L738.9 763.1L739.7 763.6L740.5 764.0L741.3 764.0L742.1 763.3L743.0 762.7L743.8 763.5L744.7 762.9L745.5 763.4L746.4 762.9L747.2 763.4L748.0 762.9L748.8 762.5L749.6 762.8L750.4 762.6L751.1 762.3L751.9 761.2L752.6 761.1L753.4 761.4L754.2 760.7L755.0 760.9L755.8 760.6L756.7 759.8L757.6 759.7L758.5 760.1L759.2 760.0L759.9 759.3L760.6 759.8L761.3 759.0L762.1 758.7L762.8 759.3L763.6 758.3L764.4 758.2L765.2 757.8L766.0 758.6L766.8 758.3L767.7 758.3L768.5 757.8L769.3 757.4L770.2 757.6L771.0 757.1L771.9 757.0L772.7 756.9L773.6 757.2L774.4 756.6L775.3 756.6L776.1 756.0L776.9 756.4L777.8 756.0L778.6 755.1L779.4 755.1L780.2 754.9L781.0 755.6L781.7 755.1L782.5 755.0L783.3 754.5L784.1 754.4L784.9 754.0L785.6 754.3L786.4 754.2L787.2 754.0L788.0 753.8L788.7 753.8L789.5 753.5L790.3 753.4L791.1 752.7L791.9 752.2L792.6 752.8L793.4 751.8L794.2 752.4L795.0 751.6L795.7 751.8L796.5 751.3L797.3 751.4L798.1 750.7L798.9 750.1L799.6 750.9L800.4 750.1L801.2 749.6L802.0 750.6L802.8 749.9L803.6 749.3L804.4 749.0L805.3 749.0L806.1 748.2L807.0 748.2L807.8 748.0L808.7 747.4L809.5 747.7L810.4 747.8L811.2 746.9L812.0 747.0L812.8 746.3L813.6 745.5L814.4 745.7L815.2 745.6L816.0 745.8L816.7 744.5L817.5 744.8L818.2 743.9L818.8 744.3L819.5 744.5L820.1 744.2L820.7 744.3L821.3 744.2L822.4 743.6L823.3 743.8L824.1 743.9L824.9 743.5L825.7 743.5L826.6 743.9L827.6 744.4L828.2 744.4L828.9 743.8L829.6 744.1L830.3 744.5L831.0 745.1L831.7 745.5L832.5 745.0L833.2 745.3L834.0 746.0L834.8 746.4L835.6 747.3L836.4 746.6L837.2 747.9L838.1 747.5L838.9 748.4L839.7 748.7L840.6 748.4L841.4 749.0L842.3 749.2L843.0 749.4L843.8 749.6L844.5 749.9L845.3 749.5L846.1 749.2L846.8 750.0L847.6 750.7L848.4 750.8L849.2 750.3L850.0 751.1L850.9 751.7L851.7 750.7L852.5 751.6L853.3 751.0L854.1 751.9L855.0 751.3L855.8 751.9L856.6 751.9L857.5 751.9L858.3 752.4L859.1 752.5L859.9 752.2L860.8 751.9L861.6 752.4L862.4 752.5L863.2 752.3L864.0 752.9L864.8 751.9L865.6 752.4L866.4 752.4L867.2 752.9L868.0 752.8L868.8 752.8L869.6 752.2L870.4 752.9L871.2 752.7L872.0 752.2L872.8 752.3L873.6 752.4L874.4 751.8L875.3 751.4L876.1 752.3L876.9 751.9L877.7 752.2L878.5 752.2L879.3 751.9L880.1 752.0L880.9 751.9L881.7 751.8L882.5 751.3L883.3 751.0L884.1 751.7L884.9 751.8L885.7 751.1L886.5 750.6L887.3 751.0L888.1 751.3L889.0 750.8L889.8 750.8L890.6 750.6L891.4 750.8L892.2 750.8L893.0 750.6L893.8 751.1L894.6 750.9L895.4 750.5L896.2 750.5L897.0 750.1L897.9 750.6L898.7 749.8L899.5 749.8L900.3 749.4L901.1 749.8L901.9 749.1L902.7 749.4L903.5 749.1L904.3 748.7L905.1 748.8L905.9 748.9L906.7 749.0L907.5 748.9L908.3 748.3L909.1 748.1L909.9 748.4L910.7 748.5L911.5 748.3L912.4 747.3L913.2 747.4L914.0 747.0L914.8 746.7L915.6 746.5L916.4 746.3L917.2 745.7L918.0 746.3L918.8 746.3L919.6 745.9L920.4 745.4L921.2 745.1L922.0 745.1L922.8 744.5L923.6 744.2L924.4 744.6L925.2 744.0L926.0 743.2L926.8 744.4L927.6 743.9L928.4 743.3L929.3 743.2L930.1 743.1L930.9 742.7L931.7 742.5L932.6 742.7L933.4 742.8L934.2 741.7L935.1 741.8L935.9 741.8L936.7 741.4L937.5 741.3L938.4 741.4L939.2 741.2L940.0 741.5L940.8 740.6L941.6 741.3L942.4 741.4L943.2 740.6L944.0 740.3L944.7 740.4L945.5 740.5L946.3 740.1L947.0 740.1L947.8 739.2L948.7 738.9L949.5 739.0L950.3 739.6L951.1 738.8L951.9 739.0L952.7 738.5L953.4 738.7L954.2 737.8L955.0 737.9L955.7 737.5L956.5 737.9L957.3 737.8L958.0 737.3L958.8 737.1L959.6 736.3L960.4 736.5L961.2 735.9L962.0 735.9L962.7 735.8L963.4 735.6L964.1 734.6L964.8 734.7L965.5 734.1L966.2 733.8L966.9 733.4L967.7 732.5L968.4 732.9L969.1 731.7L969.8 732.1L970.6 731.4L971.3 731.1L972.0 730.3L972.7 729.9L973.5 729.0L974.2 729.1L975.0 728.0L975.7 727.8L976.4 728.7L977.2 728.0L977.9 727.2L978.7 727.9L979.4 727.0L980.2 727.2L980.9 726.5L981.6 726.4L982.4 726.8L983.1 727.2L983.9 726.9L984.7 727.1L985.5 728.1L986.2 727.5L987.0 728.7L987.8 728.5L988.6 728.1L989.4 729.5L990.2 729.7L991.0 730.2L991.8 730.3L992.6 731.0L993.4 731.2L994.1 731.7L994.9 732.7L995.7 732.8L996.4 733.4L997.2 734.0L997.9 733.6L998.6 734.8L999.3 734.7L1000.0 735.4L1000.6 736.3L1001.3 735.4L1001.9 736.3L1002.7 736.6L1003.5 737.9L1004.2 737.8L1004.9 738.6L1005.5 738.5L1006.2 738.6L1006.8 739.0L1007.4 739.2L1008.1 739.9L1008.7 741.1L1009.4 740.7L1010.1 741.4L1010.8 742.2L1011.6 742.5L1012.4 742.6L1013.1 743.4L1013.7 742.8L1014.4 743.0L1015.2 742.6L1015.9 742.9L1016.7 743.7L1017.4 744.3L1018.2 743.6L1019.0 744.6L1019.8 744.1L1020.7 744.2L1021.5 744.4L1022.3 744.3L1023.2 744.6L1024.0 743.8L1024.9 744.1L1025.7 744.5L1026.6 744.6L1027.5 744.7L1028.3 744.9L1029.2 744.3L1030.0 745.0L1030.8 744.2L1031.7 744.7L1032.5 745.2L1033.3 745.2L1034.1 745.1L1034.9 745.2L1035.8 744.8L1036.6 745.3L1037.5 744.8L1038.4 745.5L1039.3 745.7L1040.1 745.5L1041.0 745.2L1041.9 745.0L1042.8 745.6L1043.7 745.8L1044.5 745.3L1045.4 745.7L1046.2 745.4L1047.1 746.1L1047.9 746.1L1048.7 745.9L1049.5 746.0L1050.2 746.5L1051.0 745.8L1051.7 746.6L1052.3 746.2L1053.0 746.2L1053.6 746.6L1054.2 747.2L1055.2 747.5L1056.0 746.9L1056.8 747.5L1057.5 747.9L1058.2 747.9L1058.9 748.1L1059.7 748.8L1060.5 749.4L1060.8 765.4L1061.1 749.4L1061.2 749.0L1061.9 748.3L1062.7 748.6L1063.4 749.1L1064.2 747.9L1065.1 747.9L1065.9 747.3L1066.7 747.1L1067.5 746.9L1068.3 746.6L1069.0 746.1L1069.7 746.0L1070.4 744.8L1071.0 744.6L1071.5 743.8L1071.9 743.3L1072.3 743.0L1072.7 741.8L1073.0 741.7L1073.3 740.1L1073.5 740.0L1073.8 738.8L1074.1 738.3L1074.3 736.7L1074.6 735.9L1075.0 735.6L1075.3 734.8L1075.7 733.8L1076.2 732.7L1076.7 732.9L1077.3 732.0L1077.9 731.8L1078.5 730.9L1079.2 731.2L1079.9 731.1L1080.6 730.2L1081.4 730.5L1082.2 729.9L1083.0 730.1L1083.9 729.9L1084.7 730.1L1085.6 729.7L1086.5 729.7L1087.4 729.3L1088.3 729.4L1089.3 729.4L1090.2 729.5L1091.1 729.4L1091.9 730.1L1092.8 729.7L1093.7 729.7L1094.5 729.4L1095.3 729.5L1096.1 729.0L1097.0 728.6L1097.8 729.2L1098.7 727.7L1099.5 728.3L1100.4 727.9L1101.2 727.3L1102.1 727.1L1102.9 727.1L1103.7 727.1L1104.5 726.3L1105.3 726.2L1106.1 726.0L1106.9 726.0L1107.7 725.5L1108.5 725.3L1109.3 725.2L1110.0 726.0L1110.8 726.2L1111.6 725.9L1112.3 726.6L1113.1 726.4L1113.8 727.1L1114.5 727.4L1115.3 728.6L1116.0 729.1L1116.7 730.0L1117.4 730.8L1118.1 731.1L1118.8 731.2L1119.5 732.2L1120.1 733.3L1120.8 733.8L1121.5 733.8L1122.1 733.7L1122.8 734.5L1123.4 733.8L1124.1 734.4L1124.9 733.8L1125.6 733.7L1126.3 733.6L1126.9 732.4L1127.6 732.4L1128.3 731.8L1128.9 731.7L1129.6 730.2L1130.3 730.1L1131.0 729.3L1131.7 728.9L1132.4 728.0L1133.1 728.3L1133.8 727.8L1134.5 726.9L1135.2 725.8L1136.0 725.0L1136.7 724.3L1137.5 724.3L1138.2 723.9L1138.9 723.2L1139.6 722.8L1140.3 722.3L1141.0 722.0L1141.6 721.3L1142.2 721.1L1142.8 721.9L1143.4 722.2L1143.9 723.0L1144.4 723.5L1144.9 724.9L1145.4 724.7L1145.8 726.3L1146.3 726.7L1146.8 727.5L1147.3 728.3L1147.9 728.9L1148.5 729.6L1149.1 729.3L1149.7 729.0L1150.3 728.4L1150.9 728.3L1151.5 728.0L1152.2 727.5L1152.9 726.8L1153.5 725.4L1154.2 725.5L1154.9 724.5L1155.6 724.3L1156.3 723.6L1157.0 722.9L1157.7 721.7L1158.3 720.8L1159.0 720.3L1159.7 719.7L1160.3 720.1L1161.0 719.1L1161.6 718.2L1162.3 717.7L1162.9 717.7L1163.6 716.8L1164.2 716.8L1164.9 716.4L1165.6 715.4L1166.3 715.5L1167.0 714.7L1167.8 714.5L1168.6 714.0L1169.4 713.3L1170.0 713.3L1170.6 712.4L1171.3 712.5L1172.0 711.6L1172.7 712.0L1173.4 711.4L1174.1 710.7L1174.8 711.1L1175.5 710.6L1176.3 710.0L1177.0 709.8L1177.8 709.7L1178.6 708.6L1179.4 709.3L1180.2 708.4L1181.0 708.3L1181.7 707.6L1182.5 707.0L1183.3 706.9L1184.1 706.8L1184.9 706.2L1185.7 707.0L1186.5 705.8L1187.3 706.3L1188.1 706.3L1188.9 705.8L1189.6 704.9L1190.4 704.7L1191.2 704.5L1191.9 704.1L1192.7 704.3L1193.5 704.0L1194.3 703.8L1195.0 703.7L1195.8 703.6L1196.6 702.6L1197.3 702.9L1198.1 702.1L1198.9 702.0L1199.7 701.3L1200.4 701.4L1201.2 701.4L1202.0 701.4L1202.8 701.5L1203.5 700.9L1204.3 700.2L1205.1 700.6L1205.9 700.3L1206.6 700.0L1207.4 699.6L1208.2 699.2L1209.0 699.1L1209.7 698.7L1210.5 698.4L1211.3 698.1L1212.1 698.7L1212.9 698.1L1213.6 698.2L1214.4 697.3L1215.2 697.2L1216.0 696.7L1216.7 697.2L1217.5 696.8L1218.3 696.6L1219.1 696.3L1219.8 696.2L1220.6 695.6L1221.4 695.9L1222.2 695.7L1223.0 695.3L1223.7 695.4L1224.5 694.4L1225.3 694.0L1226.1 693.9L1226.8 694.1L1227.6 693.3L1228.4 693.1L1229.2 693.7L1230.0 692.9L1230.7 692.6L1231.5 692.4L1232.3 692.8L1233.1 692.4L1233.9 691.3L1234.7 692.2L1235.5 691.7L1236.3 690.9L1237.1 690.5L1237.9 690.6L1238.7 690.3L1239.5 690.1L1240.3 690.2L1241.1 689.6L1241.9 689.9L1242.7 689.8L1243.5 688.9L1244.3 688.6L1245.1 689.1L1245.9 689.1L1246.7 688.5L1247.5 688.2L1248.4 688.1L1249.2 687.7L1250.0 688.0L1250.8 687.5L1251.6 687.8L1252.4 686.9L1253.2 687.1L1254.0 686.6L1254.8 686.6L1255.6 686.4L1256.5 687.1L1257.3 686.8L1258.2 686.6L1259.0 686.9L1259.8 686.3L1260.7 686.8L1261.5 686.3L1262.4 686.0L1263.2 686.2L1264.1 686.0L1264.9 686.8L1265.8 685.5L1266.6 686.6L1267.4 686.6L1268.2 685.8L1269.0 685.7L1269.8 686.0L1270.5 686.4L1271.3 685.8L1272.0 686.6L1272.7 686.5L1273.4 686.8L1274.1 686.3L1275.0 687.0L1275.9 686.3L1276.7 686.6L1277.5 686.4L1278.3 687.4L1279.1 686.8L1279.8 687.4L1280.5 687.8L1281.3 688.2L1282.1 687.9L1282.9 688.4L1283.7 688.6L1284.6 689.0L1285.2 689.3L1285.8 689.3L1286.4 689.7L1287.1 690.7L1287.7 690.6L1288.4 690.9L1289.0 692.0L1289.7 692.8L1290.4 693.5L1291.1 693.8L1291.8 694.1L1292.6 694.8L1293.3 695.0L1294.0 696.0L1294.7 697.0L1295.5 696.8L1296.2 697.4L1296.9 698.6L1297.6 698.6L1298.3 699.5L1299.0 700.1L1299.7 700.3L1300.4 700.4L1301.1 701.0L1301.8 701.5L1302.4 702.5L1303.1 701.8L1303.7 702.5L1304.3 702.6L1304.9 703.0L1305.5 703.0L1306.3 702.7L1307.1 702.5L1307.9 702.5L1308.6 701.8L1309.4 702.2L1310.1 701.0L1310.7 700.9L1311.4 700.3L1312.1 699.8L1312.9 699.4L1313.6 699.0L1314.4 698.7L1315.2 697.8L1316.0 697.4L1316.6 697.1L1317.2 697.1L1317.8 696.1L1318.4 696.6L1319.0 695.8L1319.7 694.9L1320.4 695.3L1321.0 694.4L1321.7 693.9L1322.4 693.6L1323.1 692.7L1323.8 692.7L1324.5 692.5L1325.2 691.4L1326.0 691.2L1326.7 690.0L1327.4 689.9L1328.1 689.2L1328.8 688.7L1329.6 688.9L1330.3 687.7L1331.0 687.1L1331.7 687.5L1332.4 687.0L1333.1 686.7L1333.8 686.0L1334.4 684.8L1335.1 685.1L1335.7 684.3L1336.4 684.0L1337.0 684.2L1337.8 683.5L1338.6 683.6L1339.4 683.6L1340.1 683.1L1340.9 682.4L1341.6 682.1L1342.4 681.9L1343.1 681.9L1343.8 681.1L1344.5 681.7L1345.3 681.1L1346.0 680.7L1346.8 680.8L1347.6 680.9L1348.3 680.1L1349.2 679.8L1350.0 679.7L1350.7 679.4L1351.4 679.4L1352.1 679.7L1352.8 679.2L1353.6 679.1L1354.3 678.6L1355.1 677.9L1355.8 678.2L1356.6 678.0L1357.4 677.4L1358.2 677.4L1359.0 676.8L1359.8 677.1L1360.6 676.4L1361.4 676.3L1362.2 675.8L1363.0 675.9L1363.8 675.7L1364.6 675.6L1365.4 674.6L1366.2 674.6L1367.0 674.0L1367.8 673.8L1368.6 673.6L1369.3 673.3L1370.1 673.7L1370.9 672.7L1371.6 672.2L1372.4 671.8L1373.1 671.6L1373.9 671.1L1374.6 671.5L1375.3 670.7L1376.0 670.5L1376.7 669.8L1377.4 670.0L1378.1 669.2L1378.8 669.5L1379.6 668.9L1380.3 668.0L1381.0 667.8L1381.7 667.4L1382.4 667.0L1383.2 666.3L1383.9 666.1L1384.6 666.6L1385.4 665.7L1386.2 665.2L1386.9 665.6L1387.7 664.1L1388.5 664.1L1389.4 664.3L1390.2 664.6L1391.0 664.2L1391.9 663.7L1392.6 663.5L1393.3 663.4L1394.0 662.8L1394.7 663.0L1395.4 663.5L1396.1 663.0L1396.9 662.6L1397.6 662.4L1398.3 662.6L1399.1 663.0L1399.8 662.6L1400.6 661.8L1401.4 662.1L1402.1 662.7L1402.9 661.9L1403.7 662.7L1404.5 662.0L1405.3 662.0L1406.1 662.7L1406.9 661.7L1407.7 662.3L1408.5 662.1L1409.3 661.7L1410.1 662.5L1410.9 661.8L1411.8 661.9L1412.6 662.4L1413.5 661.8L1414.3 661.6L1415.2 662.5L1416.0 662.1L1416.9 662.7L1417.7 662.1L1418.6 661.7L1419.5 662.8L1420.4 662.8L1421.3 662.4L1422.1 662.0L1423.0 661.8L1423.9 662.7L1424.8 662.9L1425.8 662.7L1426.7 662.9L1427.6 661.9L1428.5 661.7L1429.2 662.0L1429.9 661.9L1430.6 661.9L1431.4 662.0L1432.1 662.7L1432.9 661.9L1433.6 662.3L1434.4 662.6L1435.1 662.5L1435.9 662.3L1436.7 662.4L1437.5 662.0L1438.3 661.7L1439.1 662.4L1439.9 662.4L1440.7 662.0L1441.5 661.7L1442.4 661.4L1443.2 661.9L1444.0 662.3L1444.9 661.8L1445.7 662.1L1446.6 661.8L1447.4 661.8L1448.3 662.4L1449.1 662.0L1450.0 661.2L1450.9 661.2L1451.7 661.4L1452.6 662.0L1453.5 661.2L1454.3 661.2L1455.2 661.4L1456.1 661.2L1456.9 661.4L1457.8 661.2L1458.7 661.5L1459.6 661.3L1460.4 661.2L1461.3 661.8L1462.2 661.4L1463.1 660.9L1463.9 661.0L1464.8 661.3L1465.7 661.7L1466.5 661.7L1467.4 661.7L1468.2 661.4L1469.1 661.2L1469.9 661.4L1470.8 661.0L1471.6 661.1L1472.5 661.6L1473.3 661.7L1474.1 661.6L1475.0 661.5L1475.8 661.1L1476.6 661.1L1477.4 661.7L1478.2 661.8L1479.0 660.9L1479.8 661.5L1480.6 661.4L1481.4 661.5L1482.2 661.5L1482.9 662.1L1483.7 661.6L1484.4 661.6L1485.2 662.2L1485.9 661.8L1486.6 662.2L1487.3 662.1L1488.0 662.3L1488.7 662.2L1489.4 661.7L1490.1 662.3L1490.7 661.6L1491.4 662.3L1492.4 662.9L1493.3 662.8L1494.2 662.3L1495.1 662.5L1496.0 662.9L1496.8 663.4L1497.7 663.4L1498.5 663.1L1499.3 663.4L1500.1 663.5L1500.9 663.8L1501.7 664.5L1502.5 664.5L1503.2 664.2L1504.0 664.4L1504.7 664.5L1505.5 664.7L1506.2 665.5L1507.0 665.7L1507.7 665.5L1508.5 665.6L1509.2 666.5L1510.0 666.4L1510.7 666.2L1511.4 667.1L1512.2 666.5L1513.0 667.2L1513.7 667.2L1514.5 667.6L1515.3 667.8L1516.1 668.2L1516.9 668.4L1517.7 668.4L1518.5 668.1L1519.3 668.5L1520.2 668.2L1520.9 669.3L1521.7 669.7L1522.4 669.0L1523.2 669.9L1524.0 669.7L1524.7 669.5L1525.5 669.6L1526.3 669.4L1527.1 670.5L1527.9 670.1L1528.7 670.3L1529.5 670.8L1530.3 670.9L1531.1 671.3L1531.9 671.2L1532.7 671.6L1533.6 671.1L1534.4 671.5L1535.2 671.7L1536.0 671.5L1536.9 671.7L1537.7 671.6L1538.5 672.4L1539.3 671.8L1540.2 672.4L1541.0 672.7L1541.8 673.0L1542.7 673.1L1543.5 672.6L1544.3 673.3L1545.1 672.9L1546.0 673.8L1546.8 673.8L1547.6 674.4L1548.4 673.7L1549.2 674.0L1550.0 673.9L1550.8 674.1L1551.6 674.7L1552.4 675.3L1553.2 674.6L1554.0 675.7L1554.8 675.6L1555.6 675.5L1556.4 676.2L1557.1 676.1L1557.9 676.2L1558.7 676.2L1559.4 676.6L1560.2 676.2L1561.0 677.6L1561.8 677.7L1562.6 677.2L1563.4 678.0L1564.2 678.4L1565.0 678.2L1565.8 679.0L1566.6 678.7L1567.4 679.6L1568.2 679.5L1568.9 679.6L1569.7 679.9L1570.5 680.0L1571.3 680.2L1572.1 680.7L1572.8 681.2L1573.6 681.3L1574.4 682.3L1575.1 682.2L1575.9 683.0L1576.6 682.9L1577.4 683.2L1578.1 683.3L1578.9 683.8L1579.6 684.2L1580.4 684.1L1581.1 685.0L1581.8 684.8L1582.5 685.8L1583.3 685.6L1584.0 685.8L1584.7 686.9L1585.4 686.6L1586.1 687.5L1586.8 687.9L1587.5 687.8L1588.1 687.8L1588.8 688.0L1589.5 689.0L1590.1 689.6L1590.8 689.6L1591.5 689.6L1592.3 690.4L1593.0 690.6L1593.7 691.7L1594.4 691.9L1595.1 692.6L1595.8 692.2L1596.5 693.1L1597.2 693.2L1597.9 693.9L1598.5 694.8L1599.2 694.5L1599.8 695.3L1600.5 695.3L1601.1 696.1L1601.8 696.5L1602.4 697.4L1603.0 697.7L1603.7 697.8L1604.3 698.9L1604.9 698.8L1605.5 699.7L1606.2 699.6L1606.8 700.1L1607.4 701.0L1608.0 701.8L1608.7 701.7L1609.3 703.0L1609.9 703.1L1610.5 704.6L1611.2 704.9L1611.8 705.8L1612.3 705.5L1612.7 706.0L1613.2 706.5L1613.6 708.1L1614.1 708.2L1614.6 708.6L1615.0 709.0L1615.5 709.6L1615.9 710.2L1616.4 711.5L1616.9 711.6L1617.3 712.3L1617.8 712.5L1618.2 713.5L1618.7 714.8L1619.1 715.1L1619.6 715.2L1620.0 715.3L1620.5 716.6L1620.9 717.1L1621.4 718.3L1621.8 718.7L1622.3 719.3L1622.7 720.8L1623.2 720.7L1623.6 722.0L1624.1 722.1L1624.5 723.4L1625.0 723.6L1625.4 724.8L1625.8 725.0L1626.3 726.2L1626.7 727.2L1627.2 727.7L1627.6 727.9L1628.1 728.2L1628.5 729.2L1628.9 730.4L1629.4 731.6L1629.8 732.1L1630.2 733.0L1630.7 733.5L1631.1 734.0L1631.6 734.6L1632.0 735.2L1632.4 736.3L1632.9 736.8L1633.3 737.5L1633.7 737.7L1634.2 738.7L1634.6 740.2L1635.0 740.7L1635.4 741.2L1635.9 741.8L1636.3 742.2L1636.7 743.0L1637.1 742.9L1637.6 744.2L1638.0 745.2L1638.5 745.0L1639.0 746.1L1639.5 747.0L1640.0 747.9L1640.5 747.8L1641.0 749.0L1641.5 750.1L1642.0 750.6L1642.6 751.2L1643.1 751.9L1643.6 752.8L1644.1 753.5L1644.6 753.1L1645.1 754.6L1645.6 754.9L1646.1 755.7L1646.7 756.5L1647.2 757.0L1647.7 757.0L1648.2 757.9L1648.7 758.6L1649.2 758.7L1649.7 760.2L1650.2 760.9L1650.7 761.2L1651.1 761.6L1651.6 762.6L1652.1 763.3L1652.6 763.5L1653.0 763.9L1653.5 765.0L1654.0 765.9L1654.4 766.2L1654.9 767.0L1655.3 767.5L1655.7 768.4L1656.2 768.7L1656.6 769.3L1657.0 769.9L1657.4 770.8L1657.8 771.8L1658.2 771.9L1658.5 772.9L1658.9 773.2L1659.3 773.6L1659.7 774.9L1660.0 775.5L1660.4 776.8L1660.7 776.9L1661.1 777.3L1661.4 778.6L1661.7 779.3L1662.1 780.6L1662.4 781.2L1662.7 781.2L1663.0 782.3L1663.3 783.4L1663.6 784.0L1663.8 784.1L1664.1 785.6L1664.4 785.5L1664.6 786.1L1664.9 787.2L1665.2 787.8L1665.4 789.4L1665.7 789.5L1665.9 790.3L1666.2 791.4L1666.4 791.5L1666.6 793.3L1666.9 793.3L1667.1 794.2L1667.3 794.9L1667.6 796.0L1667.8 797.0L1668.0 797.0L1668.3 798.6L1668.5 799.2L1668.7 799.7L1668.9 800.7L1669.2 800.9L1669.4 802.7L1669.6 803.2L1669.8 803.5L1670.0 804.1L1670.1 805.7L1670.3 806.4L1670.5 806.3L1670.7 806.9L1670.8 807.9L1671.0 809.0L1671.2 809.4L1671.3 809.8L1671.5 811.2L1671.6 811.5L1671.8 813.2L1671.9 813.5L1672.1 813.8L1672.2 814.6L1672.4 815.5L1672.5 816.7L1672.6 817.4L1672.8 818.4L1672.9 818.9L1673.1 819.0L1673.2 820.8L1673.3 821.3L1673.5 821.5L1673.6 823.2L1673.7 823.8L1673.9 824.0L1674.0 824.8L1674.1 825.9L1674.3 826.1L1674.4 827.1L1674.5 828.2L1674.6 829.8L1674.8 830.3L1674.9 830.9L1675.0 831.4L1675.2 832.3L1675.3 832.8L1675.4 833.7L1675.6 835.0L1675.7 835.8L1675.9 836.4L1676.0 837.4L1676.1 838.7L1676.3 839.3L1676.4 840.4L1676.6 840.5L1676.7 842.2L1676.9 842.9L1677.0 843.0L1677.2 844.3L1677.3 845.4L1677.5 846.1L1677.6 846.5L1677.8 847.2L1677.9 847.8L1678.1 849.0L1678.2 849.7L1678.3 850.2L1678.5 851.6L1678.6 851.9L1678.8 852.3L1678.9 853.6L1679.1 854.5L1679.2 855.2L1679.4 856.2L1679.5 857.2L1679.7 857.9L1679.8 858.0L1680.0 859.6L1680.2 859.9L1680.3 861.2L1680.5 861.7L1680.6 862.8L1680.8 863.4L1680.9 864.9L1681.1 864.9L1681.2 865.8L1681.4 866.8L1681.6 868.3L1681.7 868.7L1681.9 869.3L1682.0 870.5L1682.2 871.8L1682.3 872.0L1682.5 873.3L1682.7 873.4L1682.8 875.1L1683.0 875.2L1683.1 876.7L1683.3 877.2L1683.4 878.1L1683.6 879.3L1683.8 879.5L1683.9 880.6L1684.1 881.7L1684.2 882.2L1684.4 882.6L1684.5 883.8L1684.7 884.0L1684.8 885.5L1685.0 886.1L1685.2 887.0L1685.3 887.6L1685.5 888.3L1685.6 889.4L1685.8 889.9L1685.9 890.4L1686.1 890.9L1686.2 892.7L1686.4 893.4L1686.5 893.5L1686.7 894.1L1686.8 895.0L1687.0 895.7L1687.1 896.4L1687.3 897.5L1687.4 897.9L1687.6 898.5L1687.7 899.9L1687.9 899.6L1688.1 900.9L1688.3 902.1L1688.5 903.1L1688.7 903.6L1688.9 904.6L1689.1 905.5L1689.3 906.3L1689.5 906.5L1689.7 908.0L1689.8 908.5L1690.0 909.4L1690.2 909.6L1690.4 910.5L1690.6 911.2L1690.8 912.3L1691.0 912.6L1691.1 913.7L1691.3 914.5L1691.5 915.5L1691.7 915.6L1691.9 916.5L1692.1 916.9L1692.3 918.7L1692.6 919.0L1692.8 919.0L1693.0 919.8L1693.2 920.6L1693.5 921.7L1693.7 922.0L1693.9 923.0L1694.2 923.6L1694.4 924.7L1694.7 925.7L1694.9 926.4L1695.1 927.3L1695.4 927.3L1695.6 929.1L1695.9 929.7L1696.1 930.4L1696.4 931.2L1696.6 931.2L1696.9 931.7L1697.1 932.6L1697.4 934.5L1697.7 934.3L1697.9 935.0L1698.2 936.2L1698.5 936.6L1698.8 937.8L1699.1 938.8L1699.3 938.9L1699.6 940.6L1699.9 941.2L1700.2 942.1L1700.5 943.0L1700.8 943.2L1701.1 944.1L1701.3 945.1L1701.6 945.1L1701.9 946.0L1702.2 947.1L1702.5 948.2L1702.8 949.0L1703.1 949.5L1703.4 950.4L1703.7 950.4L1704.0 952.2L1704.3 953.1L1704.6 953.4L1704.9 953.7L1705.1 954.5L1705.4 955.7L1705.7 956.2L1706.0 956.7L1706.3 957.5L1706.6 958.9L1706.9 959.0L1707.2 960.0L1707.5 960.5L1707.8 961.6L1708.2 962.0L1708.5 963.6L1708.8 964.3L1709.1 964.2L1709.4 965.3L1709.7 966.0L1710.0 966.8L1710.3 967.6L1710.6 968.5L1710.9 968.9L1711.2 969.3L1711.5 971.2L1711.9 971.2L1712.2 972.2L1712.5 973.2L1712.8 974.2L1713.1 974.3L1713.4 974.8L1713.8 975.7L1714.1 976.5L1714.4 977.9L1714.7 977.7L1715.1 979.4L1715.4 979.8L1715.7 980.9L1716.1 981.1L1716.4 981.8L1716.8 982.8L1717.1 983.7L1717.5 984.3L1717.8 984.8L1718.1 985.8L1718.5 986.2L1718.8 986.9L1719.2 988.0L1719.5 988.5L1719.9 989.6L1720.2 990.0L1720.6 990.7L1720.9 991.5L1721.3 992.2L1721.6 992.8L1722.0 993.5L1722.4 995.0L1722.7 995.2L1723.1 996.1L1723.5 996.3L1723.8 997.8L1724.2 998.3L1724.6 998.9L1725.0 999.3L1725.3 1000.0L1725.7 1001.6L1726.1 1001.6L1726.5 1002.5L1726.8 1003.1L1727.2 1004.3L1727.6 1004.7L1728.0 1005.6L1728.3 1006.3L1728.7 1006.6L1729.1 1007.8L1729.5 1008.3L1729.9 1008.6L1730.2 1009.5L1730.6 1011.1L1731.0 1010.8L1731.4 1011.4L1731.7 1012.6L1732.1 1013.2L1732.5 1013.9L1732.9 1015.3L1733.3 1014.9L1733.7 1016.0L1734.1 1016.6L1734.4 1017.3L1734.8 1018.1L1735.2 1018.5L1735.6 1019.6L1736.0 1021.1L1736.4 1021.3L1736.8 1022.3L1737.2 1022.9L1737.6 1023.5L1738.0 1024.1L1738.4 1024.2L1738.8 1025.0L1739.2 1026.6L1739.6 1027.1L1740.0 1027.8L1740.4 1028.6L1740.7 1029.5L1741.1 1029.7L1741.5 1030.7L1741.9 1031.5L1742.3 1032.5L1742.7 1032.9L1743.1 1033.1L1743.5 1033.3L1744.0 1034.7L1744.4 1035.4L1744.8 1035.7L1745.2 1036.3L1745.6 1037.5L1746.0 1038.2L1746.4 1039.2L1746.8 1039.4L1747.2 1040.5L1747.6 1040.4L1748.1 1041.9L1748.5 1042.3L1749.0 1042.8L1749.4 1043.1L1749.8 1044.6L1750.3 1044.7L1750.7 1045.5L1751.2 1047.0L1751.6 1047.1L1752.1 1047.6L1752.5 1048.9L1753.0 1049.1L1753.4 1049.7L1753.9 1050.9L1754.3 1051.2L1754.8 1051.6L1755.3 1052.4L1755.7 1053.6L1756.2 1054.4L1756.6 1054.6L1757.1 1056.3L1757.5 1056.3L1758.0 1056.9L1758.4 1057.6L1758.9 1058.4L1759.3 1058.8L1759.8 1059.7L1760.2 1060.7L1760.7 1061.5L1761.1 1061.6L1761.6 1062.1L1762.0 1061.9L1762.5 1064.3L1763.1 1064.6L1763.6 1065.7L1764.1 1066.8L1764.6 1065.4L1765.2 1065.6L1765.7 1069.5L1766.2 1070.0L1766.7 1068.6L1767.2 1070.9L1767.8 1070.3L1768.3 1070.2L1768.8 1071.9L1769.3 1072.6L1769.9 1074.5L1770.4 1073.5L1770.9 1073.9L1771.5 1075.7L1772.0 1077.5L1772.6 1075.0L1773.1 1073.5L1773.7 1075.3L1774.4 1074.1L1775.1 1075.8L1775.8 1076.3L1776.5 1075.3L1777.3 1074.4L1778.1 1075.0L1778.8 1075.6L1779.6 1074.5L1780.4 1072.1L1781.1 1072.6L1781.8 1072.2L1782.5 1070.3L1783.2 1070.8L1783.8 1071.7L1784.4 1070.4L1785.0 1068.7L1785.5 1069.3L1786.0 1066.9L1786.4 1068.5L1786.8 1067.0L1787.2 1064.0L1787.5 1064.8L1787.8 1064.2L1788.0 1064.5L1788.3 1062.7L1788.5 1057.8L1788.7 1058.9L1788.9 1060.7L1789.2 1059.3L1789.4 1054.9L1789.6 1057.6L1789.9 1055.9L1790.1 1054.0L1790.3 1055.8L1790.5 1058.1L1790.7 1058.1L1790.9 1059.1L1791.1 1057.2L1791.3 1060.6L1791.4 1063.2L1791.6 1061.8L1791.8 1061.2L1792.0 1065.6L1792.1 1065.7L1792.3 1065.9L1792.5 1065.4L1792.7 1069.3L1792.9 1070.4L1793.1 1066.8L1793.3 1070.1L1793.5 1074.2L1793.8 1072.0L1794.0 1074.0L1794.3 1073.9L1794.7 1074.9L1795.0 1076.3L1795.4 1077.9L1795.8 1079.3L1796.3 1078.9L1796.7 1081.2L1797.2 1080.7L1797.6 1081.5L1798.0 1081.8L1798.5 1081.5L1798.9 1083.2L1799.4 1083.4L1799.8 1086.6L1800.2 1085.1L1800.5 1083.6L1800.9 1085.0L1801.2 1083.6L1801.6 1080.6L1801.9 1085.8L1802.3 1080.0L1802.6 1086.8L1803.0 1078.1L1803.3 1085.7L1803.6 1086.3L1803.9 1087.4L1804.3 1075.0L1804.6 1078.0L1804.9 1080.7L1805.2 1072.8L1805.5 1071.5L1805.8 1085.9L1806.1 1062.5L1806.2 1076.1L1806.3 1072.3L1806.3 1077.4L1806.4 1061.4L1806.5 1070.4L1806.6 1081.8L1806.7 1067.1L1806.7 1069.1L1806.8 1063.9L1806.9 1063.2L1807.0 1062.8L1807.0 1063.5L1807.1 1059.9L1807.2 1038.2L1807.2 1059.3L1807.3 1059.1L1807.4 1054.9L1807.4 1079.8L1807.5 1064.8L1807.6 1066.5L1807.6 1055.4L1807.7 1075.6L1807.8 1076.9L1807.8 1085.3L1807.9 1064.0L1807.9 1048.1L1808.0 1066.0L1808.1 1056.6L1808.1 1080.5L1808.2 1049.8L1808.2 1061.3L1808.3 1056.6L1808.4 1072.5L1808.4 1062.7L1808.5 1052.2L1808.5 1067.1L1808.6 1045.8L1808.7 1066.8L1808.7 1051.0L1808.8 1064.2L1808.8 1065.4L1808.9 1055.0L1808.9 1048.5L1809.0 1072.5L1809.0 1042.8L1809.1 1050.3L1809.2 1046.9L1809.2 1045.0L1809.3 1053.6L1809.3 1063.6L1809.4 1059.6L1809.4 1042.2L1809.5 1061.3L1809.6 1060.3L1809.6 1049.2L1809.7 1051.2L1809.7 1052.1L1809.8 1049.8L1809.8 1059.1L1809.9 1037.5L1810.0 1045.5L1810.0 1049.4L1810.1 1055.0L1810.1 1061.6L1810.2 1022.7L1810.3 1049.9L1810.3 1054.2L1810.4 1035.2L1810.4 1045.0L1810.5 1039.6L1810.6 1054.4L1810.6 1053.5L1810.7 1043.5L1810.8 1040.4L1810.8 1060.8L1810.9 1043.1L1811.0 1037.1L1811.0 1040.5L1811.1 1033.4L1811.2 1050.0L1811.2 1040.3L1811.3 1051.2L1811.4 1047.0L1811.5 1048.5L1811.5 1049.0L1811.6 1035.6L1811.7 1028.8L1811.8 1044.6L1811.8 1042.3L1811.9 1053.3L1812.0 1028.3L1812.1 1051.9L1812.2 1052.1L1812.3 1046.5L1812.3 1031.5L1812.4 1029.9L1812.5 1039.6L1812.6 1033.8L1812.7 1040.6L1812.8 1017.0L1812.9 1041.2L1813.0 1025.6L1813.1 1039.7L1813.2 1041.3L1813.3 1036.4L1813.4 1046.7L1813.4 1032.6L1813.5 1030.5L1813.6 1032.8L1813.7 1032.5L1813.8 1043.5L1813.9 1036.4L1814.0 1043.3L1814.1 1033.1L1814.3 1038.3L1814.4 1035.9L1814.5 1041.4L1814.6 1030.3L1814.7 1036.5L1814.8 1024.5L1814.9 1033.8L1815.0 1026.1L1815.1 1027.1L1815.2 1025.3L1815.3 1018.5L1815.4 1034.0L1815.5 1027.1L1815.6 1033.3L1815.7 1014.9L1815.8 1033.5L1815.9 1027.4L1816.1 1035.1L1816.2 1014.2L1816.3 1016.6L1816.4 1031.8L1816.5 1024.6L1816.6 1028.8L1816.7 1028.5L1816.8 1024.7L1816.9 1029.2L1817.0 1025.2L1817.1 1031.1L1817.2 1022.1L1817.3 1023.3L1817.5 1011.9L1817.6 1031.7L1817.7 1017.1L1817.8 1026.8L1817.9 1017.0L1818.0 1016.3L1818.1 1013.4L1818.2 1029.7L1818.3 1020.1L1818.4 1022.2L1818.5 1025.0L1818.6 1012.2L1818.7 995.8L1818.8 1011.9L1818.9 1011.6L1819.0 1019.2L1819.1 1006.7L1819.2 1026.7L1819.3 1007.7L1819.4 1031.8L1819.5 1003.7L1819.6 1026.4L1819.7 1017.8L1819.8 1014.7L1819.9 1023.9L1819.9 1009.1L1820.0 1006.6L1820.1 1002.7L1820.2 1021.5L1820.3 1017.1L1820.4 1013.5L1820.5 1015.2L1820.6 1008.5L1820.6 1016.7L1820.7 1003.7L1820.8 1021.8L1820.9 1018.3L1820.9 1007.9L1821.0 1013.7L1821.1 1008.7L1821.1 1016.1L1821.2 1018.8L1821.3 1007.0L1821.3 1018.4L1821.4 1024.7L1821.5 1004.4L1821.5 1012.1L1821.6 1019.0L1821.6 999.3L1821.7 999.0L1821.8 997.4L1821.8 1015.4L1821.9 992.6L1821.9 1008.9L1822.0 1010.7L1822.1 1014.6L1822.1 989.9L1822.2 1000.8L1822.2 1005.9L1822.3 986.0L1822.3 1000.3L1822.4 995.7L1822.4 998.2L1822.5 1003.9L1822.6 1010.8L1822.6 1000.7L1822.7 1007.4L1822.7 1003.4L1822.8 988.1L1822.8 989.7L1822.9 998.6L1822.9 997.0L1823.0 990.7L1823.0 994.1L1823.1 990.3L1823.1 985.8L1823.2 982.6L1823.2 1011.6L1823.3 1008.5L1823.3 1018.1L1823.4 988.8L1823.4 1003.4L1823.5 1001.6L1823.5 984.1L1823.6 1005.1L1823.6 989.2L1823.6 992.0L1823.7 1003.4L1823.7 997.2L1823.8 998.7L1823.8 985.6L1823.9 974.2L1823.9 996.0L1824.0 1001.6L1824.0 992.5L1824.1 983.5L1824.1 998.6L1824.1 976.5L1824.2 979.4L1824.2 996.6L1824.3 993.9L1824.3 983.1L1824.4 993.9L1824.4 994.8L1824.5 973.0L1824.5 977.6L1824.5 1000.2L1824.6 992.7L1824.6 988.0L1824.7 983.4L1824.7 985.4L1824.8 985.8L1824.8 972.7L1824.8 995.5L1824.9 999.2L1824.9 982.2L1825.0 975.1L1825.0 963.3L1825.1 990.0L1825.1 971.8L1825.1 988.0L1825.2 975.7L1825.2 997.6L1825.3 975.4L1825.3 958.7L1825.4 989.2L1825.4 969.3L1825.4 972.3L1825.5 976.2L1825.5 971.0L1825.6 975.9L1825.6 984.3L1825.7 975.0L1825.7 981.9L1825.7 965.8L1825.8 984.4L1825.8 971.1L1825.9 983.7L1825.9 979.5L1826.0 975.5L1826.0 981.2L1826.1 981.1L1826.1 966.7L1826.1 981.6L1826.2 966.2L1826.2 971.3L1826.3 981.4L1826.3 982.0L1826.4 963.4L1826.4 976.4L1826.5 963.4L1826.5 971.5L1826.6 976.7L1826.6 958.2L1826.7 957.2L1826.7 967.3L1826.8 971.4L1826.8 956.3L1826.9 975.3L1826.9 969.4L1827.0 961.5L1827.1 959.6L1827.1 967.1L1827.2 973.1L1827.3 962.9L1827.3 969.4L1827.4 964.1L1827.5 974.5L1827.5 965.9L1827.6 962.4L1827.6 953.7L1827.7 967.5L1827.8 962.3L1827.8 973.2L1827.9 957.2L1828.0 958.3L1828.0 958.8L1828.1 958.1L1828.2 956.2L1828.2 953.9L1828.3 945.2L1828.4 964.2L1828.4 955.2L1828.5 953.6L1828.6 959.3L1828.6 955.5L1828.7 953.1L1828.8 960.3L1828.8 965.5L1828.9 962.5L1828.9 956.2L1829.0 964.5L1829.1 956.6L1829.1 948.8L1829.2 949.3L1829.3 950.4L1829.3 954.5L1829.4 955.6L1829.5 959.9L1829.5 954.1L1829.6 951.9L1829.6 954.6L1829.7 957.0L1829.8 957.5L1829.8 948.2L1829.9 953.1L1829.9 954.4L1830.0 950.9L1830.1 952.3L1830.1 947.8L1830.2 951.2L1830.2 952.1L1830.3 950.6L1830.3 945.3L1830.4 945.8L1830.4 948.6L1830.5 946.9L1830.5 947.1L1830.6 945.1L1830.6 948.9L1830.7 944.8L1830.7 946.8L1830.8 944.4L1830.8 943.6L1830.9 942.8L1830.9 943.6L1831.0 943.7L1831.0 944.7L1831.1 945.3L1831.1 942.7L1831.2 940.4L1831.2 943.2L1831.2 941.8L1831.3 940.6L1831.3 942.8L1831.3 940.5L1831.3 942.6L1831.3 941.5L1831.4 939.1L1831.4 939.3L1831.4 939.4L1831.4 937.2L1831.5 938.6L1831.5 940.0L1831.5 936.6L1831.5 936.6L1831.6 938.0L1831.6 935.4L1831.6 938.1L1831.6 936.4L1831.6 936.0L1831.7 934.5L1831.7 936.2L1831.7 935.9L1831.7 933.9L1831.7 933.5L1831.8 933.2L1831.8 933.6L1831.8 931.4L1831.8 932.0L1831.8 932.7L1831.8 931.9L1831.9 931.4L1831.9 931.3L1831.9 930.6L1831.9 930.0L1831.9 929.3L1831.9 930.5L1832.0 929.2L1832.0 928.8L1832.0 926.9L1832.0 927.2L1832.0 927.1L1832.0 926.3L1832.0 925.3L1832.1 925.5L1832.1 925.7L1832.1 925.0L1832.1 923.6L1832.1 924.8L1832.1 923.2L1832.1 923.4L1832.2 921.8L1832.2 922.2L1832.2 921.4L1832.2 920.9L1832.2 921.0L1832.2 920.0L1832.2 919.2L1832.2 920.1L1832.2 918.7L1832.3 917.6L1832.3 918.0L1832.3 916.7L1832.3 917.4L1832.3 916.0L1832.3 917.0L1832.3 916.6L1832.3 914.1L1832.3 914.4L1832.3 913.7L1832.3 913.5L1832.4 912.7L1832.4 913.0L1832.4 912.1L1832.4 912.0L1832.4 911.1L1832.4 910.9L1832.4 910.1L1832.4 909.3L1832.4 909.2L1832.4 909.4L1832.4 908.0L1832.4 907.5L1832.4 906.7L1832.5 906.9L1832.5 907.3L1832.5 906.6L1832.5 906.0L1832.5 905.4L1832.5 904.6L1832.5 903.6L1832.5 902.6L1832.5 902.6L1832.5 903.0L1832.5 903.0L1832.5 901.5L1832.5 901.3L1832.5 900.8L1832.5 901.9L1832.5 900.0L1832.5 900.2L1832.5 899.7L1832.5 898.6L1832.5 898.7L1832.5 898.2L1832.5 897.6L1832.6 896.6L1832.6 897.4L1832.6 896.5L1832.6 896.6L1832.6 896.1L1832.6 894.4L1832.6 895.2L1832.6 894.6L1832.6 893.1L1832.6 892.4L1832.6 893.5L1832.6 892.8L1832.6 893.1L1832.6 892.1L1832.6 891.3L1832.6 890.3L1832.6 889.7L1832.6 889.8L1832.6 888.8L1832.6 889.5L1832.6 890.0L1832.6 888.2L1832.6 887.9L1832.6 887.7L1832.6 888.2L1832.6 887.5L1832.6 887.8L1832.6 887.3L1832.6 886.2L1832.6 886.8L1832.6 885.8L1832.6 885.2L1832.6 885.2L1832.6 884.3L1832.6 884.6L1832.6 883.6L1832.6 883.8L1832.6 883.4L1832.6 882.0L1832.6 883.1L1832.6 882.4L1832.6 882.6L1832.6 881.2L1832.6 881.7L1832.6 880.6L1832.6 881.0L1832.6 879.4L1832.6 881.2L1832.6 880.3L1832.6 878.9L1832.6 880.6L1832.6 879.4L1832.6 878.7L1832.6 879.8L1832.6 878.4L1832.6 879.2L1832.6 878.7L1832.6 879.0L1832.6 878.0L1832.6 878.5L1832.6 878.1L1832.6 877.5L1832.6 877.1L1832.6 876.7L1832.6 876.7L1832.6 876.4L1832.6 877.5L1832.6 878.2L1832.6 876.4L1832.6 877.2L1832.6 875.4L1832.6 876.8L1832.6 876.8L1832.6 877.3L1832.6 876.1L1832.6 875.5L1832.6 876.5L1832.6 876.2L1832.6 877.0L1832.6 875.3L1832.6 876.0L1832.6 876.0L1832.6 876.0" stroke="#f22d2f" stroke-width="4.0"/>
<path d="M186.0 566.5L186.4 566.4L187.3 567.8L188.4 565.4L188.9 566.7L189.6 567.6L190.2 567.2L191.0 566.6L191.7 568.3L192.5 563.2L193.4 564.0L194.3 564.8L195.2 566.0L196.1 564.9L197.1 563.3L198.0 563.8L199.0 563.7L200.0 561.9L200.9 564.3L201.6 564.8L202.3 564.0L203.0 565.4L203.7 565.7L204.5 562.3L205.2 564.9L206.0 562.5L206.7 563.0L207.5 564.3L208.3 562.7L209.1 560.0L209.9 558.5L210.7 562.2L211.5 560.9L212.3 561.5L213.1 554.7L213.9 559.8L214.7 561.0L215.5 558.0L216.3 558.0L217.1 560.7L217.9 561.3L218.7 560.4L219.5 559.7L220.3 558.2L221.1 558.8L221.9 557.8L222.7 557.1L223.5 554.0L224.3 558.8L225.1 557.9L225.9 559.6L226.7 558.3L227.5 555.2L228.3 557.5L229.1 555.6L229.9 554.3L230.7 554.3L231.5 557.8L232.3 554.9L233.1 556.8L233.9 556.9L234.7 557.3L235.5 556.4L236.4 551.9L237.2 551.9L238.0 554.3L238.8 554.2L239.6 556.0L240.4 551.1L241.2 550.1L242.0 553.2L242.8 551.7L243.6 551.3L244.4 551.1L245.2 551.0L246.0 558.2L246.8 554.7L247.6 550.8L248.5 548.9L249.3 555.1L250.1 555.4L250.9 550.8L251.7 555.7L252.5 547.0L253.3 558.0L254.1 548.9L254.4 538.9L254.7 548.9L254.9 556.3L255.8 548.3L256.6 551.7L257.4 552.6L258.2 555.5L259.0 549.8L259.8 550.3L260.6 552.4L261.4 546.9L262.2 554.7L263.0 549.1L263.8 554.9L264.6 551.1L265.4 551.2L266.2 553.6L267.0 553.2L267.8 552.2L268.6 552.9L269.4 555.4L270.2 549.8L271.0 554.2L271.8 546.3L272.6 549.3L273.4 550.8L274.2 542.7L275.0 550.6L275.8 538.2L276.1 532.2L276.4 538.2L276.6 548.7L277.4 546.7L278.1 541.4L278.9 548.7L279.7 545.9L280.4 547.8L281.1 542.3L281.9 543.7L282.6 542.3L283.3 539.3L284.0 545.7L284.7 543.8L285.6 540.3L286.4 544.6L287.2 536.8L288.0 538.0L288.8 542.5L289.5 537.8L290.3 546.3L291.0 543.4L291.8 537.7L292.5 536.3L293.3 545.4L294.0 543.1L294.8 537.1L295.6 541.0L296.4 538.3L297.3 538.9L298.0 545.1L298.8 538.1L299.6 538.4L300.4 543.6L301.3 535.9L302.1 536.5L302.9 537.4L303.8 543.6L304.7 536.6L305.6 538.9L306.4 535.2L306.7 542.2L307.0 535.2L307.3 535.3L308.2 537.1L309.0 535.6L309.9 533.4L310.7 535.8L311.0 542.8L311.3 535.8L311.6 535.2L312.4 532.9L313.2 534.6L313.9 535.8L314.7 539.1L315.4 538.1L316.1 534.5L316.9 536.9L317.6 540.6L318.3 545.1L318.9 536.9L319.5 537.7L320.1 546.2L320.7 544.6L321.3 536.0L321.9 539.7L322.5 538.2L323.1 546.1L323.7 543.1L324.4 539.1L325.1 547.1L325.8 542.8L326.6 541.5L327.3 541.5L328.0 542.4L328.7 547.2L329.5 542.4L330.3 543.4L331.1 543.4L331.9 541.5L332.8 547.5L333.6 543.8L334.5 548.5L335.4 539.2L336.3 539.8L337.2 540.1L338.1 545.9L339.0 546.2L339.9 541.3L340.8 548.9L341.6 547.1L342.5 546.1L343.3 539.1L344.1 547.0L344.8 545.6L345.5 538.8L346.2 548.0L346.9 538.8L347.5 545.3L348.3 547.1L349.0 548.3L349.7 548.0L350.3 547.7L350.9 549.2L351.5 545.0L352.0 547.6L352.3 558.6L352.6 547.6L352.5 543.3L353.0 549.9L353.6 557.6L354.1 544.4L354.7 553.3L355.3 551.2L355.9 549.0L356.4 554.9L356.9 549.8L357.5 554.0L358.0 556.6L358.6 550.7L359.2 554.7L359.7 554.5L360.3 553.6L360.9 559.4L361.5 556.6L362.0 556.9L362.6 562.3L363.2 561.0L363.8 558.4L364.4 558.3L365.0 560.3L365.6 558.5L366.2 560.8L366.8 560.6L367.3 565.4L367.9 571.4L368.5 565.9L369.1 563.3L369.6 565.3L370.2 567.0L370.8 569.4L371.4 571.8L371.9 565.1L372.5 571.8L373.1 567.7L373.6 568.0L374.2 568.3L374.8 575.0L375.4 568.3L375.9 573.3L376.5 571.6L377.1 576.3L377.6 576.5L378.2 576.3L378.8 578.2L379.3 575.3L379.9 577.3L380.4 580.8L381.0 579.9L381.5 579.5L382.1 581.4L382.6 577.7L383.1 581.2L383.6 580.5L384.2 580.9L384.7 576.8L385.2 590.9L385.7 582.8L386.3 581.6L386.8 582.8L387.3 583.0L387.8 585.6L388.3 587.8L388.9 590.3L389.4 587.4L389.9 589.5L390.2 599.5L390.5 589.5L390.4 590.2L391.0 590.4L391.5 590.8L392.0 591.8L392.5 593.3L393.1 589.7L393.6 591.9L394.0 593.1L394.4 596.5L394.8 594.5L395.2 592.7L395.6 593.9L396.0 589.4L396.4 600.8L396.8 598.1L397.3 601.9L397.7 595.5L398.1 596.1L398.5 603.0L398.9 597.6L399.3 603.4L399.7 599.7L400.1 602.5L400.5 602.3L400.9 600.8L401.3 604.1L401.7 607.1L402.1 607.0L402.5 604.1L402.9 606.0L403.3 607.3L403.7 612.6L404.2 610.2L404.6 609.0L405.0 613.0L405.4 614.6L405.9 610.7L406.3 610.3L406.7 611.6L407.2 612.9L407.6 617.6L408.1 615.5L408.5 615.9L409.0 616.4L409.5 618.4L409.9 619.2L410.4 621.3L410.9 619.2L411.4 620.5L411.9 622.0L412.4 624.7L412.9 624.0L413.4 621.4L414.0 626.1L414.5 624.7L415.0 623.9L415.6 626.5L416.1 627.1L416.6 626.2L417.2 626.3L417.7 629.5L418.3 630.0L418.8 630.6L419.4 628.6L419.9 631.1L420.5 629.7L421.1 632.7L421.6 631.3L422.2 632.7L422.8 633.8L423.3 633.7L423.9 634.1L424.5 635.2L425.0 635.7L425.6 638.1L426.2 636.5L426.7 639.7L427.3 637.2L427.9 638.2L428.5 640.5L429.0 640.8L429.6 642.2L430.2 641.2L430.7 641.4L431.3 642.6L431.9 643.3L432.5 644.1L433.1 644.0L433.6 644.4L434.2 645.4L434.8 645.9L435.4 646.3L436.0 647.7L436.6 647.5L437.2 647.8L437.8 648.1L438.4 649.1L439.0 650.2L439.6 650.2L440.2 651.2L440.8 651.3L441.4 652.2L442.0 652.1L442.6 653.0L443.2 653.3L443.8 654.1L444.4 654.7L445.0 655.7L445.6 656.1L446.2 656.5L446.8 657.4L447.4 657.3L448.0 657.8L448.6 658.6L449.2 659.1L449.8 658.9L450.5 659.7L451.1 660.1L451.7 660.7L452.3 661.1L453.0 661.9L453.6 662.0L454.3 662.6L455.0 664.1L455.6 664.3L456.3 664.1L457.0 664.9L457.6 665.2L458.3 666.1L459.0 666.4L459.7 667.1L460.3 667.6L461.0 668.1L461.7 668.2L462.4 669.3L463.1 669.6L463.8 669.7L464.4 670.0L465.1 670.6L465.8 670.8L466.5 671.9L467.2 671.9L467.8 672.2L468.5 672.7L469.2 673.4L469.9 673.3L470.5 674.2L471.2 674.2L471.9 674.8L472.5 674.8L473.2 675.1L474.0 675.7L474.8 676.2L475.6 676.7L476.4 676.4L477.2 677.1L477.9 676.9L478.7 677.3L479.5 677.6L480.2 678.0L481.0 678.2L481.8 678.9L482.6 678.4L483.4 678.3L484.2 679.1L485.0 678.7L485.8 679.2L486.6 679.6L487.4 679.8L488.3 679.5L489.1 679.2L490.0 679.0L490.7 679.7L491.5 679.3L492.2 679.4L493.0 679.5L493.8 679.9L494.6 679.8L495.4 678.8L496.2 679.2L497.0 679.3L497.8 679.0L498.6 678.8L499.5 678.7L500.3 679.0L501.1 679.1L502.0 678.3L502.8 678.3L503.6 678.1L504.5 678.5L505.3 678.7L506.2 677.7L507.0 677.9L507.8 677.3L508.7 677.8L509.5 677.5L510.3 677.2L511.1 677.2L511.9 676.4L512.8 677.0L513.5 676.8L514.3 676.1L515.1 676.4L515.9 675.8L516.7 676.3L517.5 675.4L518.3 675.6L519.1 675.0L519.9 675.6L520.7 674.6L521.5 674.6L522.2 674.8L523.0 673.9L523.8 674.4L524.5 674.0L525.3 673.3L526.1 673.6L526.8 673.6L527.6 673.2L528.3 672.5L529.1 673.0L529.9 672.3L530.6 672.6L531.4 672.2L532.2 671.4L532.9 671.1L533.7 671.6L534.5 671.4L535.2 671.1L536.0 670.3L536.8 670.8L537.6 670.3L538.3 669.8L539.1 670.3L539.9 670.0L540.7 669.8L541.5 669.3L542.2 669.4L543.0 668.8L543.8 669.1L544.6 668.8L545.4 668.6L546.2 668.3L547.0 668.4L547.7 667.7L548.5 667.7L549.3 667.9L550.1 667.5L550.9 667.8L551.6 667.4L552.4 667.1L553.2 666.3L553.9 666.6L554.7 665.9L555.5 665.6L556.2 665.9L557.0 665.5L557.7 665.1L558.5 665.0L559.2 664.1L560.0 664.3L560.7 663.7L561.5 663.6L562.3 662.8L563.0 662.5L563.8 662.6L564.5 662.4L565.3 661.4L566.0 661.1L566.8 661.0L567.5 660.4L568.3 659.7L569.0 659.4L569.7 658.9L570.5 658.4L571.2 658.0L571.9 657.7L572.6 657.2L573.3 656.7L574.0 656.3L574.7 655.9L575.3 655.9L576.0 655.1L576.6 654.3L577.3 654.3L577.9 653.6L578.6 653.9L579.3 652.9L580.0 652.0L580.6 652.3L581.2 651.5L581.8 651.0L582.4 650.2L583.0 650.3L583.6 649.7L584.2 648.6L584.7 648.2L585.3 647.7L585.9 646.8L586.5 646.4L587.1 645.9L587.7 646.2L588.3 645.0L588.9 644.8L589.6 643.9L590.2 643.6L590.9 642.6L591.5 642.3L592.0 641.9L592.6 641.4L593.2 641.1L593.8 640.5L594.4 639.9L595.0 639.7L595.6 638.9L596.3 638.8L596.9 638.5L597.5 637.6L598.2 637.6L598.8 636.6L599.5 636.0L600.1 635.7L600.8 635.4L601.4 634.8L602.1 634.0L602.8 633.9L603.4 633.1L604.1 632.8L604.8 632.5L605.4 631.6L606.1 631.4L606.7 630.1L607.4 630.2L608.0 629.6L608.7 628.6L609.3 628.2L610.0 627.5L610.6 626.7L611.3 626.7L611.9 626.3L612.5 625.4L613.1 625.3L613.7 624.4L614.3 624.5L614.9 623.6L615.5 623.1L616.1 622.4L616.7 622.3L617.3 621.3L617.9 621.3L618.5 620.2L619.1 619.4L619.7 618.9L620.3 618.6L620.9 618.3L621.5 618.0L622.1 617.1L622.6 616.7L623.2 615.3L623.8 615.5L624.4 614.9L625.0 614.1L625.6 613.7L626.2 613.3L626.8 612.5L627.4 612.1L628.0 611.6L628.6 610.9L629.2 610.0L629.8 609.6L630.4 609.3L631.0 608.2L631.6 608.1L632.2 608.0L632.8 607.2L633.4 606.7L634.1 606.5L634.7 605.4L635.3 605.0L636.0 604.8L636.6 603.9L637.2 603.7L637.9 602.9L638.5 602.7L639.1 602.0L639.8 601.4L640.4 600.7L641.0 600.7L641.7 600.1L642.3 599.6L642.9 599.2L643.6 598.9L644.2 598.1L644.9 597.4L645.5 597.6L646.1 597.3L646.8 595.7L647.4 595.6L648.1 595.3L648.7 594.3L649.3 594.1L650.0 593.7L650.6 593.3L651.3 592.7L651.9 592.0L652.5 591.9L653.2 591.4L653.8 590.3L654.4 589.6L655.1 589.3L655.7 589.1L656.4 588.4L657.0 588.0L657.7 587.7L658.3 587.5L659.0 586.3L659.6 585.9L660.3 585.5L661.0 585.0L661.6 584.9L662.3 584.4L662.9 583.6L663.6 582.9L664.2 583.0L664.9 581.4L665.5 581.5L666.2 581.6L666.8 580.2L667.5 579.6L668.1 579.9L668.7 578.8L669.4 578.3L670.0 577.9L670.6 577.0L671.2 576.6L671.8 575.8L672.4 576.1L673.0 575.4L673.6 574.9L674.1 574.5L674.7 574.1L675.3 573.0L675.9 572.6L676.6 571.8L677.2 571.5L677.8 570.3L678.4 570.4L679.0 569.9L679.6 569.3L680.2 568.0L680.8 567.9L681.4 567.2L681.9 566.2L682.5 566.0L683.1 565.6L683.6 564.8L684.2 564.2L684.7 563.2L685.2 562.7L685.7 562.0L686.2 561.2L686.7 561.4L687.2 559.7L687.7 559.4L688.1 558.6L688.6 558.2L689.0 557.4L689.4 557.4L689.9 556.4L690.3 555.4L690.7 554.9L691.1 554.2L691.4 553.2L691.7 552.4L692.0 551.0L692.3 550.7L692.6 549.4L692.9 548.4L693.2 547.9L693.5 547.5L693.9 546.4L694.3 546.0L694.7 545.4L695.2 544.9L695.7 544.8L696.4 544.5L697.2 544.2L698.0 544.3L698.8 544.4L699.7 544.4L700.6 543.9L701.5 544.8L702.4 544.8L703.3 544.9L704.3 545.0L705.2 544.7L706.1 544.8L706.7 543.8L707.4 543.8L708.1 543.4L708.8 543.2L709.4 543.0L710.1 542.0L710.8 542.3L711.5 541.3L712.2 541.5L712.9 540.5L713.6 539.9L714.3 540.0L715.0 539.3L715.7 538.4L716.4 538.1L717.0 537.1L717.7 537.1L718.4 535.8L719.0 535.7L719.6 535.4L720.2 535.0L720.8 533.5L721.4 533.9L721.9 532.8L722.5 532.1L723.0 530.8L723.5 530.9L724.0 530.3L724.5 529.6L724.9 528.2L725.4 527.7L725.9 526.9L726.3 525.7L726.8 525.6L727.2 524.7L727.7 524.0L728.2 523.2L728.7 523.2L729.2 522.0L729.7 521.4L730.2 520.8L730.7 520.6L731.3 520.5L732.0 520.0L732.8 520.2L733.5 519.9L734.3 519.5L735.1 520.1L735.9 520.0L736.7 520.2L737.5 520.5L738.4 520.5L739.2 520.6L740.0 520.8L740.9 520.9L741.7 519.7L742.3 520.4L742.9 520.5L743.5 519.6L744.1 518.9L744.6 519.4L745.2 518.5L745.8 518.3L746.4 517.4L747.1 516.8L747.7 516.1L748.3 515.6L748.9 515.6L749.5 515.0L750.1 513.9L750.8 514.2L751.4 512.8L752.0 512.5L752.6 511.4L753.3 511.6L753.9 510.6L754.6 510.1L755.2 509.7L755.9 508.7L756.5 508.0L757.2 507.7L757.8 507.1L758.5 507.2L759.1 505.8L759.8 506.2L760.4 505.4L761.1 505.0L761.7 504.2L762.4 503.8L763.0 503.5L763.7 502.8L764.4 502.0L765.0 502.0L765.7 501.2L766.4 500.7L767.1 500.6L767.7 500.2L768.4 499.4L769.1 499.2L769.8 498.5L770.5 498.5L771.2 497.6L771.8 497.5L772.5 496.2L773.2 496.1L773.9 496.0L774.6 495.7L775.3 494.8L776.0 494.7L776.7 493.7L777.4 493.8L778.0 493.1L778.7 492.7L779.4 491.8L780.1 491.4L780.7 491.4L781.4 490.4L782.1 489.9L782.8 489.7L783.4 489.5L784.1 489.0L784.8 488.7L785.5 488.6L786.1 487.3L786.8 487.2L787.5 486.7L788.2 486.1L788.9 486.1L789.5 485.8L790.2 484.9L790.9 484.4L791.6 484.3L792.2 483.8L792.9 483.5L793.6 482.4L794.3 482.2L795.0 482.2L795.6 481.8L796.3 481.1L797.0 481.0L797.7 480.6L798.4 479.8L799.0 479.6L799.7 479.0L800.4 478.8L801.1 478.1L801.8 477.8L802.5 477.5L803.2 476.2L803.9 475.9L804.6 475.9L805.3 475.3L806.0 475.2L806.7 474.2L807.4 473.7L808.1 473.5L808.9 472.6L809.6 472.0L810.3 471.6L811.0 471.2L811.7 470.6L812.4 469.8L813.1 470.0L813.8 469.2L814.5 468.9L815.2 469.1L815.9 468.1L816.6 467.4L817.3 467.8L817.9 466.8L818.6 466.8L819.3 467.0L820.0 466.0L820.6 465.9L821.3 465.9L822.1 466.0L823.0 465.4L823.8 465.9L824.6 465.4L825.4 465.8L826.2 465.2L826.9 465.9L827.7 465.4L828.5 465.8L829.3 466.0L830.1 466.4L830.9 466.0L831.7 466.3L832.5 466.5L833.3 466.6L834.2 466.8L835.1 466.1L836.0 465.7L836.7 466.1L837.3 465.6L838.0 465.5L838.7 465.8L839.4 464.8L840.1 464.8L840.9 464.8L841.6 464.5L842.3 464.6L843.1 464.1L843.9 463.4L844.6 463.2L845.4 463.5L846.2 463.2L847.0 463.2L847.8 462.2L848.5 462.4L849.3 462.1L850.1 461.7L850.9 461.1L851.7 460.7L852.5 460.5L853.3 460.0L854.1 459.6L854.9 459.1L855.7 459.4L856.5 458.7L857.2 458.6L858.0 457.8L858.8 457.7L859.5 457.7L860.3 457.3L861.0 457.3L861.8 456.6L862.5 457.3L863.2 456.9L864.0 456.1L864.8 455.8L865.6 455.9L866.4 455.1L867.2 454.9L868.0 454.4L868.8 454.8L869.6 454.7L870.4 454.2L871.2 453.7L871.9 454.0L872.7 453.3L873.5 453.2L874.2 452.4L875.0 452.0L875.7 451.9L876.5 451.9L877.3 451.5L878.0 451.8L878.8 450.9L879.5 450.8L880.3 450.3L881.0 450.4L881.8 450.0L882.6 449.9L883.3 449.8L884.1 449.1L884.9 448.6L885.6 448.2L886.4 448.7L887.1 447.6L887.9 447.6L888.6 447.3L889.4 447.3L890.1 446.6L890.9 446.1L891.6 445.7L892.4 445.3L893.1 445.7L893.9 444.6L894.6 444.4L895.4 444.4L896.1 444.2L896.9 443.7L897.6 443.5L898.4 443.1L899.1 442.5L899.8 442.4L900.6 442.2L901.3 441.5L902.1 441.4L902.8 440.5L903.6 440.5L904.3 440.1L905.1 440.2L905.8 439.5L906.6 439.0L907.3 438.4L908.1 438.5L908.8 438.1L909.6 438.0L910.3 437.6L911.1 437.2L911.8 436.9L912.6 437.0L913.3 436.4L914.1 436.1L914.8 436.1L915.6 436.0L916.3 435.4L917.1 435.0L917.8 434.9L918.6 434.1L919.3 433.9L920.1 434.1L920.8 433.7L921.6 433.5L922.3 433.1L923.0 432.8L923.8 432.4L924.5 431.8L925.3 432.3L926.0 431.1L926.7 431.4L927.5 431.1L928.2 430.3L928.9 430.5L929.7 429.5L930.4 429.5L931.2 428.7L931.9 428.5L932.7 427.8L933.4 427.9L934.1 427.0L934.9 426.9L935.6 425.8L936.4 425.7L937.1 425.2L937.8 425.2L938.6 424.6L939.3 424.0L940.0 423.6L940.7 423.2L941.4 423.0L942.2 422.1L942.9 422.1L943.6 421.3L944.3 420.8L945.0 420.2L945.6 420.6L946.3 419.8L947.0 419.8L947.8 419.0L948.6 419.6L949.3 418.2L950.0 418.7L950.8 418.2L951.5 418.0L952.2 417.2L952.9 417.4L953.6 417.4L954.3 416.4L955.0 416.6L955.7 416.2L956.4 415.7L957.2 414.9L957.9 415.5L958.7 415.6L959.5 414.3L960.3 414.4L961.1 414.1L962.0 414.3L962.7 414.2L963.3 413.3L964.0 413.6L964.7 413.4L965.4 413.6L966.2 412.9L966.9 411.5L967.6 413.2L968.4 411.8L969.2 412.2L969.9 410.9L970.7 412.3L971.5 411.8L972.3 411.5L973.1 411.2L973.9 411.4L974.7 409.9L975.6 410.3L976.4 410.6L977.2 408.4L978.0 408.9L978.9 410.0L979.7 409.1L980.6 408.9L981.4 410.0L982.2 410.1L983.1 407.6L983.9 407.5L984.8 410.2L985.6 407.6L986.4 409.6L987.3 408.4L988.1 408.5L988.9 407.9L989.8 408.5L990.6 406.4L991.4 407.1L992.2 407.2L993.0 407.0L993.8 408.2L994.6 406.3L995.5 406.7L996.3 408.2L997.2 408.2L998.0 407.0L998.9 406.8L999.8 408.1L1000.7 407.2L1001.5 408.1L1002.4 408.1L1003.3 408.7L1004.2 407.9L1005.0 408.7L1005.9 407.4L1006.8 407.4L1007.7 408.6L1008.5 409.0L1009.4 407.1L1010.2 407.1L1011.1 407.5L1011.9 409.5L1012.8 407.3L1013.6 408.5L1014.4 408.3L1015.2 407.7L1015.9 407.8L1016.7 409.4L1017.5 407.0L1018.2 407.9L1018.9 407.1L1019.6 409.5L1020.3 407.9L1020.9 407.1L1021.6 408.3L1022.2 408.6L1022.8 407.0L1023.7 408.6L1024.6 406.1L1025.4 406.0L1026.1 406.1L1026.8 406.0L1027.5 405.9L1028.2 405.0L1028.8 406.0L1029.5 405.5L1030.1 404.5L1030.9 403.3L1031.6 402.8L1032.4 403.4L1033.3 402.6L1034.0 403.6L1034.7 403.9L1035.4 403.8L1036.2 404.6L1037.0 402.5L1037.9 402.0L1038.8 403.5L1039.6 402.9L1040.6 402.0L1041.5 403.5L1042.4 402.4L1043.3 402.5L1044.3 403.3L1045.2 403.0L1046.1 403.6L1047.1 403.8L1048.0 401.7L1048.9 403.1L1049.8 402.9L1050.6 402.8L1051.4 403.5L1052.3 401.5L1053.0 402.0L1053.8 403.2L1054.5 401.7L1055.1 401.9L1055.7 401.7L1056.3 401.4L1057.1 401.6L1057.8 401.7L1058.4 400.7L1058.9 400.4L1059.4 398.2L1059.9 399.0L1060.4 397.5L1060.9 396.7L1061.4 396.3L1062.0 394.9L1062.6 395.7L1063.1 396.0L1063.6 393.4L1064.2 394.6L1064.7 394.6L1065.3 393.6L1065.9 391.5L1066.5 390.7L1067.1 390.3L1067.7 390.1L1068.3 390.3L1068.9 388.7L1069.6 388.4L1070.2 386.8L1070.9 388.0L1071.6 386.9L1072.3 387.0L1073.0 385.3L1073.7 385.8L1074.5 385.4L1075.2 384.2L1075.8 382.4L1076.5 383.4L1077.1 382.6L1077.8 383.3L1078.5 382.1L1079.2 382.8L1079.9 383.5L1080.6 380.5L1081.4 382.4L1082.1 381.1L1082.8 380.2L1083.6 380.1L1084.4 380.7L1085.1 380.3L1085.9 380.3L1086.7 379.8L1087.4 378.4L1088.2 379.0L1089.0 378.0L1089.8 377.9L1090.6 378.7L1091.4 377.2L1092.2 376.8L1093.0 378.0L1093.7 375.7L1094.5 377.8L1095.3 375.4L1096.1 376.6L1096.9 376.2L1097.7 376.7L1098.6 375.0L1099.4 376.1L1100.3 375.8L1101.2 375.2L1102.0 376.0L1102.9 374.7L1103.8 374.8L1104.7 376.5L1105.6 375.8L1106.5 375.7L1107.4 374.8L1108.3 375.4L1109.2 375.3L1110.1 375.0L1111.0 374.0L1111.8 375.1L1112.7 374.6L1113.5 375.9L1114.3 374.3L1115.1 376.0L1115.8 374.3L1116.6 374.5L1117.3 375.3L1117.9 374.9L1118.6 374.4L1119.2 373.9L1120.1 373.6L1120.9 372.4L1121.6 373.3L1122.2 372.2L1122.8 372.7L1123.4 371.1L1124.0 370.3L1124.6 371.1L1125.2 369.9L1125.9 368.2L1126.7 367.8L1127.5 367.8L1128.1 368.2L1128.7 367.6L1129.4 366.5L1130.1 366.8L1130.9 366.7L1131.6 367.0L1132.4 366.4L1133.2 366.3L1134.0 365.3L1134.9 365.8L1135.7 366.3L1136.6 364.0L1137.5 364.0L1138.3 364.1L1139.2 364.9L1140.0 364.4L1140.9 363.2L1141.8 362.7L1142.6 363.0L1143.4 362.5L1144.2 363.1L1145.0 363.3L1145.8 362.6L1146.5 361.1L1147.2 361.2L1147.9 359.4L1148.5 360.8L1149.3 359.0L1150.0 360.4L1150.7 359.6L1151.3 357.9L1152.0 358.8L1152.6 357.0L1153.2 356.7L1153.8 355.6L1154.4 355.4L1154.9 355.3L1155.5 354.1L1156.0 353.5L1156.6 354.2L1157.2 352.3L1157.8 352.1L1158.4 351.5L1159.0 352.6L1159.7 351.3L1160.3 350.7L1161.0 350.6L1161.6 349.2L1162.3 347.9L1162.9 349.1L1163.6 347.0L1164.2 346.9L1164.9 346.5L1165.6 347.1L1166.3 346.1L1167.0 345.1L1167.8 345.1L1168.6 344.1L1169.4 343.9L1170.0 343.1L1170.6 343.4L1171.2 343.1L1171.9 343.1L1172.6 341.5L1173.2 341.3L1173.9 341.8L1174.6 341.0L1175.3 339.7L1176.0 340.1L1176.8 339.7L1177.5 339.5L1178.2 338.3L1179.0 338.5L1179.7 337.6L1180.5 337.5L1181.3 336.9L1182.0 336.8L1182.8 336.0L1183.6 336.2L1184.3 335.3L1185.1 334.8L1185.9 334.8L1186.6 334.1L1187.4 334.1L1188.2 333.2L1188.9 332.5L1189.7 332.7L1190.4 332.7L1191.2 331.9L1191.9 332.3L1192.7 331.1L1193.5 331.0L1194.2 330.7L1195.0 330.2L1195.8 329.9L1196.5 330.1L1197.3 330.1L1198.1 329.5L1198.9 329.1L1199.6 328.8L1200.4 328.2L1201.2 328.4L1202.0 328.4L1202.8 327.5L1203.5 327.7L1204.3 327.5L1205.1 327.3L1205.9 327.0L1206.6 326.8L1207.4 326.5L1208.2 326.2L1209.0 325.8L1209.8 325.9L1210.5 325.5L1211.3 324.8L1212.1 324.9L1212.8 324.4L1213.6 324.2L1214.3 324.2L1215.1 323.9L1215.8 322.8L1216.6 322.5L1217.3 322.2L1218.0 322.6L1218.8 322.0L1219.5 322.1L1220.3 321.4L1221.0 320.9L1221.8 321.0L1222.5 320.1L1223.3 319.9L1224.0 320.0L1224.8 319.7L1225.5 319.5L1226.3 318.8L1227.0 318.9L1227.8 318.4L1228.5 318.0L1229.3 317.6L1230.0 317.8L1230.8 317.4L1231.5 317.1L1232.3 316.4L1233.1 316.0L1233.9 316.1L1234.6 316.2L1235.4 315.7L1236.2 315.1L1237.1 315.0L1237.9 315.3L1238.7 314.3L1239.5 314.3L1240.3 313.4L1241.1 313.9L1241.9 313.0L1242.8 312.9L1243.6 312.1L1244.4 312.9L1245.2 312.5L1245.9 312.0L1246.7 312.0L1247.5 311.5L1248.3 311.3L1249.0 311.0L1249.7 311.3L1250.5 311.0L1251.2 310.7L1251.9 310.5L1252.5 310.4L1253.2 310.1L1254.1 309.8L1255.0 310.1L1255.8 310.5L1256.6 310.6L1257.4 309.9L1258.2 310.0L1259.0 310.2L1259.8 310.9L1260.5 310.2L1261.3 310.7L1262.1 310.5L1262.9 311.4L1263.7 310.7L1264.5 311.5L1265.3 311.1L1266.2 311.6L1267.1 311.5L1267.9 311.5L1268.8 311.8L1269.7 311.3L1270.5 311.5L1271.4 311.9L1272.2 311.8L1273.1 311.8L1273.9 312.8L1274.7 312.8L1275.5 313.4L1276.2 313.6L1276.8 314.1L1277.3 314.0L1277.9 315.0L1278.4 315.6L1278.9 316.0L1279.4 316.8L1279.9 317.4L1280.4 318.0L1280.9 318.6L1281.3 319.7L1281.8 319.8L1282.2 321.3L1282.7 321.4L1283.1 322.5L1283.6 323.3L1284.0 323.7L1284.4 325.1L1284.9 325.8L1285.3 326.2L1285.8 327.1L1286.2 327.4L1286.7 328.5L1287.3 328.8L1287.8 329.9L1288.4 330.6L1288.9 330.5L1289.5 331.5L1290.1 331.7L1290.6 332.5L1291.2 333.0L1291.7 333.7L1292.3 334.6L1292.8 334.7L1293.4 335.7L1293.9 336.3L1294.5 336.7L1295.1 337.8L1295.6 338.1L1296.1 339.0L1296.6 339.3L1297.1 340.2L1297.6 341.7L1298.2 341.9L1298.7 342.4L1299.2 343.4L1299.7 344.6L1300.3 345.1L1300.8 346.5L1301.3 346.6L1301.8 347.9L1302.4 348.4L1302.9 349.1L1303.4 349.1L1303.9 350.3L1304.5 349.7L1305.0 349.7L1305.5 350.5L1306.0 350.0L1306.5 350.1L1307.0 349.9L1307.5 349.4L1308.0 348.6L1308.5 348.2L1309.0 347.9L1309.5 347.3L1310.0 346.4L1310.5 345.5L1311.0 344.4L1311.5 343.8L1312.0 343.0L1312.5 341.6L1313.0 340.8L1313.5 340.8L1314.0 339.6L1314.5 338.2L1315.0 338.1L1315.5 337.3L1316.0 336.7L1316.5 335.6L1317.0 334.8L1317.6 334.4L1318.1 334.1L1318.6 332.6L1319.1 333.2L1319.6 332.0L1320.1 331.2L1320.7 331.0L1321.2 330.0L1321.7 329.5L1322.2 329.2L1322.8 328.6L1323.3 327.7L1323.8 327.2L1324.3 326.3L1324.9 325.3L1325.4 325.4L1326.0 324.2L1326.5 323.9L1327.1 323.5L1327.7 323.1L1328.3 322.1L1328.9 322.1L1329.5 320.7L1330.1 320.4L1330.8 320.3L1331.4 319.8L1332.0 319.0L1332.6 318.1L1333.2 318.3L1333.9 317.3L1334.5 316.3L1335.1 316.2L1335.7 315.2L1336.4 315.0L1337.0 314.3L1337.7 314.2L1338.4 313.6L1339.0 313.5L1339.7 312.4L1340.4 311.7L1341.1 310.9L1341.7 310.8L1342.4 310.8L1343.1 310.1L1343.8 309.6L1344.5 309.3L1345.2 308.5L1345.9 308.7L1346.7 307.5L1347.4 307.7L1348.1 307.0L1348.7 306.6L1349.4 306.1L1350.1 305.9L1350.7 304.8L1351.4 304.4L1352.1 304.0L1352.8 303.8L1353.5 303.7L1354.2 302.8L1354.9 302.9L1355.6 302.1L1356.3 301.7L1357.0 301.3L1357.8 301.4L1358.5 301.1L1359.2 300.5L1360.0 300.3L1360.7 299.5L1361.4 299.1L1362.1 298.7L1362.7 298.5L1363.4 298.1L1364.1 298.2L1364.8 298.1L1365.5 297.3L1366.3 296.7L1367.0 296.7L1367.7 296.1L1368.4 296.3L1369.2 295.8L1369.9 295.4L1370.7 294.5L1371.4 294.8L1372.2 294.4L1373.0 293.9L1373.8 293.2L1374.6 293.0L1375.4 292.9L1376.2 292.5L1376.9 291.8L1377.5 291.9L1378.2 291.3L1378.9 291.3L1379.6 291.4L1380.3 290.3L1381.0 290.3L1381.7 290.3L1382.5 289.8L1383.2 289.1L1383.9 288.9L1384.7 288.9L1385.4 288.8L1386.2 287.7L1386.9 287.8L1387.7 287.1L1388.5 287.1L1389.2 287.1L1390.0 286.2L1390.8 286.5L1391.6 285.8L1392.3 285.5L1393.1 285.6L1393.9 284.8L1394.7 284.6L1395.4 284.7L1396.2 283.4L1397.0 283.5L1397.8 283.3L1398.6 283.3L1399.3 283.1L1400.1 282.8L1400.9 282.6L1401.6 282.1L1402.4 282.4L1403.2 281.2L1404.0 281.6L1404.8 281.4L1405.6 281.5L1406.4 281.0L1407.2 281.0L1408.1 280.6L1408.9 280.4L1409.7 281.0L1410.5 280.2L1411.3 280.3L1412.1 280.3L1412.9 280.4L1413.8 279.8L1414.6 279.5L1415.4 280.0L1416.2 279.5L1417.0 279.2L1417.9 279.1L1418.7 279.4L1419.5 279.6L1420.3 279.0L1421.1 279.5L1422.0 278.7L1422.8 279.2L1423.6 278.4L1424.4 278.6L1425.2 278.7L1426.0 278.7L1426.9 278.1L1427.7 278.2L1428.5 278.5L1429.3 278.4L1430.1 278.4L1430.9 278.3L1431.7 277.6L1432.5 277.5L1433.3 277.3L1434.1 277.3L1434.8 277.2L1435.6 277.7L1436.4 277.1L1437.2 277.5L1438.0 276.7L1438.8 277.0L1439.6 276.4L1440.4 276.4L1441.2 276.9L1442.0 276.2L1442.8 275.9L1443.6 276.0L1444.4 276.3L1445.2 276.4L1446.0 275.4L1446.8 275.5L1447.6 275.3L1448.3 275.6L1449.1 275.4L1449.9 275.3L1450.7 275.6L1451.5 275.7L1452.3 275.0L1453.1 275.1L1453.9 275.2L1454.7 275.0L1455.5 274.4L1456.3 274.5L1457.2 274.6L1458.0 274.8L1458.8 274.1L1459.6 274.3L1460.4 274.3L1461.2 274.0L1462.1 274.0L1462.9 273.9L1463.7 273.7L1464.5 273.9L1465.3 273.4L1466.2 273.3L1467.0 272.8L1467.8 273.1L1468.6 272.9L1469.4 272.5L1470.3 272.3L1471.1 272.9L1471.9 272.6L1472.7 272.3L1473.5 272.4L1474.3 271.8L1475.2 271.7L1476.0 271.5L1476.8 271.9L1477.6 271.9L1478.4 271.2L1479.3 271.8L1480.1 271.9L1480.9 271.5L1481.7 271.6L1482.5 271.3L1483.4 271.9L1484.2 271.7L1485.0 271.9L1485.8 271.6L1486.6 271.4L1487.4 271.9L1488.3 271.8L1489.1 271.7L1489.9 271.8L1490.7 272.2L1491.5 272.5L1492.4 272.5L1493.2 272.4L1494.0 272.3L1494.8 272.9L1495.6 272.7L1496.5 272.4L1497.3 272.9L1498.1 272.5L1498.9 272.4L1499.7 272.8L1500.6 273.2L1501.4 272.8L1502.2 273.3L1503.0 273.9L1503.8 273.6L1504.6 273.5L1505.5 273.5L1506.3 273.5L1507.1 273.4L1507.9 273.8L1508.7 273.8L1509.5 273.7L1510.4 274.2L1511.2 274.2L1512.0 273.9L1512.8 274.4L1513.6 274.4L1514.5 274.1L1515.3 274.0L1516.1 274.4L1516.9 274.3L1517.7 274.6L1518.5 273.9L1519.4 274.3L1520.2 274.4L1521.0 274.6L1521.8 274.5L1522.6 274.1L1523.4 274.7L1524.3 274.7L1525.1 274.6L1525.9 274.8L1526.7 274.8L1527.5 274.8L1528.3 274.5L1529.1 275.2L1530.0 275.0L1530.8 275.1L1531.6 275.5L1532.4 274.8L1533.2 275.3L1534.0 275.8L1534.8 275.7L1535.6 276.1L1536.4 276.0L1537.2 276.6L1538.0 276.6L1538.8 276.4L1539.6 276.2L1540.4 277.4L1541.2 277.1L1542.0 277.2L1542.8 277.8L1543.6 277.5L1544.4 278.3L1545.2 278.7L1545.9 278.0L1546.7 278.9L1547.5 278.7L1548.3 279.2L1549.1 278.7L1549.9 279.8L1550.7 279.8L1551.5 279.9L1552.3 280.0L1553.1 280.2L1553.9 280.6L1554.7 280.3L1555.5 280.9L1556.2 280.9L1557.0 281.1L1557.8 281.9L1558.6 281.8L1559.4 282.1L1560.2 282.0L1561.0 282.9L1561.7 282.7L1562.5 283.2L1563.3 283.8L1564.1 284.0L1564.9 284.1L1565.7 284.5L1566.5 284.7L1567.3 284.4L1568.1 285.2L1568.9 285.6L1569.7 285.3L1570.5 285.2L1571.3 286.5L1572.1 285.8L1572.9 286.8L1573.7 286.6L1574.5 287.4L1575.3 287.7L1576.1 287.6L1576.8 288.2L1577.6 288.4L1578.4 288.9L1579.1 289.3L1579.9 289.6L1580.6 289.9L1581.4 289.6L1582.1 290.5L1582.8 290.2L1583.5 290.7L1584.2 290.4L1584.9 290.7L1585.6 291.2L1586.5 291.8L1587.3 291.5L1588.2 292.1L1589.0 292.8L1589.8 292.7L1590.6 292.6L1591.4 292.9L1592.1 293.1L1592.9 292.8L1593.7 293.5L1594.4 293.2L1595.2 293.6L1595.9 293.6L1596.7 293.7L1597.4 294.2L1598.2 294.6L1599.0 294.6L1599.7 295.5L1600.5 295.8L1601.3 296.0L1601.8 296.5L1602.4 296.7L1602.9 297.2L1603.5 297.7L1604.0 297.6L1604.6 298.2L1605.1 299.4L1605.7 299.3L1606.3 300.0L1606.8 301.0L1607.4 301.2L1607.9 301.6L1608.5 302.5L1609.1 302.9L1609.7 303.3L1610.2 304.1L1610.8 304.9L1611.4 305.1L1611.9 305.9L1612.5 307.0L1613.1 307.8L1613.6 307.7L1614.2 309.3L1614.8 309.6L1615.3 310.7L1615.9 311.4L1616.4 311.9L1617.0 312.5L1617.5 313.0L1618.1 313.3L1618.6 314.7L1619.1 315.5L1619.6 316.1L1620.2 316.6L1620.7 317.2L1621.2 318.0L1621.7 319.0L1622.2 319.7L1622.7 319.7L1623.2 320.5L1623.6 321.2L1624.1 321.5L1624.6 322.4L1625.0 323.0L1625.6 323.6L1626.1 324.3L1626.7 324.9L1627.2 326.0L1627.7 326.1L1628.2 327.7L1628.7 328.4L1629.2 328.6L1629.7 328.8L1630.1 329.4L1630.6 331.1L1631.0 331.5L1631.5 332.2L1631.9 332.8L1632.4 333.3L1632.8 334.0L1633.3 334.6L1633.7 335.5L1634.2 335.7L1634.7 336.8L1635.1 336.6L1635.6 337.3L1636.1 338.0L1636.6 338.9L1637.1 339.0L1637.6 339.8L1638.2 340.9L1638.7 341.1L1639.3 341.6L1639.9 342.5L1640.5 342.8L1641.1 343.9L1641.7 344.3L1642.4 344.6L1643.0 345.2L1643.6 345.9L1644.2 346.4L1644.9 346.8L1645.5 347.8L1646.1 348.1L1646.7 348.6L1647.3 349.3L1647.9 349.9L1648.4 350.1L1649.0 350.8L1649.5 351.8L1650.0 351.9L1650.5 352.2L1651.0 352.7L1651.6 353.3L1652.1 353.8L1652.7 354.8L1653.2 355.5L1653.7 356.1L1654.1 356.6L1654.6 358.2L1655.0 358.0L1655.4 359.2L1655.9 359.6L1656.3 360.7L1656.8 361.3L1657.2 361.6L1657.7 362.8L1658.1 363.6L1658.5 364.4L1659.0 364.3L1659.4 365.0L1659.8 365.7L1660.3 366.7L1660.7 367.2L1661.1 368.1L1661.5 368.6L1662.0 369.4L1662.4 369.9L1662.8 370.3L1663.2 371.1L1663.6 372.4L1664.0 373.0L1664.4 374.0L1664.8 374.3L1665.2 374.8L1665.5 375.3L1665.8 376.1L1666.0 376.8L1666.3 377.7L1666.5 378.6L1666.8 378.8L1667.1 380.4L1667.3 380.7L1667.6 381.3L1667.8 381.8L1668.0 382.9L1668.3 383.6L1668.5 384.7L1668.7 385.1L1669.0 386.1L1669.2 386.6L1669.4 388.1L1669.7 388.6L1669.9 389.0L1670.1 389.7L1670.3 391.1L1670.5 391.8L1670.8 392.6L1671.0 393.5L1671.2 394.7L1671.4 395.3L1671.6 396.1L1671.8 396.9L1672.1 398.1L1672.3 398.9L1672.5 399.6L1672.7 400.3L1672.9 401.0L1673.1 402.0L1673.2 403.1L1673.4 402.6L1673.6 403.7L1673.8 404.4L1673.9 405.4L1674.1 406.8L1674.3 407.3L1674.4 407.5L1674.6 408.7L1674.8 409.2L1674.9 409.8L1675.1 411.1L1675.3 411.4L1675.4 413.1L1675.6 413.9L1675.8 414.4L1675.9 415.0L1676.1 416.0L1676.2 417.4L1676.4 418.1L1676.6 418.7L1676.7 419.9L1676.9 420.2L1677.0 421.2L1677.2 422.4L1677.4 422.8L1677.5 423.5L1677.7 424.7L1677.8 425.1L1678.0 426.1L1678.1 426.7L1678.3 428.4L1678.4 428.5L1678.6 429.1L1678.7 429.8L1678.9 431.0L1679.0 431.9L1679.2 432.7L1679.3 433.1L1679.5 434.5L1679.6 434.7L1679.8 435.8L1679.9 436.7L1680.1 437.7L1680.2 438.1L1680.4 438.6L1680.5 439.4L1680.7 440.2L1680.9 440.8L1681.1 442.3L1681.2 443.0L1681.4 443.7L1681.6 444.9L1681.7 445.1L1681.9 446.0L1682.0 447.1L1682.2 447.5L1682.4 447.9L1682.5 449.1L1682.7 449.9L1682.8 450.8L1683.0 450.9L1683.2 451.6L1683.3 453.2L1683.5 453.7L1683.6 455.0L1683.8 455.1L1683.9 455.9L1684.1 456.9L1684.2 457.9L1684.4 458.4L1684.5 458.6L1684.7 460.0L1684.8 461.0L1685.0 461.0L1685.1 462.5L1685.3 463.1L1685.4 464.1L1685.6 464.5L1685.7 465.0L1685.8 466.3L1686.0 467.1L1686.1 467.3L1686.2 468.2L1686.4 468.9L1686.5 469.4L1686.6 471.1L1686.7 471.5L1686.9 471.7L1687.0 473.2L1687.1 473.7L1687.2 474.1L1687.3 475.1L1687.5 476.4L1687.6 476.7L1687.7 477.2L1687.8 479.0L1688.0 479.9L1688.1 480.5L1688.2 481.8L1688.3 481.9L1688.5 482.6L1688.6 483.8L1688.7 484.2L1688.8 485.1L1689.0 485.9L1689.1 486.3L1689.3 486.9L1689.4 488.7L1689.5 489.4L1689.7 489.7L1689.8 491.1L1690.0 491.5L1690.1 492.3L1690.3 493.3L1690.5 493.8L1690.6 495.1L1690.8 495.3L1690.9 495.7L1691.1 497.1L1691.3 497.7L1691.4 498.6L1691.6 499.8L1691.8 499.9L1691.9 501.3L1692.1 501.4L1692.3 502.2L1692.5 503.7L1692.6 504.2L1692.8 505.2L1693.0 506.3L1693.2 507.1L1693.4 507.7L1693.6 508.3L1693.7 509.3L1693.9 510.4L1694.1 511.0L1694.3 511.5L1694.5 512.7L1694.7 513.0L1694.9 514.5L1695.1 515.1L1695.3 515.6L1695.5 516.0L1695.7 516.8L1695.8 518.2L1696.0 518.6L1696.2 519.6L1696.4 520.3L1696.6 520.7L1696.8 522.0L1697.0 522.8L1697.2 523.5L1697.4 524.1L1697.6 525.1L1697.8 526.0L1698.0 526.4L1698.2 527.6L1698.5 528.0L1698.7 528.6L1698.9 530.1L1699.1 530.5L1699.3 530.9L1699.6 532.5L1699.8 533.0L1700.0 533.5L1700.2 534.4L1700.4 535.6L1700.7 536.0L1700.9 536.5L1701.1 537.6L1701.3 537.9L1701.6 538.5L1701.8 540.0L1702.0 540.4L1702.3 540.8L1702.5 542.2L1702.7 542.5L1703.0 543.5L1703.2 544.1L1703.5 545.2L1703.7 545.4L1704.0 546.9L1704.2 547.5L1704.5 547.9L1704.8 549.1L1705.0 549.6L1705.3 550.6L1705.5 551.6L1705.7 552.5L1706.0 552.9L1706.2 552.9L1706.4 554.3L1706.7 555.2L1706.9 556.2L1707.1 556.4L1707.4 557.2L1707.6 558.4L1707.9 558.3L1708.1 559.3L1708.3 560.1L1708.6 561.1L1708.8 561.6L1709.1 562.4L1709.3 563.9L1709.6 564.1L1709.9 564.6L1710.1 565.5L1710.4 566.4L1710.6 567.7L1710.9 567.8L1711.2 568.7L1711.4 570.2L1711.7 570.6L1712.0 571.8L1712.2 572.4L1712.5 573.0L1712.8 574.0L1713.0 574.6L1713.3 575.3L1713.6 576.6L1713.8 576.8L1714.1 577.9L1714.4 578.9L1714.6 579.5L1714.9 580.0L1715.2 581.1L1715.5 581.8L1715.7 582.8L1716.0 583.0L1716.3 583.8L1716.5 584.5L1716.8 585.1L1717.1 586.3L1717.4 587.1L1717.6 587.6L1717.9 588.9L1718.2 588.8L1718.5 589.9L1718.8 590.4L1719.1 591.3L1719.4 592.6L1719.7 593.0L1720.0 593.8L1720.3 594.8L1720.6 595.8L1720.9 596.6L1721.3 597.7L1721.6 598.0L1721.9 598.2L1722.2 599.2L1722.5 600.4L1722.8 600.9L1723.1 602.1L1723.4 602.9L1723.8 603.6L1724.1 604.6L1724.4 604.8L1724.7 605.5L1725.0 606.7L1725.3 607.5L1725.6 608.2L1726.0 608.9L1726.3 609.5L1726.6 610.4L1726.9 611.2L1727.2 611.4L1727.6 612.6L1727.9 613.7L1728.2 613.7L1728.5 614.2L1728.8 614.8L1729.1 615.7L1729.5 616.6L1729.8 617.6L1730.1 617.6L1730.4 618.1L1730.8 619.7L1731.2 619.9L1731.6 620.9L1732.0 621.6L1732.3 622.4L1732.7 622.7L1733.1 624.2L1733.5 624.7L1733.9 625.5L1734.2 625.9L1734.6 626.4L1735.0 626.8L1735.4 628.3L1735.8 628.5L1736.2 629.4L1736.5 630.0L1736.9 630.7L1737.4 630.9L1737.8 632.3L1738.2 632.5L1738.6 632.8L1739.0 633.7L1739.5 634.5L1739.9 635.0L1740.4 635.9L1740.8 636.7L1741.3 637.4L1741.7 638.1L1742.2 639.1L1742.6 639.5L1743.1 639.7L1743.6 640.3L1744.0 641.7L1744.5 642.4L1745.0 642.8L1745.5 643.5L1746.0 644.4L1746.5 644.7L1747.0 645.3L1747.5 645.8L1748.0 646.7L1748.6 647.5L1749.1 648.4L1749.6 648.7L1750.1 649.8L1750.6 650.2L1751.1 650.7L1751.6 651.5L1752.1 652.5L1752.6 652.5L1753.1 653.3L1753.6 653.8L1754.1 654.8L1754.6 655.4L1755.0 655.5L1755.5 655.9L1756.1 656.7L1756.8 657.5L1757.4 658.5L1758.0 659.1L1758.6 659.4L1759.2 660.2L1759.8 660.8L1760.5 661.4L1761.1 661.9L1761.7 662.7L1762.3 662.7L1762.9 662.9L1763.5 663.9L1764.2 664.2L1764.8 664.2L1765.5 665.2L1766.3 665.6L1767.1 665.5L1768.0 665.4L1768.8 665.6L1769.7 666.4L1770.6 666.2L1771.5 666.7L1772.3 666.1L1773.2 666.6L1774.0 666.3L1774.8 666.1L1775.5 665.7L1776.2 665.8L1776.8 665.3L1777.4 665.0L1778.0 664.9L1778.6 664.5L1779.2 663.6L1779.7 662.6L1780.3 661.8L1780.8 661.6L1781.4 660.3L1781.9 660.3L1782.4 659.3L1783.0 658.2L1783.5 657.5L1784.0 656.7L1784.6 656.0L1785.1 655.4L1785.6 654.7L1786.1 653.9L1786.6 652.4L1787.1 652.2L1787.6 650.8L1788.1 650.4L1788.6 649.6L1789.1 648.9L1789.6 648.5L1790.1 648.3L1790.6 648.9L1791.0 648.6L1791.5 649.5L1791.9 649.2L1792.3 650.2L1792.7 651.4L1793.2 651.9L1793.6 652.6L1794.0 653.7L1794.4 654.9L1794.8 655.7L1795.2 656.9L1795.7 657.6L1796.1 658.5L1796.5 659.2L1796.9 660.0L1797.3 660.5L1797.7 660.7L1798.1 661.2L1798.7 661.3L1799.4 660.5L1800.0 660.0L1800.7 659.9L1801.3 658.6L1801.9 657.7L1802.5 656.8L1803.1 655.9L1803.2 656.1L1803.3 655.9L1803.4 655.4L1803.6 655.7L1803.7 654.8L1803.8 655.0L1803.9 654.7L1804.0 654.6L1804.1 653.6L1804.2 653.8L1804.3 653.8L1804.4 653.3L1804.5 653.5L1804.7 652.5L1804.8 652.2L1804.9 651.8L1805.0 651.9L1805.1 651.8L1805.2 650.7L1805.3 651.4L1805.4 650.6L1805.5 653.0L1805.6 650.0L1805.7 651.5L1805.8 651.4L1805.9 649.2L1806.0 646.2L1806.1 652.0L1806.2 645.3L1806.3 649.6L1806.4 642.8L1806.4 646.3L1806.5 642.6L1806.6 651.6L1806.7 641.7L1806.8 640.5L1806.9 640.2L1807.0 639.6L1807.1 648.9L1807.2 649.1L1807.3 638.7L1807.4 644.2L1807.5 640.7L1807.6 648.3L1807.7 645.5L1807.7 648.4L1807.8 641.0L1807.9 635.0L1808.0 633.2L1808.1 634.8L1808.2 636.3L1808.3 645.9L1808.4 634.1L1808.5 636.5L1808.6 644.4L1808.7 638.8L1808.7 640.5L1808.8 633.6L1808.9 628.4L1809.0 648.6L1809.1 634.4L1809.2 629.8L1809.3 631.8L1809.4 633.8L1809.5 623.6L1809.6 622.6L1809.7 637.7L1809.8 626.8L1809.8 635.6L1809.9 634.8L1810.0 637.4L1810.1 629.7L1810.2 630.0L1810.3 624.5L1810.4 631.0L1810.5 623.7L1810.6 633.1L1810.7 634.8L1810.8 629.5L1810.9 623.5L1811.0 626.3L1811.1 629.5L1811.1 627.4L1811.2 624.5L1811.3 630.0L1811.4 631.7L1811.5 630.5L1811.6 624.0L1811.7 632.0L1811.8 630.1L1811.9 630.3L1812.0 627.9L1812.1 615.2L1812.2 624.4L1812.2 622.5L1812.3 618.5L1812.4 629.9L1812.5 630.4L1812.6 618.2L1812.7 619.0L1812.8 632.3L1812.9 619.5L1813.0 628.8L1813.1 622.2L1813.2 625.9L1813.2 624.5L1813.3 599.7L1813.4 622.9L1813.5 617.1L1813.6 619.2L1813.7 614.1L1813.8 623.8L1813.9 618.5L1814.0 627.0L1814.1 616.3L1814.2 616.7L1814.2 619.9L1814.3 614.9L1814.4 622.9L1814.5 610.2L1814.6 616.2L1814.7 610.4L1814.8 611.5L1814.9 613.3L1815.0 616.7L1815.1 621.5L1815.1 612.7L1815.2 610.1L1815.3 616.0L1815.4 607.2L1815.5 604.9L1815.6 612.4L1815.7 606.6L1815.8 612.7L1815.9 613.0L1816.0 610.5L1816.0 605.0L1816.1 606.5L1816.2 604.3L1816.3 602.4L1816.4 614.2L1816.5 614.3L1816.6 617.1L1816.7 610.3L1816.7 607.1L1816.8 608.7L1816.9 604.9L1817.0 606.3L1817.1 607.6L1817.2 610.4L1817.3 612.9L1817.3 607.8L1817.4 606.3L1817.5 594.3L1817.6 596.1L1817.7 596.7L1817.8 596.9L1817.9 609.5L1817.9 599.4L1818.0 597.3L1818.1 594.9L1818.2 594.3L1818.3 601.7L1818.3 605.3L1818.4 600.2L1818.5 601.1L1818.6 592.1L1818.6 598.8L1818.7 596.9L1818.8 594.6L1818.9 593.5L1818.9 591.0L1819.0 592.7L1819.1 592.4L1819.2 598.7L1819.2 604.1L1819.3 614.1L1819.4 598.2L1819.4 596.5L1819.5 590.1L1819.6 600.1L1819.7 604.8L1819.7 594.7L1819.8 587.9L1819.9 587.1L1820.0 606.8L1820.0 599.9L1820.1 593.2L1820.2 584.6L1820.2 584.8L1820.3 608.8L1820.4 593.2L1820.5 578.3L1820.5 585.6L1820.6 597.0L1820.7 590.8L1820.7 594.8L1820.8 592.9L1820.9 583.3L1821.0 599.8L1821.0 585.2L1821.1 589.9L1821.2 598.0L1821.2 582.1L1821.3 588.2L1821.4 584.7L1821.5 592.3L1821.5 582.6L1821.6 584.9L1821.7 584.3L1821.7 579.6L1821.8 594.1L1821.9 597.9L1821.9 583.8L1822.0 586.0L1822.1 579.5L1822.2 582.6L1822.2 579.2L1822.3 575.8L1822.4 585.8L1822.4 578.5L1822.5 591.1L1822.6 575.2L1822.6 588.3L1822.7 567.4L1822.8 587.2L1822.8 576.2L1822.9 574.9L1823.0 578.5L1823.0 582.5L1823.1 581.9L1823.2 583.5L1823.2 571.6L1823.3 579.2L1823.4 582.3L1823.4 583.1L1823.5 572.1L1823.6 568.6L1823.6 571.1L1823.7 576.4L1823.8 579.7L1823.8 577.7L1823.9 566.3L1824.0 573.5L1824.0 574.0L1824.1 562.8L1824.2 580.6L1824.2 574.1L1824.3 571.5L1824.4 578.8L1824.4 576.0L1824.5 570.8L1824.6 584.1L1824.6 565.0L1824.7 569.3L1824.8 560.8L1824.8 559.9L1824.9 559.6L1824.9 576.9L1825.0 565.0L1825.1 564.4L1825.1 557.6L1825.2 569.6L1825.3 570.1L1825.3 567.8L1825.4 556.2L1825.5 556.2L1825.5 564.6L1825.6 563.3L1825.6 560.4L1825.7 558.2L1825.8 567.6L1825.9 558.6L1825.9 560.1L1826.0 564.9L1826.1 561.0L1826.2 564.6L1826.2 565.6L1826.3 562.1L1826.4 561.5L1826.5 562.8L1826.5 549.9L1826.6 568.5L1826.7 550.1L1826.7 546.8L1826.8 552.1L1826.9 552.8L1827.0 554.6L1827.0 558.2L1827.1 562.7L1827.2 548.8L1827.3 558.2L1827.3 564.5L1827.4 555.4L1827.5 554.6L1827.6 559.2L1827.6 553.6L1827.7 548.1L1827.8 564.6L1827.8 559.0L1827.9 546.6L1828.0 556.4L1828.1 552.4L1828.1 545.8L1828.2 549.9L1828.3 543.6L1828.3 543.3L1828.4 543.7L1828.5 552.8L1828.5 545.8L1828.6 549.3L1828.7 551.9L1828.7 554.3L1828.8 546.1L1828.9 550.3L1829.0 541.5L1829.0 548.5L1829.1 545.6L1829.2 549.1L1829.2 539.0L1829.3 549.0L1829.3 545.0L1829.4 551.5L1829.5 541.6L1829.5 551.9L1829.6 536.0L1829.7 537.2L1829.7 540.2L1829.8 545.8L1829.9 529.9L1829.9 538.1L1830.0 547.1L1830.0 540.0L1830.1 549.0L1830.2 539.5L1830.2 548.2L1830.3 536.8L1830.4 532.0L1830.4 543.9L1830.5 545.5L1830.5 533.9L1830.6 539.6L1830.6 541.9L1830.7 537.8L1830.8 543.4L1830.8 535.3L1830.9 534.2L1830.9 534.9L1831.0 536.6L1831.1 535.5L1831.1 535.7L1831.2 537.0L1831.2 532.1L1831.3 535.1L1831.4 536.8L1831.4 543.7L1831.5 532.2L1831.5 538.3L1831.6 536.9L1831.7 526.7L1831.7 538.3L1831.8 523.1L1831.9 535.6L1831.9 530.1L1832.0 536.3L1832.0 531.7L1832.1 537.0L1832.2 529.4L1832.2 530.9L1832.3 531.7L1832.3 525.7L1832.4 522.8L1832.5 535.8L1832.5 527.2L1832.6 515.6L1832.6 512.1L1832.7 530.0L1832.8 527.0L1832.8 513.7L1832.9 525.4L1832.9 524.9L1833.0 528.1L1833.0 528.6L1833.1 519.9L1833.1 522.4L1833.2 513.5L1833.2 523.3L1833.3 514.1L1833.3 500.2L1833.4 515.1L1833.4 520.3L1833.5 515.4L1833.5 527.0L1833.5 515.2L1833.6 515.1L1833.6 518.9L1833.6 516.7L1833.7 512.5L1833.7 511.0L1833.7 520.6L1833.8 519.1L1833.8 523.9L1833.8 507.0L1833.9 517.5L1833.9 515.9L1833.9 511.5L1833.9 515.5L1833.9 508.7L1833.9 512.3L1834.0 515.6L1834.0 509.9L1834.0 508.3L1834.0 516.5L1834.0 513.1L1834.0 513.1L1834.0 513.1" stroke="#1059d9" stroke-width="4.0"/>
<path d="M186.0 195.5L186.4 195.4L187.3 194.0L188.4 197.3L188.9 194.6L189.6 196.3L190.2 193.5L191.0 197.4L191.8 192.9L192.6 194.5L193.4 193.1L194.3 189.7L195.3 194.5L196.2 193.5L197.2 196.8L198.1 195.3L199.1 196.4L200.1 189.7L201.0 195.1L201.7 197.9L202.4 197.4L203.2 193.5L203.9 194.1L204.7 196.3L205.5 195.4L206.3 192.0L207.0 197.2L207.8 197.6L208.7 197.7L209.5 194.3L210.3 200.0L211.1 197.7L211.9 198.4L212.8 199.5L213.6 198.8L214.5 198.8L215.3 198.3L216.1 194.2L217.0 194.8L217.8 189.2L218.6 199.3L219.5 196.7L220.3 196.0L221.1 201.3L221.9 199.1L222.7 197.4L223.5 197.0L224.3 202.8L225.1 197.3L225.9 199.2L226.7 199.5L227.5 197.8L228.3 200.3L229.1 200.1L229.9 196.5L230.7 201.6L231.5 201.6L232.3 195.1L233.1 197.2L233.9 195.0L234.8 201.7L235.6 197.2L236.4 199.7L237.2 200.4L238.0 198.4L238.8 197.9L239.6 199.7L240.4 197.4L241.2 202.1L242.0 200.1L242.8 202.4L243.6 198.7L244.4 197.6L245.2 197.3L246.0 198.9L246.8 200.8L247.6 199.9L248.5 201.8L249.3 200.7L250.1 199.7L250.9 198.3L251.7 200.1L252.5 198.8L253.3 197.9L253.6 212.9L253.9 197.9L254.1 193.9L254.9 202.3L255.7 196.0L256.5 201.9L257.3 202.6L258.1 198.6L259.0 202.7L259.8 201.5L260.6 198.4L261.4 200.1L262.2 198.1L263.0 200.0L263.8 198.7L264.6 199.0L265.4 196.8L266.2 197.9L267.0 202.7L267.9 199.9L268.7 198.7L269.5 197.5L270.3 200.5L270.6 207.5L270.9 200.5L271.1 196.7L271.9 198.2L272.8 196.0L273.6 202.9L274.4 201.9L275.2 200.9L276.0 202.1L276.8 207.1L277.6 202.6L278.4 198.1L279.2 196.6L280.0 201.1L280.8 201.4L281.6 198.2L282.4 204.0L283.2 195.6L283.9 206.6L284.7 199.4L285.5 197.7L286.4 198.3L287.3 198.8L288.1 203.2L289.0 197.7L289.9 202.1L290.7 200.1L291.6 202.8L292.4 202.4L293.3 199.8L294.1 197.8L295.0 197.3L295.8 196.5L296.6 199.6L297.3 203.1L298.1 201.0L298.8 199.6L299.5 201.9L300.2 199.3L300.9 204.6L301.5 203.4L302.2 204.8L302.8 205.8L303.4 204.0L303.9 205.9L304.4 200.7L304.8 206.8L305.3 201.9L305.7 200.1L306.1 210.3L306.5 207.0L307.0 205.7L307.5 211.4L308.0 211.3L308.5 208.1L309.1 208.2L309.8 211.7L310.4 215.2L311.1 213.2L311.7 218.2L312.5 216.5L313.2 213.1L314.0 212.6L314.8 209.7L315.6 215.3L316.4 218.0L317.2 218.2L318.1 219.4L318.4 211.4L318.7 219.4L318.9 217.2L319.7 215.7L320.6 213.6L321.4 219.7L322.2 218.0L323.0 221.1L323.8 214.7L324.5 216.6L325.3 226.9L325.9 218.9L326.6 218.9L327.6 214.7L328.5 219.6L329.3 214.8L330.2 216.9L331.0 220.8L331.8 218.9L332.6 215.7L333.4 217.5L334.2 216.0L335.0 222.7L335.7 221.1L336.4 218.5L337.1 221.0L337.8 221.7L338.5 218.8L339.1 216.9L339.4 210.9L339.7 216.9L339.8 212.8L340.5 214.3L341.2 214.0L341.9 217.2L342.6 214.1L343.4 213.7L343.9 211.6L344.5 214.2L345.1 218.9L345.7 218.9L346.3 215.9L346.9 220.4L347.5 215.2L348.1 215.6L348.7 217.4L349.4 217.2L350.0 223.6L350.6 223.5L351.3 217.8L351.9 223.8L352.5 219.9L353.2 224.7L353.8 224.1L354.4 223.3L355.0 227.8L355.6 227.8L356.2 227.6L356.8 225.6L357.4 226.5L358.0 227.4L358.7 232.2L359.4 232.1L360.0 232.3L360.7 230.7L361.4 227.5L362.0 229.9L362.7 229.7L363.3 229.2L364.0 235.3L364.6 232.1L365.2 229.0L365.9 235.9L366.5 237.2L367.2 235.1L367.8 232.5L368.5 238.0L369.1 241.0L369.6 236.9L370.2 236.6L370.7 237.7L371.3 237.7L371.8 245.6L372.4 243.4L372.9 242.0L373.5 237.8L374.1 244.2L374.6 235.5L375.2 239.5L375.8 242.9L376.3 245.5L376.9 251.7L377.5 249.6L378.0 242.3L378.6 249.7L379.2 248.3L379.8 250.1L380.4 252.5L381.0 251.0L381.7 254.1L382.3 247.9L383.0 251.3L383.7 253.1L384.4 250.4L385.1 250.5L385.8 246.9L386.4 252.9L387.1 255.9L387.8 253.2L388.6 258.4L389.3 256.7L390.0 252.2L390.7 252.9L391.4 265.3L392.1 250.2L392.9 257.1L393.6 255.8L394.2 256.0L394.8 254.1L395.4 263.3L396.1 258.6L396.7 255.3L397.3 263.8L397.9 260.2L398.6 260.5L399.2 263.0L399.8 262.0L400.5 262.0L401.1 261.2L401.7 263.4L402.4 260.7L403.0 263.2L403.7 266.6L404.3 265.0L405.0 265.8L405.7 265.2L406.3 264.8L407.0 268.9L407.7 267.6L408.3 267.6L409.0 268.1L409.7 268.8L410.4 270.3L411.0 271.2L411.7 270.4L412.3 271.3L413.0 271.0L413.6 271.8L414.3 272.2L414.9 273.2L415.6 273.5L416.3 272.6L416.9 273.3L417.6 275.2L418.3 275.7L418.9 274.6L419.6 276.4L420.3 276.9L421.0 277.5L421.7 277.2L422.4 277.7L423.0 278.6L423.7 278.7L424.4 279.6L425.1 279.3L425.8 279.7L426.5 279.4L427.2 280.2L427.9 280.4L428.6 280.8L429.2 282.3L429.9 282.2L430.6 282.5L431.3 282.8L432.0 283.1L432.7 283.6L433.5 284.5L434.2 284.6L435.0 285.1L435.7 285.0L436.5 286.5L437.3 287.0L438.0 286.8L438.8 287.2L439.6 287.5L440.3 287.4L441.1 288.6L441.9 289.2L442.6 289.6L443.4 290.2L444.1 289.6L444.9 290.3L445.6 290.6L446.3 291.7L447.0 291.8L447.7 292.3L448.4 292.0L449.1 292.6L449.8 292.4L450.4 293.0L451.1 293.6L451.7 294.0L452.3 294.2L453.1 295.2L453.9 295.1L454.6 296.2L455.3 296.5L455.9 297.3L456.6 297.8L457.3 298.0L457.9 297.9L458.5 298.8L459.2 299.0L459.8 299.2L460.5 300.3L461.2 300.5L461.9 300.3L462.7 300.4L463.4 301.0L464.2 301.0L464.9 301.5L465.7 301.2L466.5 302.3L467.3 302.5L468.1 302.5L468.9 302.0L469.8 302.6L470.6 303.7L471.5 303.0L472.3 303.7L473.1 303.7L474.0 303.2L474.8 303.4L475.7 303.2L476.6 304.0L477.4 304.3L478.2 304.6L479.0 304.6L479.8 304.3L480.6 304.6L481.4 304.8L482.3 304.8L483.1 304.8L483.9 304.3L484.7 305.2L485.6 304.5L486.4 304.7L487.2 305.1L488.1 306.0L488.9 305.7L489.8 305.5L490.6 305.2L491.5 305.5L492.3 305.6L493.2 306.4L494.1 305.6L494.9 305.8L495.6 306.4L496.4 305.6L497.2 305.6L498.0 306.0L498.8 305.9L499.6 305.1L500.4 306.1L501.2 305.9L502.0 305.6L502.8 306.6L503.6 305.3L504.5 306.0L505.3 305.3L506.1 305.4L506.9 306.1L507.7 305.4L508.6 305.3L509.4 305.9L510.2 305.1L511.0 305.8L511.8 306.2L512.7 305.4L513.5 305.3L514.3 305.3L515.1 305.9L515.9 305.2L516.7 305.7L517.5 306.3L518.3 305.1L519.1 306.3L519.9 306.3L520.7 305.4L521.5 306.8L522.3 306.3L523.1 306.1L523.9 307.1L524.7 307.0L525.5 306.7L526.4 306.5L527.2 306.5L528.0 306.8L528.8 306.5L529.6 306.5L530.4 306.9L531.2 306.6L532.0 306.9L532.8 307.6L533.6 307.7L534.4 306.9L535.2 307.5L536.0 307.7L536.8 307.1L537.6 307.0L538.4 306.9L539.2 307.1L540.0 307.8L540.8 307.3L541.7 308.0L542.5 307.5L543.3 307.0L544.1 307.0L544.9 307.3L545.7 307.5L546.5 307.2L547.3 307.2L548.1 306.9L548.9 307.5L549.7 307.3L550.5 307.4L551.4 307.1L552.2 308.0L553.0 307.3L553.8 307.5L554.6 307.3L555.4 306.8L556.2 307.2L557.0 307.6L557.8 307.5L558.6 306.7L559.4 306.9L560.3 306.5L561.1 306.8L561.9 306.7L562.8 306.7L563.6 307.0L564.4 307.1L565.3 306.5L566.1 306.2L567.0 306.0L567.8 305.8L568.6 305.7L569.4 306.5L570.2 306.3L571.1 306.2L571.9 305.3L572.7 304.9L573.4 305.1L574.2 305.5L575.0 305.1L575.7 305.2L576.5 305.4L577.2 305.2L577.9 305.3L578.8 304.1L579.7 303.9L580.5 304.1L581.3 303.9L582.1 304.1L582.9 303.8L583.7 302.5L584.4 303.4L585.2 302.7L585.9 302.9L586.7 302.2L587.5 302.0L588.3 302.3L589.2 302.0L590.0 301.6L590.9 300.9L591.6 300.2L592.3 301.0L593.0 300.3L593.7 300.7L594.5 300.3L595.2 300.1L596.0 299.0L596.8 299.2L597.5 299.0L598.3 298.9L599.1 298.5L599.9 298.1L600.7 298.5L601.5 297.6L602.3 297.5L603.1 297.4L603.9 297.0L604.7 296.2L605.5 296.9L606.3 295.9L607.1 296.3L607.9 295.6L608.7 295.9L609.5 294.9L610.3 294.4L611.1 294.4L611.9 295.2L612.7 294.1L613.5 294.3L614.3 294.7L615.1 293.9L615.9 293.2L616.7 293.8L617.5 293.1L618.3 293.0L619.1 293.0L619.9 293.1L620.7 292.2L621.5 292.5L622.3 291.8L623.2 291.9L624.0 291.8L624.8 292.3L625.6 291.8L626.4 291.6L627.2 291.4L628.0 290.6L628.8 290.9L629.6 290.6L630.4 290.7L631.2 290.1L632.0 289.6L632.8 289.3L633.6 288.9L634.4 288.7L635.2 288.5L635.9 289.1L636.7 288.4L637.5 287.7L638.3 288.9L639.1 287.1L639.9 287.1L640.7 287.5L641.5 286.5L642.3 286.7L643.1 286.1L643.9 286.3L644.7 285.8L645.4 285.3L646.2 285.6L647.0 285.6L647.8 285.1L648.5 284.3L649.3 284.5L650.1 283.9L650.8 284.3L651.6 283.8L652.3 284.0L653.1 283.3L653.8 283.0L654.6 282.7L655.4 282.5L656.2 282.1L657.1 282.1L657.9 281.6L658.7 281.7L659.5 280.7L660.3 280.7L661.1 280.6L661.9 280.9L662.7 280.6L663.5 280.3L664.3 279.3L665.0 279.2L665.8 279.3L666.5 278.2L667.2 277.9L667.9 277.5L668.6 278.4L669.2 278.0L669.9 276.8L670.5 277.3L671.3 276.5L672.0 276.2L672.7 275.7L673.3 275.0L673.9 274.3L674.5 273.4L675.1 272.8L675.7 271.9L676.3 271.2L676.9 270.9L677.5 270.5L678.2 270.1L678.9 269.3L679.6 269.0L680.3 269.2L681.1 267.9L681.9 268.1L682.7 268.4L683.5 267.9L684.3 267.9L685.1 267.5L685.9 267.2L686.7 266.9L687.4 266.0L688.1 266.3L688.8 266.0L689.4 265.4L689.9 265.3L690.4 264.0L690.8 262.7L691.2 262.2L691.5 262.4L691.9 260.3L692.2 259.4L692.5 258.2L692.8 257.4L693.1 256.6L693.4 255.8L693.7 255.3L694.0 254.7L694.3 253.7L694.6 253.7L695.0 252.8L695.3 251.9L695.7 251.3L696.5 251.3L697.2 250.3L698.0 251.3L698.9 251.2L699.8 250.2L700.5 250.1L701.1 250.6L701.9 251.5L702.6 252.1L703.3 251.8L704.1 253.4L704.9 253.9L705.7 253.4L706.5 254.2L707.4 254.4L708.2 254.5L709.0 254.5L709.8 255.4L710.6 255.5L711.4 255.2L712.3 255.4L713.1 255.8L714.0 255.8L714.8 256.1L715.6 255.7L716.4 256.1L717.2 255.8L718.0 255.5L718.7 255.2L719.6 254.8L720.5 254.3L721.3 254.9L722.1 253.8L722.8 253.7L723.6 253.1L724.3 253.3L725.0 252.4L725.5 252.0L726.0 251.8L726.5 250.9L727.0 250.2L727.4 249.1L727.8 248.7L728.2 247.0L728.7 246.8L729.2 246.4L729.7 245.8L730.2 245.0L730.8 245.0L731.3 245.4L731.9 246.3L732.5 246.2L733.1 247.5L733.7 247.8L734.4 248.2L735.1 248.5L735.8 249.4L736.6 250.8L737.5 250.2L738.1 250.9L738.7 251.0L739.4 251.0L740.1 251.2L740.8 251.0L741.5 251.1L742.3 250.9L743.1 250.9L743.9 250.8L744.7 250.8L745.6 251.0L746.4 251.1L747.3 250.2L748.2 251.2L749.0 251.1L749.9 250.9L750.8 249.7L751.7 250.3L752.6 249.9L753.4 250.1L754.3 249.7L755.2 249.9L756.0 250.3L756.9 250.1L757.7 249.6L758.5 249.6L759.3 249.7L760.1 249.9L760.9 249.0L761.7 248.8L762.5 248.5L763.3 248.7L764.1 248.5L764.9 247.3L765.7 247.8L766.6 247.4L767.4 247.4L768.2 247.3L769.0 246.7L769.8 246.4L770.6 246.9L771.4 245.9L772.2 246.7L773.0 245.5L773.8 245.8L774.6 244.6L775.4 245.4L776.2 245.5L777.0 244.6L777.8 243.8L778.6 244.7L779.4 243.9L780.2 244.4L781.0 244.2L781.8 244.2L782.6 243.8L783.4 243.7L784.2 242.9L785.0 244.2L785.8 243.7L786.6 243.4L787.5 242.8L788.3 243.1L789.1 242.9L789.9 243.7L790.7 242.6L791.5 243.4L792.3 242.8L793.1 242.6L793.9 242.8L794.7 243.0L795.6 242.1L796.4 242.5L797.2 243.0L798.0 242.1L798.8 243.2L799.6 242.7L800.4 242.4L801.2 242.4L802.0 242.0L802.8 242.2L803.6 241.2L804.4 241.4L805.2 241.5L806.0 241.0L806.8 241.7L807.6 241.7L808.4 241.4L809.2 240.6L810.0 240.7L810.8 239.9L811.7 240.9L812.5 240.5L813.3 240.6L814.1 239.9L814.9 240.1L815.7 239.3L816.5 239.3L817.3 239.9L818.1 239.4L818.9 239.9L819.7 239.4L820.5 239.1L821.3 239.1L822.1 238.5L823.0 238.6L823.8 238.9L824.7 238.9L825.6 238.9L826.5 239.2L827.4 239.0L828.3 239.4L829.2 239.1L830.1 238.7L831.0 238.8L831.9 239.7L832.8 239.2L833.7 239.3L834.6 239.4L835.4 239.1L836.3 239.1L837.1 239.1L837.8 239.4L838.6 240.1L839.3 239.3L840.0 240.2L840.6 240.1L841.2 239.9L841.8 240.7L842.3 240.0L843.3 241.0L844.0 241.3L844.6 242.1L845.3 242.2L846.4 242.5L846.8 242.3L847.3 242.4L847.8 242.8L848.3 243.2L848.9 242.1L849.5 242.9L850.2 243.4L850.8 242.5L851.6 242.7L852.3 243.2L853.1 243.7L853.9 242.7L854.7 244.0L855.5 243.1L856.4 243.4L857.3 243.1L858.2 243.6L859.1 242.7L860.0 243.2L861.0 243.4L861.9 243.4L862.9 243.3L863.8 243.5L864.8 243.0L865.8 243.8L866.8 243.3L867.7 243.6L868.7 242.8L869.6 244.0L870.6 242.7L871.5 243.7L872.5 243.8L873.4 243.6L874.3 242.7L875.2 243.5L876.1 243.2L877.0 243.3L877.8 242.9L878.6 243.0L879.4 242.9L880.2 242.5L880.9 242.2L881.6 242.6L882.3 242.7L882.9 242.1L883.5 241.5L884.1 242.3L885.1 242.4L886.0 241.9L886.9 241.7L887.6 241.7L888.4 241.4L889.1 240.7L889.7 240.9L890.4 239.8L891.2 239.4L891.9 239.3L892.7 239.6L893.6 239.0L894.6 239.8L895.2 238.7L895.8 238.5L896.5 238.7L897.2 238.6L897.9 238.5L898.7 239.0L899.4 238.6L900.2 238.0L901.0 238.9L901.8 238.0L902.7 238.2L903.6 238.8L904.4 237.7L905.3 238.3L906.2 238.2L907.1 238.6L908.0 238.8L908.9 238.5L909.8 238.7L910.7 239.4L911.7 238.7L912.6 238.8L913.5 238.6L914.4 239.0L915.3 239.0L916.1 239.2L917.0 239.1L917.9 238.9L918.7 238.7L919.6 238.7L920.4 238.6L921.2 239.7L921.9 239.2L922.7 239.5L923.4 238.9L924.1 239.5L924.8 239.5L925.4 238.9L926.0 239.1L927.0 239.1L927.9 238.6L928.7 237.6L929.5 238.3L930.3 238.7L931.0 238.1L931.7 238.0L932.4 237.6L933.1 237.8L933.9 237.1L934.7 237.2L935.6 237.4L936.5 236.6L937.2 236.2L937.8 237.2L938.5 236.6L939.3 236.5L940.0 236.4L940.8 236.2L941.6 236.1L942.3 236.9L943.1 236.3L944.0 236.6L944.8 236.0L945.6 236.8L946.5 236.0L947.3 236.5L948.2 236.4L949.0 236.2L949.9 236.5L950.8 236.3L951.6 236.0L952.5 236.5L953.4 235.9L954.2 236.4L955.1 236.4L955.9 236.1L956.8 236.3L957.6 235.5L958.4 235.8L959.2 235.5L960.0 235.8L960.8 234.7L961.7 235.3L962.5 234.8L963.3 235.2L964.1 234.8L964.9 234.5L965.7 234.2L966.5 234.6L967.3 234.6L968.1 234.4L968.9 233.8L969.7 233.6L970.5 234.0L971.3 232.9L972.1 233.6L972.9 233.4L973.7 233.3L974.5 232.4L975.3 233.0L976.1 231.7L976.9 232.7L977.7 233.4L978.5 233.0L979.3 232.0L980.1 231.6L980.9 231.8L981.7 231.2L982.5 232.2L983.3 233.1L984.1 231.7L984.9 230.2L985.7 232.1L986.5 232.0L987.4 232.9L988.2 231.3L989.0 230.3L989.8 231.0L990.6 231.0L991.4 230.0L992.2 232.4L993.0 232.3L993.8 231.7L994.6 232.8L995.4 230.6L996.3 232.3L997.1 231.8L997.9 233.1L998.7 229.8L999.5 232.0L1000.3 231.1L1001.1 230.6L1001.9 232.2L1002.7 230.8L1003.5 232.3L1004.3 232.0L1005.1 230.4L1005.9 232.2L1006.7 232.5L1007.5 233.8L1008.3 231.4L1009.1 233.9L1009.9 231.3L1010.7 234.0L1011.6 232.9L1012.4 231.7L1013.2 234.8L1014.0 233.2L1014.8 233.8L1015.6 233.9L1016.4 233.2L1017.2 233.1L1018.0 234.8L1018.8 234.8L1019.6 233.2L1020.4 235.6L1021.2 236.8L1022.0 233.8L1022.8 234.9L1023.6 234.3L1024.4 235.7L1025.2 236.2L1026.1 233.8L1026.9 234.2L1027.7 233.6L1028.5 235.2L1029.3 232.5L1030.2 235.1L1031.0 233.3L1031.8 234.5L1032.6 234.6L1033.4 234.1L1034.3 234.2L1035.1 233.0L1035.9 233.2L1036.7 232.8L1037.5 233.0L1038.3 232.1L1039.1 231.0L1039.9 232.4L1040.7 231.2L1041.5 231.6L1042.3 233.2L1043.0 231.2L1043.8 231.0L1044.7 230.4L1045.5 231.9L1046.4 231.2L1047.3 233.2L1048.1 232.6L1049.0 231.0L1049.8 232.7L1050.7 231.2L1051.5 233.3L1052.3 230.2L1053.2 231.0L1054.0 230.3L1054.8 234.7L1055.6 231.8L1056.5 231.5L1057.3 232.2L1058.1 230.8L1058.9 234.0L1059.7 231.2L1060.5 232.3L1061.3 230.7L1062.2 232.2L1062.9 233.0L1063.7 230.3L1064.5 232.2L1065.3 229.3L1066.0 229.4L1066.8 231.5L1067.6 229.2L1068.3 229.9L1069.1 230.6L1069.9 228.8L1070.7 228.8L1071.6 228.9L1072.4 228.2L1073.3 229.5L1074.2 229.6L1075.2 228.4L1075.9 230.2L1076.5 226.1L1077.2 229.1L1078.0 229.0L1078.7 229.3L1079.4 229.0L1080.2 226.9L1081.0 226.3L1081.8 226.6L1082.6 227.8L1083.4 228.6L1084.2 229.4L1085.0 227.3L1085.9 228.1L1086.7 227.7L1087.5 225.5L1088.4 227.8L1089.3 226.6L1090.1 226.4L1091.0 227.9L1091.8 226.8L1092.7 227.7L1093.6 227.3L1094.4 227.7L1095.3 226.6L1096.2 227.3L1097.0 225.4L1097.9 226.4L1098.7 226.2L1099.5 227.8L1100.4 228.0L1101.2 226.0L1102.0 226.1L1102.8 228.3L1103.6 225.4L1104.4 226.7L1105.1 227.4L1105.9 227.7L1106.6 226.4L1107.5 224.6L1108.3 224.7L1109.2 226.5L1110.0 226.9L1110.9 226.8L1111.7 224.0L1112.5 225.1L1113.3 226.0L1114.1 224.6L1114.9 226.3L1115.7 225.7L1116.5 224.8L1117.3 226.0L1118.1 226.3L1118.9 223.8L1119.7 225.6L1120.4 223.5L1121.2 226.1L1122.0 224.5L1122.8 223.9L1123.5 225.0L1124.3 225.3L1125.1 223.5L1125.9 225.2L1126.7 223.4L1127.5 225.7L1128.3 226.5L1129.1 224.8L1129.9 224.2L1130.7 224.0L1131.5 223.9L1132.3 223.7L1133.2 222.0L1134.0 223.9L1134.8 225.0L1135.6 222.7L1136.4 224.0L1137.2 223.1L1138.0 225.2L1138.8 225.5L1139.6 223.7L1140.4 224.2L1141.2 222.6L1142.0 223.6L1142.8 224.4L1143.7 223.5L1144.5 223.4L1145.3 224.6L1146.1 221.9L1146.9 223.8L1147.7 220.0L1148.5 221.7L1149.3 222.3L1150.1 222.4L1150.9 220.4L1151.7 223.0L1152.5 222.0L1153.3 221.4L1154.1 221.2L1154.9 222.6L1155.7 222.1L1156.5 221.3L1157.3 221.5L1158.2 220.5L1159.0 222.2L1159.8 222.1L1160.6 222.0L1161.4 219.8L1162.2 222.3L1163.0 221.3L1163.8 219.1L1164.6 221.0L1165.4 222.1L1166.2 223.5L1167.0 221.3L1167.8 219.6L1168.6 218.1L1169.4 221.5L1170.2 221.4L1171.0 219.5L1171.8 218.9L1172.6 219.6L1173.4 220.7L1174.2 220.7L1175.1 219.8L1175.9 218.4L1176.7 217.4L1177.5 218.0L1178.3 217.8L1179.1 217.7L1179.9 217.2L1180.7 217.3L1181.5 219.7L1182.3 219.1L1183.1 216.8L1183.9 218.6L1184.7 218.9L1185.6 218.4L1186.4 216.8L1187.2 217.6L1188.0 216.3L1188.8 217.8L1189.6 218.2L1190.4 216.6L1191.2 217.5L1192.0 215.4L1192.8 215.5L1193.6 217.0L1194.4 216.5L1195.2 217.7L1196.0 216.1L1196.8 216.3L1197.6 215.9L1198.4 216.0L1199.2 214.7L1200.0 220.0L1200.8 217.3L1201.6 215.0L1202.4 215.5L1203.3 215.4L1204.1 216.6L1204.9 214.7L1205.7 214.6L1206.5 215.2L1207.3 215.3L1208.1 214.2L1208.9 215.4L1209.7 215.6L1210.5 212.2L1211.3 215.7L1212.1 216.5L1212.9 215.8L1213.7 216.0L1214.6 213.5L1215.4 216.2L1216.2 214.4L1217.0 215.0L1217.8 215.4L1218.7 213.8L1219.5 215.9L1220.3 214.4L1221.1 216.0L1222.0 213.8L1222.8 215.9L1223.6 215.0L1224.4 215.4L1225.2 214.2L1226.0 214.4L1226.8 213.3L1227.6 214.5L1228.4 214.6L1229.2 214.2L1230.0 214.8L1230.8 215.0L1231.5 214.7L1232.3 215.0L1233.1 215.6L1234.0 214.6L1234.8 213.9L1235.6 213.7L1236.3 214.1L1237.1 214.1L1237.9 213.3L1238.7 213.9L1239.4 216.4L1240.2 216.2L1240.9 217.6L1241.7 215.5L1242.5 217.4L1243.2 216.9L1244.0 216.4L1244.8 217.0L1245.6 215.2L1246.4 216.0L1247.3 218.0L1248.1 217.2L1249.0 214.8L1249.7 217.4L1250.5 217.6L1251.3 216.7L1252.0 218.2L1252.8 218.5L1253.7 219.1L1254.5 216.7L1255.3 216.2L1256.2 218.4L1257.0 218.6L1257.9 218.0L1258.7 216.6L1259.6 214.6L1260.5 217.8L1261.3 218.7L1262.2 217.7L1263.1 219.2L1263.9 218.2L1264.8 217.2L1265.6 218.5L1266.5 215.7L1267.3 218.7L1268.1 219.7L1268.9 219.8L1269.7 217.7L1270.5 218.8L1271.3 219.0L1272.0 216.7L1272.7 218.8L1273.4 219.5L1274.1 217.9L1275.0 219.7L1275.9 218.7L1276.7 219.3L1277.5 219.1L1278.3 222.1L1279.1 217.8L1279.8 218.4L1280.6 220.1L1281.3 220.5L1282.1 218.4L1282.8 219.4L1283.5 220.6L1284.3 220.6L1285.1 220.3L1285.9 222.3L1286.7 222.1L1287.4 222.4L1288.0 222.4L1288.7 221.7L1289.3 223.3L1290.0 224.0L1290.7 223.1L1291.3 223.1L1292.0 224.4L1292.7 225.9L1293.4 226.7L1294.1 227.2L1294.8 226.9L1295.5 227.9L1296.2 228.3L1296.9 229.5L1297.6 229.1L1298.3 230.1L1299.0 231.3L1299.7 231.0L1300.5 230.9L1301.2 231.2L1301.9 232.6L1302.6 232.4L1303.3 232.0L1304.1 233.0L1304.8 233.3L1305.5 232.4L1306.2 232.4L1306.9 232.4L1307.6 233.2L1308.3 232.3L1309.0 231.6L1309.7 232.7L1310.4 231.6L1311.2 231.6L1311.9 230.8L1312.6 230.6L1313.3 231.1L1314.1 230.2L1314.8 229.0L1315.5 229.3L1316.2 229.5L1317.0 228.7L1317.7 228.2L1318.4 227.0L1319.2 226.4L1319.9 226.2L1320.6 226.2L1321.4 225.4L1322.1 224.6L1322.8 224.9L1323.6 224.3L1324.3 223.5L1325.0 222.7L1325.8 223.2L1326.5 222.4L1327.2 222.4L1328.0 222.0L1328.8 221.7L1329.5 221.1L1330.3 220.9L1331.0 220.7L1331.8 220.1L1332.6 219.5L1333.4 218.9L1334.1 219.1L1334.9 218.2L1335.7 218.3L1336.5 218.4L1337.2 217.9L1338.0 217.2L1338.8 216.9L1339.5 216.7L1340.3 216.6L1341.0 216.3L1341.8 216.1L1342.5 215.7L1343.2 215.2L1344.0 215.3L1344.7 215.2L1345.4 214.7L1346.1 214.2L1346.7 214.5L1347.4 214.2L1348.3 214.0L1349.2 213.5L1350.1 213.2L1350.9 213.3L1351.7 212.9L1352.6 212.8L1353.4 212.5L1354.2 212.9L1355.0 212.2L1355.8 212.3L1356.6 212.4L1357.4 212.4L1358.3 212.1L1359.1 211.6L1360.0 211.9L1360.8 212.0L1361.5 211.6L1362.3 211.6L1363.1 212.1L1363.9 212.4L1364.7 211.7L1365.6 211.0L1366.4 212.0L1367.2 212.0L1368.0 211.7L1368.9 211.3L1369.7 211.7L1370.5 211.9L1371.3 212.0L1372.2 211.9L1373.0 211.5L1373.8 211.1L1374.6 211.0L1375.4 211.2L1376.2 211.0L1377.0 210.4L1377.7 209.9L1378.5 210.2L1379.2 209.3L1379.9 209.7L1380.6 208.7L1381.4 208.9L1382.1 208.7L1382.8 207.2L1383.5 207.1L1384.2 207.0L1384.9 206.8L1385.7 206.4L1386.4 205.7L1387.1 205.2L1387.9 205.1L1388.7 204.9L1389.5 204.0L1390.3 204.2L1391.1 203.8L1391.9 204.0L1392.6 203.0L1393.4 203.3L1394.1 203.7L1394.9 203.4L1395.7 203.1L1396.5 203.1L1397.3 203.4L1398.1 203.3L1398.9 203.5L1399.7 203.2L1400.6 203.5L1401.4 203.7L1402.2 203.9L1403.1 203.8L1403.9 204.1L1404.8 203.8L1405.6 203.8L1406.5 204.7L1407.3 204.5L1408.2 205.1L1409.0 205.3L1409.8 205.1L1410.7 205.4L1411.5 205.0L1412.3 205.4L1413.1 205.9L1413.9 205.7L1414.6 206.2L1415.4 206.2L1416.2 207.0L1417.1 206.4L1417.9 207.2L1418.6 207.0L1419.4 207.4L1420.2 207.2L1420.9 207.3L1421.6 207.6L1422.4 208.6L1423.1 208.4L1423.8 209.1L1424.6 209.2L1425.3 208.8L1426.1 209.4L1426.8 209.4L1427.6 209.8L1428.4 210.5L1429.2 210.7L1430.1 211.0L1431.0 210.7L1431.9 210.8L1432.8 211.6L1433.8 211.5L1434.4 211.2L1435.1 211.4L1435.7 211.7L1436.4 211.5L1437.1 211.6L1437.8 211.9L1438.6 211.6L1439.3 211.8L1440.1 211.8L1440.9 211.8L1441.6 212.1L1442.4 211.8L1443.3 212.2L1444.1 211.6L1444.9 211.6L1445.8 212.0L1446.6 211.7L1447.5 211.6L1448.3 211.1L1449.2 211.4L1450.1 211.5L1451.0 211.7L1451.9 211.0L1452.8 211.4L1453.6 211.1L1454.5 210.9L1455.5 211.0L1456.4 210.5L1457.3 211.2L1458.2 211.0L1459.1 211.0L1460.0 210.7L1460.9 210.6L1461.8 210.4L1462.7 210.4L1463.6 210.3L1464.4 210.3L1465.3 210.1L1466.2 210.9L1467.1 210.6L1467.9 210.3L1468.8 210.7L1469.6 210.4L1470.5 210.7L1471.3 210.6L1472.1 210.5L1472.9 210.8L1473.7 210.0L1474.5 210.2L1475.3 210.5L1476.0 210.7L1476.8 211.0L1477.5 210.9L1478.2 210.5L1478.9 211.1L1479.6 211.3L1480.3 211.8L1480.9 211.3L1481.8 212.3L1482.6 212.0L1483.4 211.8L1484.2 212.5L1484.9 213.0L1485.7 212.8L1486.4 213.6L1487.1 213.8L1487.8 214.2L1488.4 214.8L1489.1 215.6L1489.7 216.2L1490.4 216.3L1491.0 216.4L1491.6 217.0L1492.3 217.6L1492.9 218.1L1493.5 218.9L1494.2 218.7L1494.8 219.4L1495.4 219.7L1496.1 220.5L1496.7 220.3L1497.4 221.0L1498.1 222.1L1498.8 221.7L1499.5 222.6L1500.3 222.8L1501.0 223.4L1501.8 223.6L1502.5 223.2L1503.2 224.1L1504.0 224.0L1504.7 224.0L1505.5 224.7L1506.2 224.6L1507.0 225.1L1507.8 225.1L1508.6 224.6L1509.4 224.8L1510.2 225.4L1511.0 225.3L1511.8 225.8L1512.6 225.6L1513.4 225.6L1514.3 225.9L1515.1 225.9L1515.9 225.6L1516.8 225.7L1517.6 226.4L1518.5 226.1L1519.3 226.2L1520.2 226.8L1521.0 226.4L1521.8 226.6L1522.7 227.2L1523.5 226.7L1524.3 226.9L1525.2 227.6L1526.0 227.2L1526.8 226.9L1527.7 227.2L1528.5 227.2L1529.3 227.8L1530.1 227.4L1530.9 227.9L1531.7 227.8L1532.4 228.6L1533.2 228.1L1534.0 228.6L1534.9 229.2L1535.7 228.8L1536.5 228.7L1537.3 229.4L1538.1 229.6L1538.9 229.3L1539.7 229.9L1540.6 230.0L1541.4 230.4L1542.1 230.6L1542.9 231.0L1543.7 231.3L1544.5 230.9L1545.3 231.5L1546.1 231.3L1546.9 231.7L1547.7 232.3L1548.5 232.0L1549.2 231.9L1550.0 232.6L1550.8 232.6L1551.6 233.0L1552.4 233.1L1553.1 233.4L1553.9 233.6L1554.7 234.4L1555.5 234.2L1556.3 234.7L1557.0 234.8L1557.8 235.0L1558.6 235.0L1559.4 235.1L1560.2 235.3L1560.9 236.1L1561.7 236.1L1562.5 236.3L1563.2 237.0L1564.0 236.7L1564.8 237.4L1565.6 237.0L1566.4 238.0L1567.2 237.6L1568.0 238.2L1568.8 238.6L1569.6 239.2L1570.4 239.4L1571.2 239.8L1571.9 240.0L1572.7 239.7L1573.5 240.3L1574.3 240.5L1575.1 241.5L1575.8 241.3L1576.6 241.5L1577.3 242.0L1578.1 242.2L1578.8 242.8L1579.5 242.7L1580.3 243.8L1581.0 243.2L1581.7 244.0L1582.4 243.6L1583.0 244.2L1583.7 244.6L1584.3 244.9L1585.0 244.6L1585.6 245.3L1586.4 245.6L1587.3 245.9L1588.0 246.6L1588.8 246.5L1589.5 246.9L1590.2 247.7L1590.9 248.1L1591.6 248.2L1592.3 248.3L1592.9 248.7L1593.6 248.8L1594.3 249.4L1595.0 250.0L1595.7 250.4L1596.4 250.5L1597.1 251.3L1597.9 251.2L1598.7 251.5L1599.2 252.6L1599.8 252.8L1600.3 253.2L1600.9 253.8L1601.5 253.9L1602.0 254.2L1602.6 254.9L1603.2 255.3L1603.8 255.8L1604.4 256.2L1605.0 256.5L1605.6 257.0L1606.2 257.9L1606.8 258.8L1607.5 259.3L1608.1 260.0L1608.7 259.7L1609.4 260.5L1610.0 261.2L1610.6 262.2L1611.3 262.1L1611.9 263.0L1612.6 263.6L1613.2 264.4L1613.9 264.3L1614.5 265.3L1615.2 266.1L1615.8 266.9L1616.5 266.9L1617.1 267.3L1617.8 267.8L1618.4 269.2L1619.1 269.7L1619.7 269.8L1620.4 270.2L1621.0 270.9L1621.7 272.0L1622.3 272.3L1623.0 272.6L1623.6 273.6L1624.3 273.4L1624.9 274.0L1625.6 274.4L1626.2 275.1L1626.9 275.8L1627.6 276.1L1628.3 277.0L1629.0 277.5L1629.7 277.7L1630.4 277.9L1631.1 278.9L1631.8 279.7L1632.5 279.7L1633.2 279.9L1633.9 280.5L1634.6 281.1L1635.3 281.5L1636.0 282.2L1636.7 283.1L1637.4 283.1L1638.1 283.5L1638.8 284.3L1639.5 284.3L1640.2 284.9L1640.9 285.9L1641.6 285.8L1642.3 286.3L1643.0 287.0L1643.6 287.4L1644.3 287.6L1644.9 288.6L1645.6 289.1L1646.2 289.2L1646.9 289.6L1647.5 289.8L1648.1 290.2L1648.7 290.8L1649.3 291.6L1649.9 291.7L1650.4 292.2L1651.0 292.7L1651.8 293.2L1652.5 293.6L1653.3 293.9L1654.0 294.8L1654.7 295.4L1655.4 295.5L1656.1 296.1L1656.7 296.8L1657.4 297.2L1658.1 297.3L1658.7 298.1L1659.3 298.6L1659.9 298.9L1660.6 299.4L1661.2 299.9L1661.8 300.6L1662.4 301.2L1662.9 301.6L1663.5 302.2L1664.1 303.2L1664.6 303.4L1665.1 303.7L1665.5 304.9L1666.0 305.1L1666.4 306.0L1666.9 306.6L1667.3 307.4L1667.7 308.1L1668.1 308.9L1668.5 309.8L1668.9 309.9L1669.3 310.7L1669.7 311.5L1670.1 311.8L1670.5 313.5L1670.9 314.1L1671.3 314.3L1671.7 315.1L1672.1 316.0L1672.5 316.1L1672.8 317.3L1673.2 317.8L1673.6 319.4L1674.0 319.4L1674.4 320.7L1674.8 321.3L1675.2 322.0L1675.5 322.6L1675.9 323.4L1676.2 324.5L1676.5 324.6L1676.9 325.7L1677.2 325.9L1677.5 326.7L1677.9 327.7L1678.2 328.1L1678.5 328.9L1678.9 330.1L1679.2 330.9L1679.5 331.1L1679.8 331.7L1680.2 332.7L1680.5 333.8L1680.8 334.5L1681.1 335.4L1681.5 335.7L1681.8 336.8L1682.1 337.6L1682.4 337.7L1682.8 338.7L1683.1 340.0L1683.4 340.1L1683.8 341.2L1684.1 342.0L1684.4 343.0L1684.8 343.5L1685.1 344.5L1685.4 345.0L1685.8 345.9L1686.1 346.4L1686.4 347.8L1686.8 347.7L1687.1 348.6L1687.5 349.2L1687.8 350.4L1688.2 350.2L1688.5 351.4L1688.9 352.5L1689.3 353.0L1689.6 354.0L1690.0 353.9L1690.3 355.1L1690.7 355.6L1691.0 356.2L1691.4 357.7L1691.7 358.2L1692.1 359.1L1692.4 359.6L1692.8 360.0L1693.2 360.7L1693.5 361.1L1693.9 362.3L1694.3 362.9L1694.6 364.1L1695.0 365.0L1695.4 365.4L1695.8 365.5L1696.2 366.3L1696.6 367.3L1697.0 368.0L1697.5 368.4L1697.9 369.2L1698.4 370.4L1698.8 370.7L1699.3 371.2L1699.8 371.9L1700.3 372.6L1700.7 373.2L1701.2 374.1L1701.6 374.6L1702.1 374.8L1702.5 376.2L1703.0 376.6L1703.5 376.8L1704.0 378.3L1704.5 378.2L1705.0 378.5L1705.5 379.7L1706.0 379.8L1706.5 380.5L1707.0 381.1L1707.5 382.0L1708.1 382.9L1708.6 383.3L1709.2 383.5L1709.7 384.7L1710.3 385.2L1710.8 386.1L1711.4 385.9L1711.9 386.8L1712.5 387.5L1713.1 388.7L1713.7 388.7L1714.2 389.3L1714.8 390.5L1715.4 390.7L1716.0 391.4L1716.6 391.7L1717.2 392.4L1717.7 393.3L1718.3 394.3L1718.9 394.7L1719.5 395.6L1720.1 395.7L1720.7 396.7L1721.3 396.9L1721.9 397.1L1722.5 398.2L1723.1 398.2L1723.6 399.5L1724.2 399.2L1724.8 399.6L1725.4 400.7L1726.1 401.1L1726.7 401.3L1727.4 401.7L1728.1 402.0L1728.8 402.7L1729.4 403.0L1730.1 403.9L1730.8 404.7L1731.5 404.8L1732.2 405.0L1732.9 405.9L1733.6 405.8L1734.3 406.8L1735.1 407.2L1735.8 407.5L1736.5 407.5L1737.2 408.0L1737.9 408.9L1738.6 409.7L1739.3 409.5L1740.0 409.6L1740.7 410.8L1741.5 411.0L1742.2 411.1L1742.9 411.4L1743.6 411.7L1744.3 412.1L1745.0 412.4L1745.7 413.3L1746.4 413.4L1747.1 413.7L1747.8 413.9L1748.5 414.3L1749.1 414.5L1749.8 415.3L1750.5 414.9L1751.3 415.6L1752.1 416.3L1752.9 416.3L1753.7 416.7L1754.5 417.7L1755.3 417.7L1756.2 417.7L1757.0 418.2L1757.8 418.5L1758.6 419.4L1759.4 419.8L1760.2 420.0L1761.0 420.8L1761.8 420.8L1762.6 420.9L1763.4 421.1L1764.1 421.7L1764.9 422.3L1765.6 421.8L1766.4 422.2L1767.1 422.2L1767.8 422.2L1768.5 422.5L1769.2 422.8L1769.8 423.0L1770.5 422.7L1771.5 423.1L1772.4 422.7L1773.3 423.2L1774.2 422.6L1775.0 422.7L1775.9 422.5L1776.7 421.8L1777.5 421.6L1778.3 421.6L1779.0 421.0L1779.8 420.5L1780.5 420.4L1781.2 420.3L1781.8 419.1L1782.4 418.5L1783.1 418.2L1783.6 417.1L1784.2 416.6L1784.8 415.7L1785.3 415.1L1785.9 414.4L1786.4 414.1L1787.0 413.4L1787.5 413.1L1788.1 412.6L1788.9 412.5L1789.7 413.1L1790.5 413.2L1791.3 413.2L1792.1 413.5L1793.0 414.3L1793.7 414.8L1794.5 414.4L1795.2 415.4L1796.0 415.9L1796.8 416.4L1797.6 417.1L1798.4 417.1L1799.2 417.6L1799.9 416.7L1800.6 419.8L1801.1 420.4L1801.6 412.3L1802.0 402.0L1802.4 410.9L1802.9 418.5L1803.3 414.2L1803.7 415.5L1804.1 412.2L1804.5 413.2L1804.9 412.9L1805.3 416.1L1805.7 409.8L1806.1 401.4L1806.4 414.9L1806.8 405.6L1807.3 408.7L1807.7 405.5L1808.1 405.6L1808.3 407.3L1808.4 405.5L1808.6 401.2L1808.7 409.2L1808.9 406.9L1809.0 414.6L1809.2 407.5L1809.3 401.8L1809.5 408.4L1809.6 402.1L1809.8 398.4L1810.0 402.7L1810.1 402.6L1810.3 401.1L1810.4 405.7L1810.6 403.6L1810.8 396.9L1810.9 397.0L1811.1 392.9L1811.3 406.2L1811.4 393.5L1811.6 407.2L1811.7 396.6L1811.9 395.0L1812.1 401.3L1812.2 399.5L1812.4 399.3L1812.6 395.9L1812.7 400.4L1812.9 400.8L1813.1 399.0L1813.2 385.0L1813.4 389.5L1813.5 398.8L1813.7 382.5L1813.9 396.5L1814.0 390.5L1814.2 392.7L1814.4 393.0L1814.5 395.7L1814.7 393.6L1814.8 397.0L1815.0 386.9L1815.2 391.6L1815.3 395.0L1815.5 391.8L1815.6 390.2L1815.8 387.0L1816.0 393.5L1816.1 396.9L1816.3 391.7L1816.4 384.3L1816.6 384.5L1816.7 390.6L1816.9 385.1L1817.0 384.0L1817.2 387.5L1817.3 379.4L1817.5 388.8L1817.6 388.6L1817.8 377.6L1817.9 384.5L1818.1 393.6L1818.2 384.3L1818.3 388.7L1818.4 389.7L1818.5 381.1L1818.6 387.4L1818.8 383.4L1818.9 382.6L1819.0 381.5L1819.1 387.4L1819.2 383.2L1819.3 387.5L1819.4 378.3L1819.5 384.9L1819.6 383.6L1819.7 379.4L1819.8 377.0L1820.0 377.3L1820.1 381.2L1820.2 378.7L1820.3 376.7L1820.4 385.2L1820.5 374.8L1820.6 380.2L1820.7 382.6L1820.8 372.5L1820.9 376.3L1821.0 378.1L1821.1 378.6L1821.2 374.3L1821.3 378.4L1821.4 379.9L1821.5 368.6L1821.6 370.5L1821.7 373.3L1821.8 372.0L1821.9 372.7L1822.0 369.8L1822.1 379.1L1822.3 369.3L1822.4 373.4L1822.5 372.9L1822.6 368.8L1822.7 363.3L1822.8 370.8L1822.9 366.9L1823.0 367.3L1823.0 368.2L1823.1 368.4L1823.2 366.2L1823.3 371.1L1823.4 372.7L1823.5 372.0L1823.6 362.7L1823.7 369.1L1823.8 363.5L1823.9 364.5L1824.0 371.0L1824.1 363.4L1824.2 375.0L1824.3 358.9L1824.4 368.7L1824.5 362.7L1824.6 365.8L1824.7 362.7L1824.8 359.5L1824.9 368.1L1825.0 364.6L1825.1 360.6L1825.1 364.0L1825.2 365.3L1825.3 356.5L1825.4 360.6L1825.5 364.8L1825.6 362.4L1825.7 362.7L1825.8 358.9L1825.9 358.5L1826.0 362.5L1826.0 361.9L1826.1 359.3L1826.2 353.2L1826.3 350.2L1826.4 366.1L1826.5 357.3L1826.6 354.8L1826.6 359.9L1826.7 353.0L1826.8 358.0L1826.9 359.6L1827.0 360.5L1827.1 351.6L1827.2 353.9L1827.2 351.0L1827.3 345.5L1827.4 350.6L1827.5 350.5L1827.6 357.2L1827.6 356.4L1827.7 344.9L1827.8 346.2L1827.9 353.6L1828.0 358.6L1828.0 354.5L1828.1 352.4L1828.2 345.8L1828.3 345.7L1828.4 356.7L1828.5 352.8L1828.6 355.0L1828.7 344.2L1828.8 344.3L1828.9 343.7L1829.0 341.4L1829.1 347.9L1829.2 340.9L1829.3 342.9L1829.4 343.8L1829.5 350.9L1829.6 340.9L1829.7 344.3L1829.7 345.4L1829.8 347.8L1829.9 336.5L1830.0 341.4L1830.1 349.3L1830.2 343.4L1830.3 336.8L1830.4 342.3L1830.5 334.1L1830.6 341.0L1830.7 340.5L1830.8 342.1L1830.8 338.5L1830.9 333.1L1831.0 333.2L1831.1 335.9L1831.2 335.7L1831.3 342.6L1831.4 332.2L1831.4 341.6L1831.5 337.3L1831.6 338.9L1831.7 343.3L1831.8 333.6L1831.8 338.3L1831.9 336.0L1832.0 331.7L1832.1 328.3L1832.2 330.3L1832.2 333.3L1832.3 331.7L1832.4 335.3L1832.4 336.4L1832.5 338.6L1832.6 332.3L1832.6 330.4L1832.7 328.3L1832.8 333.1L1832.8 332.1L1832.9 335.2L1833.0 337.7L1833.0 328.9L1833.1 328.0L1833.1 330.4L1833.2 332.5L1833.2 330.0L1833.3 328.1L1833.4 324.6L1833.4 328.7L1833.5 334.9L1833.5 332.5L1833.5 329.8L1833.6 327.0L1833.6 324.5L1833.7 326.0L1833.7 333.2L1833.7 326.9L1833.8 319.9L1833.8 327.8L1833.8 326.4L1833.9 316.3L1833.9 330.6L1833.9 330.0L1833.9 326.7L1834.0 324.6L1834.0 315.4L1834.0 321.0L1834.0 320.3L1834.0 314.4L1834.0 319.4L1834.1 318.6L1834.1 325.7L1834.1 320.6L1834.1 314.8L1834.1 310.9L1834.1 321.7L1834.1 311.3L1834.2 315.6L1834.2 323.6L1834.2 318.6L1834.2 317.0L1834.2 315.4L1834.2 318.2L1834.2 317.2L1834.2 311.4L1834.2 313.5L1834.2 320.1L1834.2 314.5L1834.2 312.6L1834.2 310.6L1834.2 313.1L1834.2 309.8L1834.2 312.6L1834.2 314.4L1834.2 315.7L1834.2 305.8L1834.2 311.5L1834.2 306.2L1834.2 314.6L1834.2 317.0L1834.2 306.2L1834.2 316.6L1834.2 316.6L1834.2 305.4L1834.2 316.5L1834.2 305.1L1834.2 313.4L1834.2 304.7L1834.2 304.1L1834.2 314.5L1834.2 303.5L1834.2 301.9L1834.2 306.4L1834.2 311.7L1834.2 305.1L1834.2 309.8L1834.2 305.6L1834.2 308.8L1834.2 297.8L1834.2 306.7L1834.2 306.1L1834.2 310.5L1834.2 308.4L1834.2 299.8L1834.2 297.1L1834.2 295.8L1834.2 302.9L1834.2 302.3L1834.2 296.3L1834.2 297.2L1834.2 305.7L1834.2 302.9L1834.2 301.1L1834.2 293.2L1834.2 301.4L1834.2 294.6L1834.2 293.3L1834.2 294.2L1834.2 292.1L1834.2 302.5L1834.2 310.9L1834.3 290.9L1834.3 295.1L1834.3 301.5L1834.3 288.6L1834.3 295.8L1834.3 291.8L1834.3 292.2L1834.3 298.0L1834.3 296.9L1834.3 299.4L1834.3 286.1L1834.3 293.1L1834.3 291.4L1834.3 289.1L1834.3 293.5L1834.3 290.5L1834.3 285.5L1834.3 289.6L1834.3 282.3L1834.3 287.2L1834.3 291.4L1834.3 294.5L1834.3 290.0L1834.3 284.6L1834.3 287.0L1834.3 286.8L1834.3 283.7L1834.3 280.7L1834.3 287.4L1834.3 284.3L1834.3 280.7L1834.3 284.5L1834.4 281.9L1834.4 291.4L1834.4 284.1L1834.4 278.2L1834.4 276.7L1834.4 281.0L1834.4 278.8L1834.4 285.0L1834.4 283.0L1834.4 276.4L1834.4 268.8L1834.4 278.3L1834.4 284.1L1834.4 282.3L1834.4 278.7L1834.4 277.6L1834.4 277.8L1834.4 273.5L1834.4 271.0L1834.4 279.9L1834.4 269.9L1834.4 266.1L1834.4 273.5L1834.4 267.5L1834.4 267.2L1834.4 271.2L1834.4 273.4L1834.4 273.7L1834.4 269.7L1834.4 272.8L1834.4 263.7L1834.4 266.0L1834.4 261.1L1834.4 260.7L1834.4 273.4L1834.4 266.8L1834.4 270.6L1834.4 260.7L1834.4 268.6L1834.4 260.7L1834.4 265.4L1834.4 272.1L1834.4 263.2L1834.4 261.1L1834.4 260.6L1834.4 266.3L1834.4 265.0L1834.4 257.0L1834.4 263.1L1834.4 262.8L1834.4 256.2L1834.4 259.0L1834.5 256.3L1834.5 265.1L1834.5 253.8L1834.5 259.6L1834.5 251.1L1834.5 261.7L1834.5 258.5L1834.5 259.4L1834.5 253.8L1834.5 257.8L1834.5 260.3L1834.5 256.2L1834.5 254.4L1834.5 255.8L1834.5 250.7L1834.5 250.5L1834.5 254.6L1834.5 257.7L1834.5 252.8L1834.5 254.3L1834.5 253.0L1834.5 249.2L1834.5 246.3L1834.5 252.2L1834.5 253.0L1834.5 253.1L1834.5 249.6L1834.5 246.4L1834.5 243.7L1834.5 252.2L1834.5 241.6L1834.5 242.7L1834.5 245.3L1834.5 239.4L1834.5 239.3L1834.5 243.0L1834.5 250.9L1834.5 248.2L1834.5 249.9L1834.5 244.4L1834.5 245.0L1834.5 248.1L1834.5 244.2L1834.5 239.1L1834.5 240.6L1834.5 245.3L1834.5 242.2L1834.5 237.7L1834.5 243.4L1834.5 234.7L1834.5 247.9L1834.5 238.3L1834.5 234.2L1834.5 239.0L1834.5 233.3L1834.5 239.3L1834.5 236.3L1834.5 242.0L1834.5 238.0L1834.5 232.0L1834.5 235.5L1834.5 236.1L1834.5 236.0L1834.5 244.2L1834.5 232.8L1834.5 239.7L1834.5 242.3L1834.5 238.6L1834.5 234.4L1834.5 237.6L1834.5 238.7L1834.5 226.1L1834.5 242.4L1834.5 241.3L1834.5 233.7L1834.5 229.6L1834.5 232.3L1834.5 229.4L1834.5 236.0L1834.5 240.8L1834.5 239.5L1834.5 235.7L1834.5 230.8L1834.5 233.7L1834.5 227.3L1834.5 233.0L1834.5 237.6L1834.5 230.9L1834.5 241.2L1834.5 234.0L1834.5 234.0L1834.5 234.0" stroke="#22a35c" stroke-width="4.0"/>
</g>
<!-- frame -->
<g stroke="#000" fill="none">
<path d="M186.8 1379 V15.5 H1847.5 V1379" stroke-width="5.5" stroke-linejoin="miter"/>
<line x1="186" y1="1353.8" x2="1848" y2="1353.8" stroke="#333" stroke-width="4"/>
</g>
<g stroke="#000" stroke-width="4.5" stroke-linecap="round"><line x1="186.0" y1="1352" x2="186.0" y2="1379" /><line x1="304.7" y1="1352" x2="304.7" y2="1365" /><line x1="423.4" y1="1352" x2="423.4" y2="1379" /><line x1="542.1" y1="1352" x2="542.1" y2="1365" /><line x1="660.8" y1="1352" x2="660.8" y2="1379" /><line x1="779.5" y1="1352" x2="779.5" y2="1365" /><line x1="898.2" y1="1352" x2="898.2" y2="1379" /><line x1="1016.9" y1="1352" x2="1016.9" y2="1365" /><line x1="1135.6" y1="1352" x2="1135.6" y2="1379" /><line x1="1254.3" y1="1352" x2="1254.3" y2="1365" /><line x1="1373.0" y1="1352" x2="1373.0" y2="1379" /><line x1="1491.7" y1="1352" x2="1491.7" y2="1365" /><line x1="1610.4" y1="1352" x2="1610.4" y2="1379" /><line x1="1729.1" y1="1352" x2="1729.1" y2="1365" /><line x1="1847.8" y1="1352" x2="1847.8" y2="1379" /></g>
<g font-size="56"><text transform="translate(184.7 1442) scale(1 1.025)" text-anchor="middle">4000</text><text transform="translate(422.1 1442) scale(1 1.025)" text-anchor="middle">3500</text><text transform="translate(659.5 1442) scale(1 1.025)" text-anchor="middle">3000</text><text transform="translate(896.9 1442) scale(1 1.025)" text-anchor="middle">2500</text><text transform="translate(1134.3 1442) scale(1 1.025)" text-anchor="middle">2000</text><text transform="translate(1371.7 1442) scale(1 1.025)" text-anchor="middle">1500</text><text transform="translate(1609.1 1442) scale(1 1.025)" text-anchor="middle">1000</text><text transform="translate(1846.5 1442) scale(1 1.025)" text-anchor="middle">500</text></g>
<!-- axis titles -->
<text x="710.2" y="1557.5" font-size="70">Wavenumber (cm<tspan font-size="49" dy="-28">-1</tspan><tspan dy="28" dx="-2">)</tspan></text>
<text transform="translate(77.4 655.3) rotate(-90)" text-anchor="middle" font-size="70">Transmitance (%)</text>
<!-- legend -->
<rect x="447.3" y="55.5" width="1096.2" height="89" fill="none" stroke="#151515" stroke-width="3"/>
<g stroke-width="4.6" stroke-linecap="round">
<line x1="456" y1="94.5" x2="582" y2="94.5" stroke="#383838"/>
<line x1="723" y1="94.5" x2="850" y2="94.5" stroke="#f22d2f"/>
<line x1="998" y1="94.5" x2="1126" y2="94.5" stroke="#1059d9"/>
<line x1="1271" y1="94.5" x2="1401" y2="94.5" stroke="#22a35c"/>
</g>
<g font-size="57">
<text transform="translate(597.5 113.6) scale(1 1.05)">TiO<tspan font-size="40" dy="14.8">2</tspan></text>
<text transform="translate(866.4 113.6) scale(1 1.05)">TZ-1</text>
<text transform="translate(1139.7 113.6) scale(1 1.05)">TZ-3</text>
<text transform="translate(1416.2 113.6) scale(1 1.05)">TZ-5</text>
</g>
<!-- annotations -->
<text transform="translate(429.7 1218) scale(1 1.07)" font-size="56.3">3400</text>
<text transform="translate(957.9 976.5) scale(1 1.07)" font-size="56.2">2150</text>
<text transform="translate(1101.8 958) scale(1 1.07)" font-size="57.1">2020</text>
<text transform="translate(1235.9 1000.7) scale(1 1.07)" font-size="57">1630</text>
<text transform="translate(1482.3 992.2) scale(1 1.07)" font-size="56.5">550</text>
<text transform="translate(1519.7 1141.5) scale(1 1.07)" font-size="57.1">605</text>
<text transform="translate(1495 1249.2) scale(1 1.07)" font-size="57.5">640</text>
<g font-size="38.3" font-weight="bold">
<text x="963.4" y="1014">Trapped CO<tspan dy="16.4" dx="2">2</tspan></text>
<text x="1287.4" y="1035.7" font-size="39">O-H</text>
<text x="1469.1" y="937.8">O-Ti-O</text>
<text x="1527.8" y="1090.5">Ti-O</text>
<text x="1484.3" y="1289.2">Ti-OH</text>
</g>
<!-- arrows -->
<g stroke="#000" stroke-width="3" fill="#000" stroke-linecap="round">
<line x1="1660.3" y1="1116.4" x2="1794.5" y2="1116.4"/>
<path d="M1760.6 1107.2 L1762.6 1109.8 L1771.1 1110.8 L1774.1 1112.8 L1783.6 1113.8 L1787.6 1115.8 L1787.6 1117.0 L1783.6 1119.0 L1774.1 1120.0 L1771.1 1122.0 L1762.6 1123.0 L1760.6 1125.6 Z" stroke="none"/>
<line x1="1640" y1="1223" x2="1778" y2="1223"/>
<path d="M1744.0 1213.8 L1746.0 1216.4 L1754.5 1217.4 L1757.5 1219.4 L1767.0 1220.4 L1771.0 1222.4 L1771.0 1223.6 L1767.0 1225.6 L1757.5 1226.6 L1754.5 1228.6 L1746.0 1229.6 L1744.0 1232.2 Z" stroke="none"/>
<line x1="1784" y1="968" x2="1812" y2="968" stroke-width="4.6"/>
<path d="M1782.5 959.7 L1784.3 962.1 L1792.0 963.0 L1794.7 964.8 L1803.2 965.7 L1806.8 967.5 L1806.8 968.5 L1803.2 970.3 L1794.7 971.2 L1792.0 973.0 L1784.3 973.9 L1782.5 976.3 Z" stroke="none"/>
</g>
</svg>
</body></html>
